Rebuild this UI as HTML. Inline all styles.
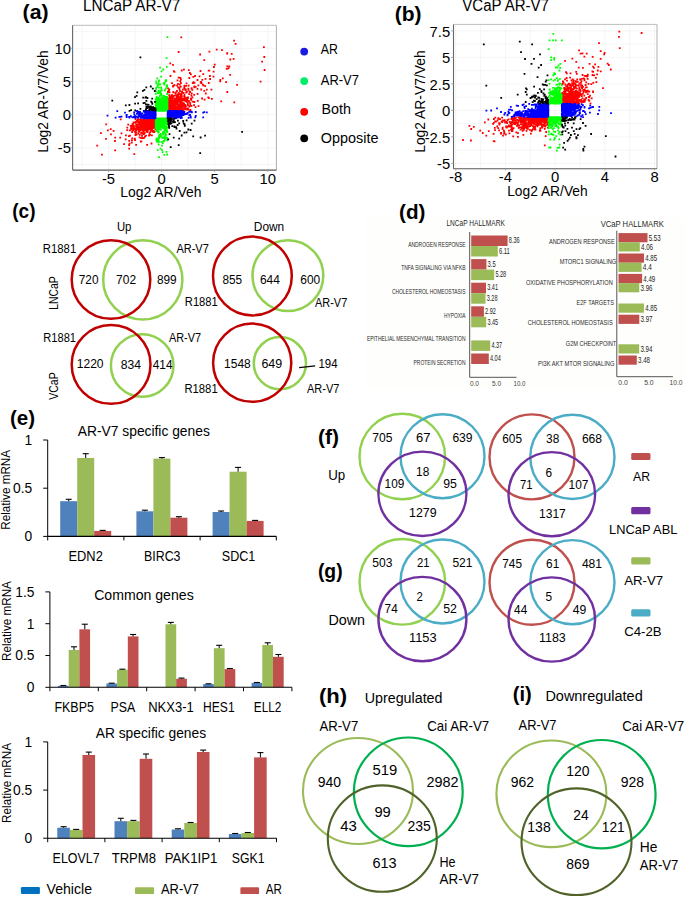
<!DOCTYPE html><html><head><meta charset="utf-8"><style>html,body{margin:0;padding:0;background:#fff;}svg{display:block;}text{font-family:"Liberation Sans",sans-serif;}</style></head><body><svg width="685" height="897" viewBox="0 0 685 897" font-family="Liberation Sans, sans-serif">
<rect x="0.0" y="0.0" width="685.0" height="897.0" fill="#ffffff"/>
<rect x="72.6" y="25.3" width="203.8" height="144.8" fill="#ffffff"/>
<line x1="82.0" y1="25.3" x2="82.0" y2="170.1" stroke="#f0f0f0" stroke-width="0.7"/>
<line x1="108.5" y1="25.3" x2="108.5" y2="170.1" stroke="#f0f0f0" stroke-width="0.7"/>
<line x1="135.1" y1="25.3" x2="135.1" y2="170.1" stroke="#f0f0f0" stroke-width="0.7"/>
<line x1="161.6" y1="25.3" x2="161.6" y2="170.1" stroke="#f0f0f0" stroke-width="0.7"/>
<line x1="188.1" y1="25.3" x2="188.1" y2="170.1" stroke="#f0f0f0" stroke-width="0.7"/>
<line x1="214.7" y1="25.3" x2="214.7" y2="170.1" stroke="#f0f0f0" stroke-width="0.7"/>
<line x1="241.2" y1="25.3" x2="241.2" y2="170.1" stroke="#f0f0f0" stroke-width="0.7"/>
<line x1="267.8" y1="25.3" x2="267.8" y2="170.1" stroke="#f0f0f0" stroke-width="0.7"/>
<line x1="72.6" y1="31.7" x2="276.4" y2="31.7" stroke="#f0f0f0" stroke-width="0.7"/>
<line x1="72.6" y1="48.3" x2="276.4" y2="48.3" stroke="#f0f0f0" stroke-width="0.7"/>
<line x1="72.6" y1="64.9" x2="276.4" y2="64.9" stroke="#f0f0f0" stroke-width="0.7"/>
<line x1="72.6" y1="81.4" x2="276.4" y2="81.4" stroke="#f0f0f0" stroke-width="0.7"/>
<line x1="72.6" y1="98.0" x2="276.4" y2="98.0" stroke="#f0f0f0" stroke-width="0.7"/>
<line x1="72.6" y1="114.6" x2="276.4" y2="114.6" stroke="#f0f0f0" stroke-width="0.7"/>
<line x1="72.6" y1="131.2" x2="276.4" y2="131.2" stroke="#f0f0f0" stroke-width="0.7"/>
<line x1="72.6" y1="147.8" x2="276.4" y2="147.8" stroke="#f0f0f0" stroke-width="0.7"/>
<line x1="72.6" y1="164.3" x2="276.4" y2="164.3" stroke="#f0f0f0" stroke-width="0.7"/>
<path fill="#ff0000" d="M151.9 121.9h1.8v1.8h-1.8zM147.1 122.8h1.8v1.8h-1.8zM154.2 118.9h1.8v1.8h-1.8zM179.6 104.7h1.8v1.8h-1.8zM172.8 105.1h1.8v1.8h-1.8zM153.7 119.3h1.8v1.8h-1.8zM174.4 103.6h1.8v1.8h-1.8zM144.9 119.6h1.8v1.8h-1.8zM173.8 102.8h1.8v1.8h-1.8zM148.5 118.4h1.8v1.8h-1.8zM170.2 102.7h1.8v1.8h-1.8zM168.9 105.2h1.8v1.8h-1.8zM150.1 129.4h1.8v1.8h-1.8zM144.8 121.7h1.8v1.8h-1.8zM146.6 120.0h1.8v1.8h-1.8zM141.6 125.5h1.8v1.8h-1.8zM183.8 105.0h1.8v1.8h-1.8zM145.5 119.3h1.8v1.8h-1.8zM152.1 119.7h1.8v1.8h-1.8zM176.7 103.0h1.8v1.8h-1.8zM145.1 127.7h1.8v1.8h-1.8zM173.6 105.6h1.8v1.8h-1.8zM152.1 117.6h1.8v1.8h-1.8zM168.2 104.1h1.8v1.8h-1.8zM172.7 109.6h1.8v1.8h-1.8zM148.8 121.0h1.8v1.8h-1.8zM170.2 107.1h1.8v1.8h-1.8zM171.3 103.9h1.8v1.8h-1.8zM151.5 118.7h1.8v1.8h-1.8zM168.2 106.6h1.8v1.8h-1.8zM141.5 121.0h1.8v1.8h-1.8zM176.7 107.3h1.8v1.8h-1.8zM173.6 105.8h1.8v1.8h-1.8zM153.0 120.6h1.8v1.8h-1.8zM152.1 125.4h1.8v1.8h-1.8zM178.9 104.5h1.8v1.8h-1.8zM149.6 120.0h1.8v1.8h-1.8zM172.1 109.4h1.8v1.8h-1.8zM145.6 121.6h1.8v1.8h-1.8zM168.5 101.6h1.8v1.8h-1.8zM169.9 105.6h1.8v1.8h-1.8zM180.0 106.1h1.8v1.8h-1.8zM149.0 124.6h1.8v1.8h-1.8zM152.6 118.2h1.8v1.8h-1.8zM131.8 125.7h1.8v1.8h-1.8zM184.0 98.2h1.8v1.8h-1.8zM148.5 120.5h1.8v1.8h-1.8zM179.7 95.5h1.8v1.8h-1.8zM149.5 118.6h1.8v1.8h-1.8zM138.6 118.5h1.8v1.8h-1.8zM152.8 124.5h1.8v1.8h-1.8zM176.5 99.9h1.8v1.8h-1.8zM171.3 104.1h1.8v1.8h-1.8zM145.5 123.8h1.8v1.8h-1.8zM150.2 118.4h1.8v1.8h-1.8zM167.5 109.2h1.8v1.8h-1.8zM143.5 119.6h1.8v1.8h-1.8zM146.8 119.5h1.8v1.8h-1.8zM170.6 106.2h1.8v1.8h-1.8zM147.0 119.9h1.8v1.8h-1.8zM174.5 105.9h1.8v1.8h-1.8zM144.5 122.7h1.8v1.8h-1.8zM176.2 103.0h1.8v1.8h-1.8zM153.7 117.5h1.8v1.8h-1.8zM167.1 104.3h1.8v1.8h-1.8zM154.4 121.4h1.8v1.8h-1.8zM172.2 109.9h1.8v1.8h-1.8zM153.0 117.7h1.8v1.8h-1.8zM152.6 120.3h1.8v1.8h-1.8zM167.7 109.7h1.8v1.8h-1.8zM169.7 104.5h1.8v1.8h-1.8zM144.8 118.4h1.8v1.8h-1.8zM174.0 107.3h1.8v1.8h-1.8zM146.3 117.4h1.8v1.8h-1.8zM152.6 120.7h1.8v1.8h-1.8zM167.1 108.4h1.8v1.8h-1.8zM174.1 109.0h1.8v1.8h-1.8zM146.5 119.8h1.8v1.8h-1.8zM174.3 100.4h1.8v1.8h-1.8zM150.1 124.4h1.8v1.8h-1.8zM180.7 97.8h1.8v1.8h-1.8zM142.7 128.1h1.8v1.8h-1.8zM152.8 118.1h1.8v1.8h-1.8zM151.2 125.9h1.8v1.8h-1.8zM147.3 127.0h1.8v1.8h-1.8zM144.9 123.4h1.8v1.8h-1.8zM141.7 119.3h1.8v1.8h-1.8zM169.3 102.1h1.8v1.8h-1.8zM167.7 108.1h1.8v1.8h-1.8zM170.2 108.0h1.8v1.8h-1.8zM169.5 108.2h1.8v1.8h-1.8zM172.5 105.7h1.8v1.8h-1.8zM179.5 106.6h1.8v1.8h-1.8zM175.7 98.2h1.8v1.8h-1.8zM153.1 118.1h1.8v1.8h-1.8zM146.7 124.2h1.8v1.8h-1.8zM146.6 123.6h1.8v1.8h-1.8zM167.9 108.6h1.8v1.8h-1.8zM145.1 121.6h1.8v1.8h-1.8zM154.4 119.6h1.8v1.8h-1.8zM142.3 125.3h1.8v1.8h-1.8zM167.1 105.9h1.8v1.8h-1.8zM170.0 109.8h1.8v1.8h-1.8zM144.8 126.6h1.8v1.8h-1.8zM141.9 119.0h1.8v1.8h-1.8zM151.7 119.0h1.8v1.8h-1.8zM169.3 103.4h1.8v1.8h-1.8zM169.8 109.2h1.8v1.8h-1.8zM149.6 124.7h1.8v1.8h-1.8zM172.8 109.0h1.8v1.8h-1.8zM174.7 109.4h1.8v1.8h-1.8zM171.2 104.9h1.8v1.8h-1.8zM142.0 129.8h1.8v1.8h-1.8zM176.6 107.7h1.8v1.8h-1.8zM151.9 120.8h1.8v1.8h-1.8zM167.4 109.2h1.8v1.8h-1.8zM133.7 121.7h1.8v1.8h-1.8zM152.8 119.4h1.8v1.8h-1.8zM174.3 107.8h1.8v1.8h-1.8zM150.7 117.5h1.8v1.8h-1.8zM143.0 124.7h1.8v1.8h-1.8zM144.3 122.5h1.8v1.8h-1.8zM168.8 107.9h1.8v1.8h-1.8zM171.7 104.8h1.8v1.8h-1.8zM151.4 118.4h1.8v1.8h-1.8zM153.2 121.7h1.8v1.8h-1.8zM144.2 127.4h1.8v1.8h-1.8zM172.8 105.2h1.8v1.8h-1.8zM169.8 106.2h1.8v1.8h-1.8zM173.9 109.3h1.8v1.8h-1.8zM152.0 123.9h1.8v1.8h-1.8zM179.3 102.9h1.8v1.8h-1.8zM147.0 129.0h1.8v1.8h-1.8zM131.8 124.1h1.8v1.8h-1.8zM151.5 117.6h1.8v1.8h-1.8zM138.5 127.3h1.8v1.8h-1.8zM169.9 104.9h1.8v1.8h-1.8zM153.0 123.6h1.8v1.8h-1.8zM182.7 104.0h1.8v1.8h-1.8zM168.5 109.3h1.8v1.8h-1.8zM168.8 103.6h1.8v1.8h-1.8zM144.6 120.0h1.8v1.8h-1.8zM166.7 109.3h1.8v1.8h-1.8zM145.1 119.0h1.8v1.8h-1.8zM146.3 120.3h1.8v1.8h-1.8zM173.1 105.1h1.8v1.8h-1.8zM168.0 97.8h1.8v1.8h-1.8zM151.2 120.3h1.8v1.8h-1.8zM187.5 108.6h1.8v1.8h-1.8zM167.3 108.4h1.8v1.8h-1.8zM141.5 127.2h1.8v1.8h-1.8zM136.6 124.9h1.8v1.8h-1.8zM184.8 98.6h1.8v1.8h-1.8zM152.3 118.3h1.8v1.8h-1.8zM154.5 118.3h1.8v1.8h-1.8zM143.6 129.7h1.8v1.8h-1.8zM170.8 105.3h1.8v1.8h-1.8zM148.2 121.9h1.8v1.8h-1.8zM153.6 120.9h1.8v1.8h-1.8zM140.3 119.0h1.8v1.8h-1.8zM171.1 107.6h1.8v1.8h-1.8zM171.7 105.1h1.8v1.8h-1.8zM176.2 100.6h1.8v1.8h-1.8zM150.8 127.9h1.8v1.8h-1.8zM168.1 107.4h1.8v1.8h-1.8zM138.9 122.4h1.8v1.8h-1.8zM171.9 105.9h1.8v1.8h-1.8zM150.9 118.4h1.8v1.8h-1.8zM170.4 109.1h1.8v1.8h-1.8zM170.9 107.5h1.8v1.8h-1.8zM154.4 117.6h1.8v1.8h-1.8zM170.6 110.0h1.8v1.8h-1.8zM153.8 118.8h1.8v1.8h-1.8zM151.2 119.4h1.8v1.8h-1.8zM187.2 96.6h1.8v1.8h-1.8zM142.3 118.6h1.8v1.8h-1.8zM174.9 106.2h1.8v1.8h-1.8zM170.8 107.1h1.8v1.8h-1.8zM152.4 123.4h1.8v1.8h-1.8zM147.7 124.6h1.8v1.8h-1.8zM141.1 123.4h1.8v1.8h-1.8zM146.7 124.4h1.8v1.8h-1.8zM172.4 102.0h1.8v1.8h-1.8zM173.3 105.8h1.8v1.8h-1.8zM140.5 128.6h1.8v1.8h-1.8zM173.1 105.1h1.8v1.8h-1.8zM170.8 106.9h1.8v1.8h-1.8zM154.0 118.8h1.8v1.8h-1.8zM176.4 99.2h1.8v1.8h-1.8zM134.8 121.2h1.8v1.8h-1.8zM173.1 107.0h1.8v1.8h-1.8zM169.5 104.6h1.8v1.8h-1.8zM141.9 118.5h1.8v1.8h-1.8zM168.2 109.3h1.8v1.8h-1.8zM181.3 103.6h1.8v1.8h-1.8zM167.4 109.0h1.8v1.8h-1.8zM173.5 105.4h1.8v1.8h-1.8zM169.2 108.7h1.8v1.8h-1.8zM167.7 109.6h1.8v1.8h-1.8zM172.6 105.7h1.8v1.8h-1.8zM148.6 124.0h1.8v1.8h-1.8zM182.8 99.0h1.8v1.8h-1.8zM152.4 121.4h1.8v1.8h-1.8zM175.0 102.5h1.8v1.8h-1.8zM153.9 119.4h1.8v1.8h-1.8zM150.2 119.5h1.8v1.8h-1.8zM167.1 105.8h1.8v1.8h-1.8zM147.4 118.9h1.8v1.8h-1.8zM152.7 121.5h1.8v1.8h-1.8zM178.2 105.0h1.8v1.8h-1.8zM145.0 128.6h1.8v1.8h-1.8zM151.1 119.5h1.8v1.8h-1.8zM174.9 109.3h1.8v1.8h-1.8zM140.6 120.1h1.8v1.8h-1.8zM142.7 118.9h1.8v1.8h-1.8zM169.2 101.7h1.8v1.8h-1.8zM169.9 107.4h1.8v1.8h-1.8zM173.5 109.0h1.8v1.8h-1.8zM150.2 122.0h1.8v1.8h-1.8zM170.3 108.6h1.8v1.8h-1.8zM168.9 102.9h1.8v1.8h-1.8zM178.2 104.2h1.8v1.8h-1.8zM171.8 107.9h1.8v1.8h-1.8zM152.1 121.3h1.8v1.8h-1.8zM171.1 102.2h1.8v1.8h-1.8zM144.6 120.0h1.8v1.8h-1.8zM150.0 125.8h1.8v1.8h-1.8zM142.7 122.3h1.8v1.8h-1.8zM180.4 93.1h1.8v1.8h-1.8zM142.7 123.9h1.8v1.8h-1.8zM146.5 120.3h1.8v1.8h-1.8zM167.4 106.3h1.8v1.8h-1.8zM153.1 122.1h1.8v1.8h-1.8zM145.6 123.5h1.8v1.8h-1.8zM174.0 107.9h1.8v1.8h-1.8zM169.4 106.5h1.8v1.8h-1.8zM153.1 120.7h1.8v1.8h-1.8zM145.1 123.8h1.8v1.8h-1.8zM153.3 118.1h1.8v1.8h-1.8zM167.4 109.0h1.8v1.8h-1.8zM150.4 120.9h1.8v1.8h-1.8zM149.4 119.5h1.8v1.8h-1.8zM173.5 109.1h1.8v1.8h-1.8zM171.4 109.7h1.8v1.8h-1.8zM168.6 107.1h1.8v1.8h-1.8zM172.0 109.7h1.8v1.8h-1.8zM148.5 123.6h1.8v1.8h-1.8zM145.1 120.5h1.8v1.8h-1.8zM151.1 128.6h1.8v1.8h-1.8zM147.2 118.5h1.8v1.8h-1.8zM176.9 104.0h1.8v1.8h-1.8zM143.8 119.0h1.8v1.8h-1.8zM177.0 105.3h1.8v1.8h-1.8zM175.0 109.3h1.8v1.8h-1.8zM153.0 124.4h1.8v1.8h-1.8zM147.7 124.0h1.8v1.8h-1.8zM151.2 118.8h1.8v1.8h-1.8zM181.3 104.4h1.8v1.8h-1.8zM146.9 120.7h1.8v1.8h-1.8zM154.2 121.0h1.8v1.8h-1.8zM171.2 108.9h1.8v1.8h-1.8zM174.7 106.4h1.8v1.8h-1.8zM147.8 122.1h1.8v1.8h-1.8zM144.6 123.4h1.8v1.8h-1.8zM168.7 104.6h1.8v1.8h-1.8zM170.0 102.7h1.8v1.8h-1.8zM169.4 109.9h1.8v1.8h-1.8zM175.5 106.4h1.8v1.8h-1.8zM145.1 122.9h1.8v1.8h-1.8zM178.5 106.6h1.8v1.8h-1.8zM150.1 120.9h1.8v1.8h-1.8zM174.8 105.4h1.8v1.8h-1.8zM149.3 125.6h1.8v1.8h-1.8zM170.3 104.8h1.8v1.8h-1.8zM145.7 118.5h1.8v1.8h-1.8zM142.9 125.9h1.8v1.8h-1.8zM151.5 121.6h1.8v1.8h-1.8zM138.9 133.9h1.8v1.8h-1.8zM167.9 107.6h1.8v1.8h-1.8zM169.1 108.7h1.8v1.8h-1.8zM167.4 106.8h1.8v1.8h-1.8zM170.9 107.9h1.8v1.8h-1.8zM174.6 105.4h1.8v1.8h-1.8zM166.7 104.6h1.8v1.8h-1.8zM174.6 102.7h1.8v1.8h-1.8zM169.2 101.6h1.8v1.8h-1.8zM168.5 107.3h1.8v1.8h-1.8zM180.9 99.5h1.8v1.8h-1.8zM142.6 120.1h1.8v1.8h-1.8zM148.2 119.1h1.8v1.8h-1.8zM151.3 119.4h1.8v1.8h-1.8zM149.4 121.4h1.8v1.8h-1.8zM142.8 119.9h1.8v1.8h-1.8zM177.0 102.6h1.8v1.8h-1.8zM167.6 109.2h1.8v1.8h-1.8zM174.4 107.3h1.8v1.8h-1.8zM171.6 106.3h1.8v1.8h-1.8zM152.4 120.1h1.8v1.8h-1.8zM149.7 121.1h1.8v1.8h-1.8zM151.9 119.9h1.8v1.8h-1.8zM132.7 125.9h1.8v1.8h-1.8zM147.4 120.4h1.8v1.8h-1.8zM174.8 103.5h1.8v1.8h-1.8zM169.9 99.6h1.8v1.8h-1.8zM150.2 119.9h1.8v1.8h-1.8zM151.6 119.9h1.8v1.8h-1.8zM153.3 124.2h1.8v1.8h-1.8zM174.2 104.4h1.8v1.8h-1.8zM141.1 120.8h1.8v1.8h-1.8zM143.5 118.3h1.8v1.8h-1.8zM184.6 100.1h1.8v1.8h-1.8zM182.3 105.1h1.8v1.8h-1.8zM131.2 125.1h1.8v1.8h-1.8zM175.5 105.9h1.8v1.8h-1.8zM150.3 119.7h1.8v1.8h-1.8zM142.9 119.2h1.8v1.8h-1.8zM169.8 102.0h1.8v1.8h-1.8zM132.7 128.3h1.8v1.8h-1.8zM153.8 119.8h1.8v1.8h-1.8zM154.4 118.5h1.8v1.8h-1.8zM140.0 125.5h1.8v1.8h-1.8zM169.0 101.9h1.8v1.8h-1.8zM183.7 97.6h1.8v1.8h-1.8zM143.6 121.0h1.8v1.8h-1.8zM170.9 105.8h1.8v1.8h-1.8zM146.5 124.7h1.8v1.8h-1.8zM177.6 107.7h1.8v1.8h-1.8zM152.2 120.5h1.8v1.8h-1.8zM167.7 106.5h1.8v1.8h-1.8zM171.1 102.7h1.8v1.8h-1.8zM169.6 108.6h1.8v1.8h-1.8zM153.8 117.9h1.8v1.8h-1.8zM141.8 132.6h1.8v1.8h-1.8zM149.4 122.0h1.8v1.8h-1.8zM167.8 102.9h1.8v1.8h-1.8zM168.8 109.0h1.8v1.8h-1.8zM168.8 108.6h1.8v1.8h-1.8zM143.0 122.6h1.8v1.8h-1.8zM170.2 104.4h1.8v1.8h-1.8zM169.3 102.8h1.8v1.8h-1.8zM170.2 109.8h1.8v1.8h-1.8zM150.9 121.3h1.8v1.8h-1.8zM176.0 101.9h1.8v1.8h-1.8zM151.0 123.2h1.8v1.8h-1.8zM149.7 119.8h1.8v1.8h-1.8zM154.4 120.0h1.8v1.8h-1.8zM176.9 100.5h1.8v1.8h-1.8zM138.1 127.1h1.8v1.8h-1.8zM149.2 122.1h1.8v1.8h-1.8zM137.6 126.8h1.8v1.8h-1.8zM150.8 118.0h1.8v1.8h-1.8zM174.0 102.0h1.8v1.8h-1.8zM138.6 136.4h1.8v1.8h-1.8zM153.2 126.8h1.8v1.8h-1.8zM150.0 124.6h1.8v1.8h-1.8zM151.6 122.3h1.8v1.8h-1.8zM148.8 121.8h1.8v1.8h-1.8zM186.9 103.8h1.8v1.8h-1.8zM167.8 105.2h1.8v1.8h-1.8zM152.8 122.0h1.8v1.8h-1.8zM153.3 120.0h1.8v1.8h-1.8zM166.8 101.9h1.8v1.8h-1.8zM167.6 109.2h1.8v1.8h-1.8zM146.4 121.2h1.8v1.8h-1.8zM138.4 121.9h1.8v1.8h-1.8zM168.6 104.4h1.8v1.8h-1.8zM128.9 129.5h1.8v1.8h-1.8zM150.0 119.5h1.8v1.8h-1.8zM170.9 106.9h1.8v1.8h-1.8zM152.2 124.1h1.8v1.8h-1.8zM178.0 100.8h1.8v1.8h-1.8zM176.0 109.9h1.8v1.8h-1.8zM176.7 108.0h1.8v1.8h-1.8zM142.2 127.7h1.8v1.8h-1.8zM172.3 108.5h1.8v1.8h-1.8zM151.1 123.1h1.8v1.8h-1.8zM153.2 120.9h1.8v1.8h-1.8zM169.5 100.8h1.8v1.8h-1.8zM173.8 103.6h1.8v1.8h-1.8zM166.7 107.1h1.8v1.8h-1.8zM168.8 109.1h1.8v1.8h-1.8zM170.9 109.5h1.8v1.8h-1.8zM142.9 120.5h1.8v1.8h-1.8zM168.4 107.5h1.8v1.8h-1.8zM173.9 109.9h1.8v1.8h-1.8zM171.1 105.4h1.8v1.8h-1.8zM154.2 119.6h1.8v1.8h-1.8zM137.4 121.1h1.8v1.8h-1.8zM135.9 126.3h1.8v1.8h-1.8zM148.2 120.1h1.8v1.8h-1.8zM172.7 103.5h1.8v1.8h-1.8zM172.7 104.6h1.8v1.8h-1.8zM182.0 99.3h1.8v1.8h-1.8zM154.5 123.1h1.8v1.8h-1.8zM139.8 118.8h1.8v1.8h-1.8zM173.7 108.7h1.8v1.8h-1.8zM146.8 118.5h1.8v1.8h-1.8zM187.1 104.5h1.8v1.8h-1.8zM147.2 122.6h1.8v1.8h-1.8zM173.0 102.4h1.8v1.8h-1.8zM173.0 109.2h1.8v1.8h-1.8zM142.5 121.7h1.8v1.8h-1.8zM167.6 106.0h1.8v1.8h-1.8zM171.1 106.3h1.8v1.8h-1.8zM148.3 121.6h1.8v1.8h-1.8zM144.3 122.6h1.8v1.8h-1.8zM154.6 119.4h1.8v1.8h-1.8zM145.6 122.3h1.8v1.8h-1.8zM169.2 106.5h1.8v1.8h-1.8zM177.9 98.4h1.8v1.8h-1.8zM139.1 126.5h1.8v1.8h-1.8zM177.8 97.1h1.8v1.8h-1.8zM151.8 121.4h1.8v1.8h-1.8zM153.7 120.3h1.8v1.8h-1.8zM138.2 130.8h1.8v1.8h-1.8zM179.7 103.7h1.8v1.8h-1.8zM175.6 106.1h1.8v1.8h-1.8zM146.2 117.5h1.8v1.8h-1.8zM168.9 109.7h1.8v1.8h-1.8zM174.3 104.5h1.8v1.8h-1.8zM143.9 124.6h1.8v1.8h-1.8zM173.9 101.9h1.8v1.8h-1.8zM151.6 119.3h1.8v1.8h-1.8zM182.9 102.5h1.8v1.8h-1.8zM151.7 123.8h1.8v1.8h-1.8zM142.2 124.7h1.8v1.8h-1.8zM172.8 105.9h1.8v1.8h-1.8zM137.8 128.1h1.8v1.8h-1.8zM150.6 121.3h1.8v1.8h-1.8zM186.9 102.1h1.8v1.8h-1.8zM185.0 105.5h1.8v1.8h-1.8zM180.9 95.3h1.8v1.8h-1.8zM169.1 104.8h1.8v1.8h-1.8zM137.0 119.1h1.8v1.8h-1.8zM152.2 122.6h1.8v1.8h-1.8zM134.0 130.6h1.8v1.8h-1.8zM133.6 126.4h1.8v1.8h-1.8zM128.0 135.2h1.8v1.8h-1.8zM152.0 118.7h1.8v1.8h-1.8zM169.2 98.9h1.8v1.8h-1.8zM151.2 121.2h1.8v1.8h-1.8zM149.6 120.7h1.8v1.8h-1.8zM167.1 109.2h1.8v1.8h-1.8zM145.2 122.9h1.8v1.8h-1.8zM172.1 108.9h1.8v1.8h-1.8zM145.8 126.0h1.8v1.8h-1.8zM151.8 118.7h1.8v1.8h-1.8zM176.0 106.9h1.8v1.8h-1.8zM167.5 109.3h1.8v1.8h-1.8zM172.3 105.2h1.8v1.8h-1.8zM171.2 102.6h1.8v1.8h-1.8zM177.7 98.5h1.8v1.8h-1.8zM180.9 108.9h1.8v1.8h-1.8zM168.0 104.7h1.8v1.8h-1.8zM150.7 124.1h1.8v1.8h-1.8zM132.2 129.4h1.8v1.8h-1.8zM131.5 123.5h1.8v1.8h-1.8zM147.4 121.3h1.8v1.8h-1.8zM152.0 118.8h1.8v1.8h-1.8zM167.1 105.0h1.8v1.8h-1.8zM177.2 105.8h1.8v1.8h-1.8zM147.4 120.6h1.8v1.8h-1.8zM150.5 120.1h1.8v1.8h-1.8zM175.2 102.0h1.8v1.8h-1.8zM193.5 101.1h1.8v1.8h-1.8zM140.8 120.6h1.8v1.8h-1.8zM151.7 126.1h1.8v1.8h-1.8zM145.4 119.2h1.8v1.8h-1.8zM146.2 125.3h1.8v1.8h-1.8zM135.2 123.3h1.8v1.8h-1.8zM145.5 123.0h1.8v1.8h-1.8zM175.0 107.2h1.8v1.8h-1.8zM167.8 107.1h1.8v1.8h-1.8zM170.1 106.5h1.8v1.8h-1.8zM167.8 109.7h1.8v1.8h-1.8zM150.3 118.9h1.8v1.8h-1.8zM152.8 126.5h1.8v1.8h-1.8zM174.6 107.3h1.8v1.8h-1.8zM171.9 104.3h1.8v1.8h-1.8zM166.9 109.0h1.8v1.8h-1.8zM148.8 119.2h1.8v1.8h-1.8zM169.8 104.0h1.8v1.8h-1.8zM154.6 123.2h1.8v1.8h-1.8zM168.9 104.7h1.8v1.8h-1.8zM132.9 124.7h1.8v1.8h-1.8zM152.5 121.0h1.8v1.8h-1.8zM140.4 128.1h1.8v1.8h-1.8zM177.5 105.0h1.8v1.8h-1.8zM176.4 105.7h1.8v1.8h-1.8zM173.5 106.8h1.8v1.8h-1.8zM171.7 102.8h1.8v1.8h-1.8zM168.1 109.3h1.8v1.8h-1.8zM175.3 107.2h1.8v1.8h-1.8zM170.6 109.2h1.8v1.8h-1.8zM170.9 105.7h1.8v1.8h-1.8zM170.5 107.3h1.8v1.8h-1.8zM152.0 119.8h1.8v1.8h-1.8zM170.4 109.4h1.8v1.8h-1.8zM140.7 127.7h1.8v1.8h-1.8zM168.6 104.5h1.8v1.8h-1.8zM142.8 120.3h1.8v1.8h-1.8zM177.5 106.1h1.8v1.8h-1.8zM171.6 104.7h1.8v1.8h-1.8zM168.4 108.0h1.8v1.8h-1.8zM180.1 100.9h1.8v1.8h-1.8zM170.6 109.4h1.8v1.8h-1.8zM177.3 106.8h1.8v1.8h-1.8zM172.7 109.1h1.8v1.8h-1.8zM167.4 108.5h1.8v1.8h-1.8zM180.7 101.7h1.8v1.8h-1.8zM148.9 118.8h1.8v1.8h-1.8zM171.2 104.6h1.8v1.8h-1.8zM141.5 128.0h1.8v1.8h-1.8zM176.0 105.9h1.8v1.8h-1.8zM178.7 98.3h1.8v1.8h-1.8zM188.0 100.1h1.8v1.8h-1.8zM139.6 121.0h1.8v1.8h-1.8zM177.6 105.0h1.8v1.8h-1.8zM141.0 123.1h1.8v1.8h-1.8zM148.9 118.9h1.8v1.8h-1.8zM147.4 121.8h1.8v1.8h-1.8zM183.4 97.5h1.8v1.8h-1.8zM173.7 103.7h1.8v1.8h-1.8zM183.8 96.0h1.8v1.8h-1.8zM142.4 125.3h1.8v1.8h-1.8zM152.4 123.8h1.8v1.8h-1.8zM147.0 120.6h1.8v1.8h-1.8zM147.5 118.6h1.8v1.8h-1.8zM148.3 123.3h1.8v1.8h-1.8zM151.0 118.2h1.8v1.8h-1.8zM170.1 99.9h1.8v1.8h-1.8zM184.1 107.5h1.8v1.8h-1.8zM173.9 104.3h1.8v1.8h-1.8zM150.6 120.5h1.8v1.8h-1.8zM153.6 119.3h1.8v1.8h-1.8zM154.6 118.0h1.8v1.8h-1.8zM146.4 127.5h1.8v1.8h-1.8zM143.6 117.5h1.8v1.8h-1.8zM166.8 105.2h1.8v1.8h-1.8zM169.6 106.3h1.8v1.8h-1.8zM170.0 108.9h1.8v1.8h-1.8zM148.6 122.1h1.8v1.8h-1.8zM184.5 104.2h1.8v1.8h-1.8zM149.7 119.4h1.8v1.8h-1.8zM148.5 122.1h1.8v1.8h-1.8zM181.2 105.2h1.8v1.8h-1.8zM168.2 109.3h1.8v1.8h-1.8zM172.1 104.7h1.8v1.8h-1.8zM169.5 106.4h1.8v1.8h-1.8zM167.5 103.3h1.8v1.8h-1.8zM147.8 119.7h1.8v1.8h-1.8zM150.5 118.3h1.8v1.8h-1.8zM173.0 100.7h1.8v1.8h-1.8zM139.6 124.2h1.8v1.8h-1.8zM147.4 122.1h1.8v1.8h-1.8zM168.8 108.5h1.8v1.8h-1.8zM171.7 100.2h1.8v1.8h-1.8zM169.5 109.9h1.8v1.8h-1.8zM170.5 106.5h1.8v1.8h-1.8zM154.6 117.9h1.8v1.8h-1.8zM153.9 118.8h1.8v1.8h-1.8zM174.6 105.8h1.8v1.8h-1.8zM174.1 106.7h1.8v1.8h-1.8zM135.1 129.5h1.8v1.8h-1.8zM166.7 108.8h1.8v1.8h-1.8zM170.0 107.9h1.8v1.8h-1.8zM178.5 100.6h1.8v1.8h-1.8zM152.1 122.1h1.8v1.8h-1.8zM136.4 121.0h1.8v1.8h-1.8zM149.7 118.6h1.8v1.8h-1.8zM144.0 119.2h1.8v1.8h-1.8zM167.2 109.4h1.8v1.8h-1.8zM182.6 99.5h1.8v1.8h-1.8zM152.6 119.6h1.8v1.8h-1.8zM182.6 105.1h1.8v1.8h-1.8zM176.1 99.9h1.8v1.8h-1.8zM148.9 118.9h1.8v1.8h-1.8zM148.1 120.6h1.8v1.8h-1.8zM141.7 120.1h1.8v1.8h-1.8zM152.2 123.5h1.8v1.8h-1.8zM154.2 117.6h1.8v1.8h-1.8zM170.8 107.5h1.8v1.8h-1.8zM181.5 105.8h1.8v1.8h-1.8zM167.6 107.5h1.8v1.8h-1.8zM167.7 107.5h1.8v1.8h-1.8zM152.0 118.9h1.8v1.8h-1.8zM177.7 95.9h1.8v1.8h-1.8zM146.2 121.0h1.8v1.8h-1.8zM152.6 119.5h1.8v1.8h-1.8zM144.9 122.2h1.8v1.8h-1.8zM153.8 117.9h1.8v1.8h-1.8zM167.5 106.9h1.8v1.8h-1.8zM169.3 109.2h1.8v1.8h-1.8zM132.3 128.5h1.8v1.8h-1.8zM112.7 129.9h1.8v1.8h-1.8zM150.4 117.5h1.8v1.8h-1.8zM133.8 137.7h1.8v1.8h-1.8zM147.5 120.0h1.8v1.8h-1.8zM151.4 121.0h1.8v1.8h-1.8zM154.5 128.1h1.8v1.8h-1.8zM150.9 128.9h1.8v1.8h-1.8zM185.4 84.9h1.8v1.8h-1.8zM181.7 101.8h1.8v1.8h-1.8zM168.1 105.5h1.8v1.8h-1.8zM147.3 122.8h1.8v1.8h-1.8zM207.9 82.1h1.8v1.8h-1.8zM167.9 107.3h1.8v1.8h-1.8zM178.7 103.8h1.8v1.8h-1.8zM190.8 92.5h1.8v1.8h-1.8zM191.4 89.0h1.8v1.8h-1.8zM148.8 120.2h1.8v1.8h-1.8zM147.6 119.1h1.8v1.8h-1.8zM167.0 98.0h1.8v1.8h-1.8zM147.5 119.4h1.8v1.8h-1.8zM143.0 137.3h1.8v1.8h-1.8zM170.1 104.3h1.8v1.8h-1.8zM153.4 118.5h1.8v1.8h-1.8zM194.6 106.3h1.8v1.8h-1.8zM172.5 101.7h1.8v1.8h-1.8zM169.0 109.5h1.8v1.8h-1.8zM179.9 85.8h1.8v1.8h-1.8zM181.6 98.1h1.8v1.8h-1.8zM146.8 120.2h1.8v1.8h-1.8zM130.5 128.2h1.8v1.8h-1.8zM175.9 96.7h1.8v1.8h-1.8zM144.9 121.9h1.8v1.8h-1.8zM153.5 117.4h1.8v1.8h-1.8zM128.2 144.1h1.8v1.8h-1.8zM176.8 108.3h1.8v1.8h-1.8zM187.5 87.8h1.8v1.8h-1.8zM152.4 120.4h1.8v1.8h-1.8zM153.4 120.0h1.8v1.8h-1.8zM170.7 94.5h1.8v1.8h-1.8zM153.6 120.7h1.8v1.8h-1.8zM170.0 109.1h1.8v1.8h-1.8zM263.7 69.1h1.8v1.8h-1.8zM151.7 122.0h1.8v1.8h-1.8zM173.6 84.3h1.8v1.8h-1.8zM148.3 127.1h1.8v1.8h-1.8zM150.2 119.5h1.8v1.8h-1.8zM177.1 97.0h1.8v1.8h-1.8zM204.6 77.9h1.8v1.8h-1.8zM145.2 134.7h1.8v1.8h-1.8zM137.4 123.9h1.8v1.8h-1.8zM172.5 97.0h1.8v1.8h-1.8zM229.3 73.9h1.8v1.8h-1.8zM172.2 101.7h1.8v1.8h-1.8zM209.0 75.1h1.8v1.8h-1.8zM177.3 86.6h1.8v1.8h-1.8zM183.5 86.1h1.8v1.8h-1.8zM183.1 102.8h1.8v1.8h-1.8zM169.7 104.4h1.8v1.8h-1.8zM146.9 129.7h1.8v1.8h-1.8zM148.2 121.3h1.8v1.8h-1.8zM185.9 100.9h1.8v1.8h-1.8zM151.5 124.0h1.8v1.8h-1.8zM147.1 125.3h1.8v1.8h-1.8zM211.0 98.0h1.8v1.8h-1.8zM150.2 119.8h1.8v1.8h-1.8zM174.2 107.8h1.8v1.8h-1.8zM148.0 123.4h1.8v1.8h-1.8zM170.2 96.3h1.8v1.8h-1.8zM176.0 101.6h1.8v1.8h-1.8zM172.4 91.0h1.8v1.8h-1.8zM196.7 92.9h1.8v1.8h-1.8zM152.4 118.9h1.8v1.8h-1.8zM199.2 53.6h1.8v1.8h-1.8zM168.4 109.6h1.8v1.8h-1.8zM146.6 131.1h1.8v1.8h-1.8zM140.5 140.5h1.8v1.8h-1.8zM143.0 122.9h1.8v1.8h-1.8zM173.5 71.0h1.8v1.8h-1.8zM171.2 98.4h1.8v1.8h-1.8zM259.7 80.8h1.8v1.8h-1.8zM171.7 96.5h1.8v1.8h-1.8zM169.6 107.5h1.8v1.8h-1.8zM183.6 94.0h1.8v1.8h-1.8zM173.5 104.6h1.8v1.8h-1.8zM153.4 119.1h1.8v1.8h-1.8zM114.2 149.5h1.8v1.8h-1.8zM168.7 91.4h1.8v1.8h-1.8zM180.7 95.6h1.8v1.8h-1.8zM152.8 121.1h1.8v1.8h-1.8zM178.1 105.1h1.8v1.8h-1.8zM151.8 118.4h1.8v1.8h-1.8zM135.6 133.7h1.8v1.8h-1.8zM172.2 100.4h1.8v1.8h-1.8zM189.0 72.1h1.8v1.8h-1.8zM134.8 127.8h1.8v1.8h-1.8zM171.3 105.5h1.8v1.8h-1.8zM148.8 121.5h1.8v1.8h-1.8zM169.9 105.7h1.8v1.8h-1.8zM149.5 123.3h1.8v1.8h-1.8zM148.5 118.6h1.8v1.8h-1.8zM149.3 124.0h1.8v1.8h-1.8zM152.7 119.9h1.8v1.8h-1.8zM175.2 102.4h1.8v1.8h-1.8zM175.8 103.5h1.8v1.8h-1.8zM173.6 101.7h1.8v1.8h-1.8zM154.4 119.9h1.8v1.8h-1.8zM169.6 106.9h1.8v1.8h-1.8zM207.8 69.8h1.8v1.8h-1.8zM152.5 124.2h1.8v1.8h-1.8zM137.7 129.7h1.8v1.8h-1.8zM172.7 94.9h1.8v1.8h-1.8zM193.4 85.4h1.8v1.8h-1.8zM130.6 126.5h1.8v1.8h-1.8zM221.1 49.3h1.8v1.8h-1.8zM173.5 101.0h1.8v1.8h-1.8zM199.6 70.1h1.8v1.8h-1.8zM172.3 91.5h1.8v1.8h-1.8zM119.3 136.8h1.8v1.8h-1.8zM149.1 117.7h1.8v1.8h-1.8zM167.4 107.1h1.8v1.8h-1.8zM137.9 118.7h1.8v1.8h-1.8zM172.3 102.4h1.8v1.8h-1.8zM197.5 84.5h1.8v1.8h-1.8zM171.2 94.3h1.8v1.8h-1.8zM153.6 117.5h1.8v1.8h-1.8zM179.3 80.4h1.8v1.8h-1.8zM181.0 104.6h1.8v1.8h-1.8zM180.8 91.7h1.8v1.8h-1.8zM149.3 131.2h1.8v1.8h-1.8zM153.1 120.3h1.8v1.8h-1.8zM141.6 137.1h1.8v1.8h-1.8zM167.2 106.1h1.8v1.8h-1.8zM190.0 73.5h1.8v1.8h-1.8zM148.1 118.7h1.8v1.8h-1.8zM208.4 69.8h1.8v1.8h-1.8zM181.3 109.3h1.8v1.8h-1.8zM219.4 79.0h1.8v1.8h-1.8zM173.7 99.3h1.8v1.8h-1.8zM171.2 98.2h1.8v1.8h-1.8zM148.8 126.4h1.8v1.8h-1.8zM221.9 77.4h1.8v1.8h-1.8zM263.0 46.2h1.8v1.8h-1.8zM147.0 128.1h1.8v1.8h-1.8zM177.1 109.6h1.8v1.8h-1.8zM170.9 107.5h1.8v1.8h-1.8zM146.6 119.1h1.8v1.8h-1.8zM192.6 81.3h1.8v1.8h-1.8zM146.3 119.0h1.8v1.8h-1.8zM150.6 142.6h1.8v1.8h-1.8zM143.7 125.7h1.8v1.8h-1.8zM190.7 87.8h1.8v1.8h-1.8zM177.3 97.6h1.8v1.8h-1.8zM225.2 81.3h1.8v1.8h-1.8zM152.1 123.9h1.8v1.8h-1.8zM171.4 105.4h1.8v1.8h-1.8zM152.0 122.1h1.8v1.8h-1.8zM146.7 118.1h1.8v1.8h-1.8zM148.0 122.2h1.8v1.8h-1.8zM124.8 138.4h1.8v1.8h-1.8zM145.5 121.4h1.8v1.8h-1.8zM171.0 100.6h1.8v1.8h-1.8zM186.7 97.8h1.8v1.8h-1.8zM168.6 95.5h1.8v1.8h-1.8zM176.9 97.0h1.8v1.8h-1.8zM184.3 108.4h1.8v1.8h-1.8zM142.5 129.3h1.8v1.8h-1.8zM141.9 118.9h1.8v1.8h-1.8zM144.6 129.7h1.8v1.8h-1.8zM150.3 123.1h1.8v1.8h-1.8zM187.0 107.8h1.8v1.8h-1.8zM177.0 103.7h1.8v1.8h-1.8zM177.4 104.8h1.8v1.8h-1.8zM135.3 131.4h1.8v1.8h-1.8zM143.0 132.8h1.8v1.8h-1.8zM176.6 79.4h1.8v1.8h-1.8zM128.7 142.8h1.8v1.8h-1.8zM168.9 95.9h1.8v1.8h-1.8zM138.5 126.0h1.8v1.8h-1.8zM140.6 132.2h1.8v1.8h-1.8zM186.4 107.4h1.8v1.8h-1.8zM179.1 90.1h1.8v1.8h-1.8zM183.9 105.0h1.8v1.8h-1.8zM148.1 134.6h1.8v1.8h-1.8zM152.5 131.3h1.8v1.8h-1.8zM105.1 137.9h1.8v1.8h-1.8zM134.5 134.3h1.8v1.8h-1.8zM177.1 105.6h1.8v1.8h-1.8zM175.0 99.0h1.8v1.8h-1.8zM141.4 121.9h1.8v1.8h-1.8zM226.4 65.5h1.8v1.8h-1.8zM153.3 119.0h1.8v1.8h-1.8zM147.7 123.7h1.8v1.8h-1.8zM182.8 98.0h1.8v1.8h-1.8zM150.5 123.8h1.8v1.8h-1.8zM153.6 118.3h1.8v1.8h-1.8zM188.4 77.1h1.8v1.8h-1.8zM110.1 133.4h1.8v1.8h-1.8zM151.0 121.5h1.8v1.8h-1.8zM134.9 133.6h1.8v1.8h-1.8zM172.3 85.1h1.8v1.8h-1.8zM169.6 75.1h1.8v1.8h-1.8zM100.0 132.2h1.8v1.8h-1.8zM137.6 126.9h1.8v1.8h-1.8zM201.9 83.8h1.8v1.8h-1.8zM169.6 100.8h1.8v1.8h-1.8zM182.4 107.5h1.8v1.8h-1.8zM135.2 144.0h1.8v1.8h-1.8zM186.2 99.6h1.8v1.8h-1.8zM152.5 126.0h1.8v1.8h-1.8zM178.7 93.2h1.8v1.8h-1.8zM173.5 102.0h1.8v1.8h-1.8zM147.8 126.0h1.8v1.8h-1.8zM179.2 100.4h1.8v1.8h-1.8zM263.4 56.1h1.8v1.8h-1.8zM154.4 118.3h1.8v1.8h-1.8zM192.4 76.0h1.8v1.8h-1.8zM186.6 96.7h1.8v1.8h-1.8zM139.8 122.7h1.8v1.8h-1.8zM153.6 123.4h1.8v1.8h-1.8zM147.2 122.2h1.8v1.8h-1.8zM201.2 97.6h1.8v1.8h-1.8zM151.9 126.0h1.8v1.8h-1.8zM148.6 132.8h1.8v1.8h-1.8zM182.9 104.9h1.8v1.8h-1.8zM172.3 96.1h1.8v1.8h-1.8zM148.1 122.5h1.8v1.8h-1.8zM150.4 121.4h1.8v1.8h-1.8zM182.5 109.4h1.8v1.8h-1.8zM149.6 117.7h1.8v1.8h-1.8zM152.4 117.7h1.8v1.8h-1.8zM148.6 128.4h1.8v1.8h-1.8zM141.5 125.2h1.8v1.8h-1.8zM189.4 103.4h1.8v1.8h-1.8zM182.7 92.1h1.8v1.8h-1.8zM178.6 86.6h1.8v1.8h-1.8zM133.9 128.1h1.8v1.8h-1.8zM207.4 96.4h1.8v1.8h-1.8zM153.4 122.3h1.8v1.8h-1.8zM177.2 83.0h1.8v1.8h-1.8zM149.1 134.0h1.8v1.8h-1.8zM150.7 121.7h1.8v1.8h-1.8zM154.4 118.6h1.8v1.8h-1.8zM177.5 109.7h1.8v1.8h-1.8zM140.4 127.7h1.8v1.8h-1.8zM180.6 97.3h1.8v1.8h-1.8zM150.1 122.5h1.8v1.8h-1.8zM144.3 122.4h1.8v1.8h-1.8zM149.3 131.2h1.8v1.8h-1.8zM168.8 100.7h1.8v1.8h-1.8zM170.5 105.2h1.8v1.8h-1.8zM184.2 97.3h1.8v1.8h-1.8zM198.6 75.5h1.8v1.8h-1.8zM140.2 126.2h1.8v1.8h-1.8zM128.3 140.0h1.8v1.8h-1.8zM169.2 103.1h1.8v1.8h-1.8zM204.3 85.3h1.8v1.8h-1.8zM181.1 90.8h1.8v1.8h-1.8zM167.0 91.1h1.8v1.8h-1.8zM185.6 82.5h1.8v1.8h-1.8zM123.2 143.3h1.8v1.8h-1.8zM170.8 97.2h1.8v1.8h-1.8zM167.4 102.2h1.8v1.8h-1.8zM200.3 88.6h1.8v1.8h-1.8zM142.5 133.2h1.8v1.8h-1.8zM145.9 119.6h1.8v1.8h-1.8zM230.8 53.0h1.8v1.8h-1.8zM148.0 122.5h1.8v1.8h-1.8zM173.7 94.7h1.8v1.8h-1.8zM151.4 118.1h1.8v1.8h-1.8zM190.6 105.0h1.8v1.8h-1.8zM154.4 117.4h1.8v1.8h-1.8zM168.4 88.4h1.8v1.8h-1.8zM181.7 108.8h1.8v1.8h-1.8zM144.2 135.6h1.8v1.8h-1.8zM201.4 79.0h1.8v1.8h-1.8zM186.3 108.7h1.8v1.8h-1.8zM151.5 117.8h1.8v1.8h-1.8zM172.9 106.4h1.8v1.8h-1.8zM179.5 77.0h1.8v1.8h-1.8zM169.7 101.3h1.8v1.8h-1.8zM169.7 107.2h1.8v1.8h-1.8zM191.9 82.3h1.8v1.8h-1.8zM233.2 39.8h1.8v1.8h-1.8zM168.3 94.2h1.8v1.8h-1.8zM146.4 131.3h1.8v1.8h-1.8zM219.3 80.5h1.8v1.8h-1.8zM101.0 153.7h1.8v1.8h-1.8zM96.3 144.8h1.8v1.8h-1.8zM114.3 136.8h1.8v1.8h-1.8zM175.3 102.3h1.8v1.8h-1.8zM234.7 43.0h1.8v1.8h-1.8zM144.3 119.9h1.8v1.8h-1.8zM147.7 123.3h1.8v1.8h-1.8zM142.5 130.6h1.8v1.8h-1.8zM176.1 97.3h1.8v1.8h-1.8zM178.6 88.1h1.8v1.8h-1.8zM172.3 95.0h1.8v1.8h-1.8zM228.4 65.6h1.8v1.8h-1.8zM210.5 88.7h1.8v1.8h-1.8zM140.8 132.2h1.8v1.8h-1.8zM131.3 131.1h1.8v1.8h-1.8zM138.1 122.3h1.8v1.8h-1.8zM149.9 122.6h1.8v1.8h-1.8zM144.1 124.0h1.8v1.8h-1.8zM143.9 135.8h1.8v1.8h-1.8zM144.4 118.8h1.8v1.8h-1.8zM145.4 127.9h1.8v1.8h-1.8zM174.0 102.8h1.8v1.8h-1.8zM193.6 82.0h1.8v1.8h-1.8zM183.0 68.8h1.8v1.8h-1.8zM151.4 130.4h1.8v1.8h-1.8zM148.0 120.2h1.8v1.8h-1.8zM152.5 120.3h1.8v1.8h-1.8zM182.0 98.1h1.8v1.8h-1.8zM177.8 91.9h1.8v1.8h-1.8zM177.9 98.9h1.8v1.8h-1.8zM181.1 105.7h1.8v1.8h-1.8zM152.3 126.2h1.8v1.8h-1.8zM151.9 117.9h1.8v1.8h-1.8zM233.4 101.4h1.8v1.8h-1.8zM136.1 119.8h1.8v1.8h-1.8zM185.1 98.5h1.8v1.8h-1.8zM172.8 84.6h1.8v1.8h-1.8zM151.2 120.8h1.8v1.8h-1.8zM148.1 124.8h1.8v1.8h-1.8zM173.7 101.7h1.8v1.8h-1.8zM148.5 124.3h1.8v1.8h-1.8zM175.4 98.7h1.8v1.8h-1.8zM148.4 122.7h1.8v1.8h-1.8zM131.0 139.4h1.8v1.8h-1.8zM173.9 105.3h1.8v1.8h-1.8zM154.4 120.3h1.8v1.8h-1.8zM183.3 99.2h1.8v1.8h-1.8zM179.8 94.8h1.8v1.8h-1.8zM179.9 99.1h1.8v1.8h-1.8zM145.2 119.3h1.8v1.8h-1.8zM171.1 82.2h1.8v1.8h-1.8zM179.0 107.5h1.8v1.8h-1.8zM180.3 107.5h1.8v1.8h-1.8zM139.8 129.7h1.8v1.8h-1.8zM179.3 98.6h1.8v1.8h-1.8zM170.9 102.0h1.8v1.8h-1.8zM152.6 120.0h1.8v1.8h-1.8zM140.8 132.4h1.8v1.8h-1.8zM171.4 101.4h1.8v1.8h-1.8zM143.2 129.6h1.8v1.8h-1.8zM133.4 153.2h1.8v1.8h-1.8zM138.0 123.6h1.8v1.8h-1.8zM151.4 126.3h1.8v1.8h-1.8zM144.7 120.3h1.8v1.8h-1.8zM142.2 129.4h1.8v1.8h-1.8zM178.6 87.0h1.8v1.8h-1.8zM200.1 81.1h1.8v1.8h-1.8zM150.5 122.8h1.8v1.8h-1.8zM146.7 122.5h1.8v1.8h-1.8zM189.1 101.8h1.8v1.8h-1.8zM196.6 79.1h1.8v1.8h-1.8zM148.8 117.5h1.8v1.8h-1.8zM119.8 118.4h1.8v1.8h-1.8zM184.0 103.9h1.8v1.8h-1.8zM153.3 117.6h1.8v1.8h-1.8zM143.5 121.7h1.8v1.8h-1.8zM172.8 99.3h1.8v1.8h-1.8zM227.6 67.4h1.8v1.8h-1.8zM131.3 137.4h1.8v1.8h-1.8zM205.9 88.7h1.8v1.8h-1.8zM145.8 129.2h1.8v1.8h-1.8zM134.1 139.1h1.8v1.8h-1.8zM153.1 119.9h1.8v1.8h-1.8zM132.0 127.9h1.8v1.8h-1.8zM152.6 121.2h1.8v1.8h-1.8zM143.6 122.9h1.8v1.8h-1.8zM135.2 120.9h1.8v1.8h-1.8zM172.6 100.0h1.8v1.8h-1.8zM125.0 134.4h1.8v1.8h-1.8zM167.3 105.5h1.8v1.8h-1.8zM171.4 108.1h1.8v1.8h-1.8zM177.7 76.8h1.8v1.8h-1.8zM142.5 127.9h1.8v1.8h-1.8zM175.5 100.3h1.8v1.8h-1.8zM149.7 127.6h1.8v1.8h-1.8zM168.8 109.5h1.8v1.8h-1.8zM153.4 118.1h1.8v1.8h-1.8zM142.3 129.5h1.8v1.8h-1.8zM139.3 123.9h1.8v1.8h-1.8zM153.2 118.8h1.8v1.8h-1.8zM202.4 73.2h1.8v1.8h-1.8zM140.1 125.0h1.8v1.8h-1.8zM179.8 93.7h1.8v1.8h-1.8zM175.8 101.7h1.8v1.8h-1.8zM180.6 94.3h1.8v1.8h-1.8zM153.8 125.1h1.8v1.8h-1.8zM177.7 51.1h1.8v1.8h-1.8zM146.1 123.9h1.8v1.8h-1.8zM143.2 132.9h1.8v1.8h-1.8zM176.4 103.0h1.8v1.8h-1.8zM148.3 120.9h1.8v1.8h-1.8zM184.9 89.3h1.8v1.8h-1.8zM226.4 52.2h1.8v1.8h-1.8zM142.4 124.1h1.8v1.8h-1.8zM149.2 124.3h1.8v1.8h-1.8zM168.6 103.4h1.8v1.8h-1.8zM193.3 94.0h1.8v1.8h-1.8zM176.8 99.4h1.8v1.8h-1.8zM196.9 99.9h1.8v1.8h-1.8zM150.7 123.9h1.8v1.8h-1.8zM140.8 123.5h1.8v1.8h-1.8zM151.0 134.4h1.8v1.8h-1.8zM177.4 94.1h1.8v1.8h-1.8zM187.4 88.9h1.8v1.8h-1.8zM150.4 120.5h1.8v1.8h-1.8zM139.5 128.8h1.8v1.8h-1.8zM173.0 70.3h1.8v1.8h-1.8zM149.8 118.6h1.8v1.8h-1.8zM178.0 99.3h1.8v1.8h-1.8zM153.3 117.8h1.8v1.8h-1.8zM153.6 119.7h1.8v1.8h-1.8zM147.0 120.5h1.8v1.8h-1.8zM150.8 122.3h1.8v1.8h-1.8zM149.0 119.1h1.8v1.8h-1.8zM153.8 130.5h1.8v1.8h-1.8zM149.2 117.9h1.8v1.8h-1.8zM175.9 96.0h1.8v1.8h-1.8zM167.2 103.7h1.8v1.8h-1.8zM179.7 109.3h1.8v1.8h-1.8zM193.2 104.2h1.8v1.8h-1.8zM173.0 102.5h1.8v1.8h-1.8zM169.3 97.2h1.8v1.8h-1.8zM153.4 121.4h1.8v1.8h-1.8zM188.5 105.6h1.8v1.8h-1.8zM153.0 120.6h1.8v1.8h-1.8zM145.5 124.2h1.8v1.8h-1.8zM152.8 117.4h1.8v1.8h-1.8zM145.2 125.8h1.8v1.8h-1.8zM229.4 58.6h1.8v1.8h-1.8zM141.7 118.9h1.8v1.8h-1.8zM134.3 138.8h1.8v1.8h-1.8zM202.5 84.4h1.8v1.8h-1.8zM171.1 104.0h1.8v1.8h-1.8zM140.1 137.3h1.8v1.8h-1.8zM169.4 103.4h1.8v1.8h-1.8zM141.1 118.8h1.8v1.8h-1.8zM141.8 121.4h1.8v1.8h-1.8zM136.3 123.4h1.8v1.8h-1.8zM130.9 141.7h1.8v1.8h-1.8zM146.5 126.7h1.8v1.8h-1.8zM213.8 63.8h1.8v1.8h-1.8zM184.7 88.2h1.8v1.8h-1.8zM147.4 120.0h1.8v1.8h-1.8zM190.5 94.6h1.8v1.8h-1.8zM199.8 81.6h1.8v1.8h-1.8zM203.4 59.3h1.8v1.8h-1.8zM153.2 131.1h1.8v1.8h-1.8zM153.9 122.9h1.8v1.8h-1.8zM167.1 87.5h1.8v1.8h-1.8zM142.4 129.9h1.8v1.8h-1.8zM144.1 125.5h1.8v1.8h-1.8zM168.4 97.3h1.8v1.8h-1.8zM151.2 117.9h1.8v1.8h-1.8zM142.3 128.8h1.8v1.8h-1.8zM194.1 75.1h1.8v1.8h-1.8zM172.2 101.1h1.8v1.8h-1.8zM182.6 97.5h1.8v1.8h-1.8zM190.8 87.3h1.8v1.8h-1.8zM172.1 63.9h1.8v1.8h-1.8zM176.1 90.1h1.8v1.8h-1.8zM153.1 126.8h1.8v1.8h-1.8zM133.4 127.5h1.8v1.8h-1.8zM168.6 103.6h1.8v1.8h-1.8zM134.7 131.6h1.8v1.8h-1.8zM142.7 120.3h1.8v1.8h-1.8zM168.7 98.5h1.8v1.8h-1.8zM153.7 118.1h1.8v1.8h-1.8zM138.3 126.3h1.8v1.8h-1.8zM236.2 83.9h1.8v1.8h-1.8zM148.9 120.6h1.8v1.8h-1.8zM127.3 123.8h1.8v1.8h-1.8zM147.3 119.5h1.8v1.8h-1.8zM150.3 120.2h1.8v1.8h-1.8zM146.6 119.2h1.8v1.8h-1.8zM150.7 126.8h1.8v1.8h-1.8zM142.2 132.7h1.8v1.8h-1.8zM176.9 107.7h1.8v1.8h-1.8zM171.9 100.8h1.8v1.8h-1.8zM176.3 84.6h1.8v1.8h-1.8zM204.9 92.6h1.8v1.8h-1.8zM197.6 105.2h1.8v1.8h-1.8zM226.2 52.8h1.8v1.8h-1.8zM144.4 119.8h1.8v1.8h-1.8zM126.4 126.8h1.8v1.8h-1.8zM178.9 83.8h1.8v1.8h-1.8zM148.3 124.8h1.8v1.8h-1.8zM146.4 129.3h1.8v1.8h-1.8zM178.6 109.1h1.8v1.8h-1.8zM145.1 126.2h1.8v1.8h-1.8zM107.0 129.4h1.8v1.8h-1.8zM151.4 121.1h1.8v1.8h-1.8zM181.9 105.5h1.8v1.8h-1.8zM190.5 97.7h1.8v1.8h-1.8zM209.2 78.1h1.8v1.8h-1.8zM196.6 88.0h1.8v1.8h-1.8zM181.8 98.0h1.8v1.8h-1.8zM150.2 128.8h1.8v1.8h-1.8zM168.0 109.2h1.8v1.8h-1.8zM208.5 50.8h1.8v1.8h-1.8zM203.4 89.9h1.8v1.8h-1.8zM189.1 91.1h1.8v1.8h-1.8zM139.4 119.3h1.8v1.8h-1.8zM149.7 121.8h1.8v1.8h-1.8zM146.5 119.5h1.8v1.8h-1.8zM170.8 107.9h1.8v1.8h-1.8zM132.6 121.4h1.8v1.8h-1.8zM173.0 102.9h1.8v1.8h-1.8zM139.9 123.9h1.8v1.8h-1.8zM180.8 69.6h1.8v1.8h-1.8zM136.0 120.2h1.8v1.8h-1.8zM151.3 126.5h1.8v1.8h-1.8zM154.5 120.3h1.8v1.8h-1.8zM177.5 105.8h1.8v1.8h-1.8zM182.0 88.7h1.8v1.8h-1.8zM183.3 87.3h1.8v1.8h-1.8zM225.8 67.9h1.8v1.8h-1.8zM189.5 109.1h1.8v1.8h-1.8zM140.6 127.0h1.8v1.8h-1.8zM154.2 117.4h1.8v1.8h-1.8zM169.8 109.4h1.8v1.8h-1.8zM105.3 123.5h1.8v1.8h-1.8zM148.8 122.0h1.8v1.8h-1.8zM191.7 100.7h1.8v1.8h-1.8zM146.4 120.2h1.8v1.8h-1.8zM138.2 123.7h1.8v1.8h-1.8zM146.0 130.5h1.8v1.8h-1.8zM180.2 105.8h1.8v1.8h-1.8zM185.3 91.6h1.8v1.8h-1.8zM145.6 120.2h1.8v1.8h-1.8zM177.3 104.6h1.8v1.8h-1.8zM151.0 120.8h1.8v1.8h-1.8zM207.9 97.1h1.8v1.8h-1.8zM180.4 36.5h1.8v1.8h-1.8zM172.9 106.9h1.8v1.8h-1.8zM194.8 86.0h1.8v1.8h-1.8zM143.3 118.6h1.8v1.8h-1.8zM180.0 78.6h1.8v1.8h-1.8zM172.1 105.4h1.8v1.8h-1.8zM147.0 125.1h1.8v1.8h-1.8zM152.1 117.7h1.8v1.8h-1.8zM151.6 127.5h1.8v1.8h-1.8zM232.7 57.9h1.8v1.8h-1.8zM144.9 122.5h1.8v1.8h-1.8zM154.3 118.0h1.8v1.8h-1.8zM169.4 62.4h1.8v1.8h-1.8zM154.0 118.1h1.8v1.8h-1.8zM152.7 121.6h1.8v1.8h-1.8zM144.0 127.3h1.8v1.8h-1.8zM139.9 140.6h1.8v1.8h-1.8zM179.6 96.5h1.8v1.8h-1.8zM189.9 97.8h1.8v1.8h-1.8zM143.8 129.4h1.8v1.8h-1.8zM151.3 123.7h1.8v1.8h-1.8zM141.1 134.9h1.8v1.8h-1.8zM130.3 128.6h1.8v1.8h-1.8zM170.2 100.7h1.8v1.8h-1.8zM148.8 117.7h1.8v1.8h-1.8zM181.8 106.3h1.8v1.8h-1.8zM174.4 107.8h1.8v1.8h-1.8zM175.0 91.6h1.8v1.8h-1.8zM150.8 117.5h1.8v1.8h-1.8zM109.8 128.3h1.8v1.8h-1.8zM140.6 126.7h1.8v1.8h-1.8zM149.0 126.9h1.8v1.8h-1.8zM173.7 97.7h1.8v1.8h-1.8zM120.6 132.5h1.8v1.8h-1.8zM175.6 96.6h1.8v1.8h-1.8zM136.5 127.6h1.8v1.8h-1.8zM178.2 100.0h1.8v1.8h-1.8zM188.7 90.4h1.8v1.8h-1.8zM144.7 126.7h1.8v1.8h-1.8zM150.3 117.9h1.8v1.8h-1.8zM152.5 123.3h1.8v1.8h-1.8zM185.9 96.9h1.8v1.8h-1.8zM178.3 96.9h1.8v1.8h-1.8zM154.1 126.0h1.8v1.8h-1.8zM176.5 94.8h1.8v1.8h-1.8zM188.2 93.3h1.8v1.8h-1.8zM167.0 106.0h1.8v1.8h-1.8zM261.2 60.8h1.8v1.8h-1.8zM184.2 88.7h1.8v1.8h-1.8zM174.1 105.2h1.8v1.8h-1.8zM174.2 101.3h1.8v1.8h-1.8zM146.0 120.5h1.8v1.8h-1.8zM141.4 124.0h1.8v1.8h-1.8zM152.5 123.5h1.8v1.8h-1.8zM143.7 119.1h1.8v1.8h-1.8zM146.2 144.0h1.8v1.8h-1.8zM143.9 131.9h1.8v1.8h-1.8zM183.5 84.7h1.8v1.8h-1.8zM134.7 117.5h1.8v1.8h-1.8zM154.0 125.6h1.8v1.8h-1.8zM174.4 92.2h1.8v1.8h-1.8zM168.5 100.1h1.8v1.8h-1.8zM193.4 86.4h1.8v1.8h-1.8zM149.3 121.7h1.8v1.8h-1.8zM152.5 129.9h1.8v1.8h-1.8zM190.2 99.0h1.8v1.8h-1.8zM179.2 101.8h1.8v1.8h-1.8zM134.6 118.5h1.8v1.8h-1.8zM136.8 128.7h1.8v1.8h-1.8zM146.4 123.0h1.8v1.8h-1.8zM169.9 105.3h1.8v1.8h-1.8zM172.7 106.4h1.8v1.8h-1.8zM143.6 128.9h1.8v1.8h-1.8zM147.8 123.2h1.8v1.8h-1.8zM150.5 127.3h1.8v1.8h-1.8zM150.4 119.0h1.8v1.8h-1.8zM151.2 118.6h1.8v1.8h-1.8zM203.7 98.8h1.8v1.8h-1.8zM170.4 95.6h1.8v1.8h-1.8zM135.2 125.1h1.8v1.8h-1.8zM179.5 77.1h1.8v1.8h-1.8zM187.8 84.8h1.8v1.8h-1.8zM170.9 108.6h1.8v1.8h-1.8zM176.6 95.8h1.8v1.8h-1.8zM176.4 108.4h1.8v1.8h-1.8zM169.8 95.9h1.8v1.8h-1.8zM220.3 100.5h1.8v1.8h-1.8zM184.1 106.0h1.8v1.8h-1.8zM187.9 69.2h1.8v1.8h-1.8zM138.9 121.0h1.8v1.8h-1.8zM176.6 93.6h1.8v1.8h-1.8zM215.8 48.8h1.8v1.8h-1.8zM154.4 126.4h1.8v1.8h-1.8zM151.3 122.4h1.8v1.8h-1.8zM175.3 101.1h1.8v1.8h-1.8zM170.7 94.3h1.8v1.8h-1.8zM189.4 104.7h1.8v1.8h-1.8zM142.4 129.9h1.8v1.8h-1.8zM183.3 95.3h1.8v1.8h-1.8zM180.7 94.2h1.8v1.8h-1.8zM151.1 119.9h1.8v1.8h-1.8zM150.0 119.2h1.8v1.8h-1.8zM173.9 98.4h1.8v1.8h-1.8zM213.0 66.1h1.8v1.8h-1.8zM147.5 123.7h1.8v1.8h-1.8zM226.4 91.1h1.8v1.8h-1.8zM151.5 120.2h1.8v1.8h-1.8zM176.9 106.1h1.8v1.8h-1.8zM153.3 118.5h1.8v1.8h-1.8zM138.5 129.6h1.8v1.8h-1.8zM153.8 122.8h1.8v1.8h-1.8zM191.5 96.4h1.8v1.8h-1.8zM154.0 122.0h1.8v1.8h-1.8zM129.8 125.0h1.8v1.8h-1.8zM140.2 131.9h1.8v1.8h-1.8zM128.3 147.8h1.8v1.8h-1.8zM130.5 127.9h1.8v1.8h-1.8zM180.4 101.3h1.8v1.8h-1.8zM145.0 123.8h1.8v1.8h-1.8zM212.7 70.7h1.8v1.8h-1.8zM137.5 132.6h1.8v1.8h-1.8zM174.7 94.3h1.8v1.8h-1.8zM130.1 127.3h1.8v1.8h-1.8zM148.0 117.5h1.8v1.8h-1.8zM151.8 119.0h1.8v1.8h-1.8zM171.5 104.5h1.8v1.8h-1.8zM132.0 123.1h1.8v1.8h-1.8zM177.5 104.4h1.8v1.8h-1.8zM172.1 85.7h1.8v1.8h-1.8zM141.7 123.0h1.8v1.8h-1.8zM176.7 103.2h1.8v1.8h-1.8zM140.9 132.8h1.8v1.8h-1.8zM173.2 100.5h1.8v1.8h-1.8zM147.6 127.3h1.8v1.8h-1.8zM130.8 128.0h1.8v1.8h-1.8zM186.0 91.0h1.8v1.8h-1.8zM144.5 125.3h1.8v1.8h-1.8zM181.6 91.8h1.8v1.8h-1.8zM171.5 104.3h1.8v1.8h-1.8zM153.9 119.2h1.8v1.8h-1.8zM132.7 126.6h1.8v1.8h-1.8zM212.6 75.8h1.8v1.8h-1.8zM180.1 82.3h1.8v1.8h-1.8zM167.6 90.3h1.8v1.8h-1.8zM114.1 140.1h1.8v1.8h-1.8zM167.2 100.0h1.8v1.8h-1.8zM175.8 109.3h1.8v1.8h-1.8zM148.3 125.2h1.8v1.8h-1.8zM152.1 127.2h1.8v1.8h-1.8zM172.4 107.2h1.8v1.8h-1.8zM149.1 117.6h1.8v1.8h-1.8zM167.1 107.0h1.8v1.8h-1.8zM150.6 120.3h1.8v1.8h-1.8zM129.1 134.7h1.8v1.8h-1.8zM150.9 119.2h1.8v1.8h-1.8zM168.1 89.5h1.8v1.8h-1.8zM167.7 102.0h1.8v1.8h-1.8zM149.7 123.1h1.8v1.8h-1.8zM126.3 129.3h1.8v1.8h-1.8zM150.1 121.1h1.8v1.8h-1.8zM146.7 117.5h1.8v1.8h-1.8zM173.2 101.9h1.8v1.8h-1.8zM168.9 96.1h1.8v1.8h-1.8zM152.9 118.2h1.8v1.8h-1.8zM179.2 105.7h1.8v1.8h-1.8zM180.6 108.6h1.8v1.8h-1.8zM167.4 108.7h1.8v1.8h-1.8zM168.5 106.6h1.8v1.8h-1.8zM185.0 107.7h1.8v1.8h-1.8zM152.1 119.9h1.8v1.8h-1.8zM200.6 82.1h1.8v1.8h-1.8zM169.3 106.3h1.8v1.8h-1.8z"/><path fill="#00ff00" d="M161.6 121.2h1.8v1.8h-1.8zM155.2 117.9h1.8v1.8h-1.8zM160.0 117.5h1.8v1.8h-1.8zM165.3 108.6h1.8v1.8h-1.8zM155.5 118.5h1.8v1.8h-1.8zM156.3 123.0h1.8v1.8h-1.8zM159.1 118.4h1.8v1.8h-1.8zM157.7 122.3h1.8v1.8h-1.8zM158.5 117.7h1.8v1.8h-1.8zM164.1 105.0h1.8v1.8h-1.8zM155.8 124.9h1.8v1.8h-1.8zM162.7 108.8h1.8v1.8h-1.8zM165.7 108.8h1.8v1.8h-1.8zM165.2 108.6h1.8v1.8h-1.8zM160.1 108.8h1.8v1.8h-1.8zM158.9 119.0h1.8v1.8h-1.8zM156.1 119.6h1.8v1.8h-1.8zM158.2 118.5h1.8v1.8h-1.8zM159.1 106.0h1.8v1.8h-1.8zM166.3 109.2h1.8v1.8h-1.8zM162.2 109.6h1.8v1.8h-1.8zM163.3 110.0h1.8v1.8h-1.8zM166.6 100.6h1.8v1.8h-1.8zM161.7 119.4h1.8v1.8h-1.8zM159.0 119.5h1.8v1.8h-1.8zM155.7 119.4h1.8v1.8h-1.8zM162.2 109.1h1.8v1.8h-1.8zM159.2 119.0h1.8v1.8h-1.8zM161.4 109.7h1.8v1.8h-1.8zM156.1 119.7h1.8v1.8h-1.8zM165.8 104.0h1.8v1.8h-1.8zM162.2 117.8h1.8v1.8h-1.8zM157.1 118.1h1.8v1.8h-1.8zM165.1 109.3h1.8v1.8h-1.8zM166.1 108.9h1.8v1.8h-1.8zM165.5 107.3h1.8v1.8h-1.8zM155.2 108.9h1.8v1.8h-1.8zM157.4 117.6h1.8v1.8h-1.8zM156.5 117.4h1.8v1.8h-1.8zM166.6 120.6h1.8v1.8h-1.8zM160.5 120.2h1.8v1.8h-1.8zM156.3 128.4h1.8v1.8h-1.8zM159.0 117.5h1.8v1.8h-1.8zM160.5 117.6h1.8v1.8h-1.8zM165.8 101.0h1.8v1.8h-1.8zM159.5 123.1h1.8v1.8h-1.8zM159.2 110.0h1.8v1.8h-1.8zM160.3 103.6h1.8v1.8h-1.8zM164.0 107.9h1.8v1.8h-1.8zM160.7 120.4h1.8v1.8h-1.8zM160.1 121.8h1.8v1.8h-1.8zM162.4 117.7h1.8v1.8h-1.8zM158.9 109.7h1.8v1.8h-1.8zM166.5 103.9h1.8v1.8h-1.8zM155.5 118.6h1.8v1.8h-1.8zM164.0 107.7h1.8v1.8h-1.8zM165.5 103.2h1.8v1.8h-1.8zM159.8 122.1h1.8v1.8h-1.8zM164.0 105.7h1.8v1.8h-1.8zM160.3 118.7h1.8v1.8h-1.8zM161.2 108.3h1.8v1.8h-1.8zM162.1 119.7h1.8v1.8h-1.8zM162.5 117.4h1.8v1.8h-1.8zM158.7 120.8h1.8v1.8h-1.8zM159.4 123.5h1.8v1.8h-1.8zM164.6 118.4h1.8v1.8h-1.8zM163.4 119.8h1.8v1.8h-1.8zM166.2 101.8h1.8v1.8h-1.8zM156.7 109.8h1.8v1.8h-1.8zM158.6 122.1h1.8v1.8h-1.8zM164.9 102.6h1.8v1.8h-1.8zM158.4 117.5h1.8v1.8h-1.8zM156.3 126.9h1.8v1.8h-1.8zM157.2 123.7h1.8v1.8h-1.8zM157.7 121.1h1.8v1.8h-1.8zM158.0 121.4h1.8v1.8h-1.8zM165.5 118.8h1.8v1.8h-1.8zM159.9 120.5h1.8v1.8h-1.8zM164.7 104.0h1.8v1.8h-1.8zM161.1 107.6h1.8v1.8h-1.8zM163.8 104.3h1.8v1.8h-1.8zM156.5 108.3h1.8v1.8h-1.8zM159.4 123.5h1.8v1.8h-1.8zM160.8 108.8h1.8v1.8h-1.8zM165.5 118.6h1.8v1.8h-1.8zM160.3 108.1h1.8v1.8h-1.8zM162.8 105.4h1.8v1.8h-1.8zM157.6 119.4h1.8v1.8h-1.8zM166.2 103.6h1.8v1.8h-1.8zM155.1 123.0h1.8v1.8h-1.8zM155.8 123.8h1.8v1.8h-1.8zM163.1 121.3h1.8v1.8h-1.8zM163.3 117.8h1.8v1.8h-1.8zM165.8 106.7h1.8v1.8h-1.8zM156.7 106.9h1.8v1.8h-1.8zM158.7 117.5h1.8v1.8h-1.8zM166.3 104.2h1.8v1.8h-1.8zM164.1 106.0h1.8v1.8h-1.8zM158.3 109.8h1.8v1.8h-1.8zM161.6 117.7h1.8v1.8h-1.8zM159.3 122.6h1.8v1.8h-1.8zM160.6 117.8h1.8v1.8h-1.8zM157.8 120.2h1.8v1.8h-1.8zM159.4 120.8h1.8v1.8h-1.8zM159.9 109.8h1.8v1.8h-1.8zM161.9 106.5h1.8v1.8h-1.8zM161.5 119.1h1.8v1.8h-1.8zM166.1 106.2h1.8v1.8h-1.8zM164.2 109.5h1.8v1.8h-1.8zM165.9 103.3h1.8v1.8h-1.8zM165.0 103.7h1.8v1.8h-1.8zM158.0 108.1h1.8v1.8h-1.8zM165.4 109.5h1.8v1.8h-1.8zM166.0 102.9h1.8v1.8h-1.8zM158.1 122.3h1.8v1.8h-1.8zM162.8 109.3h1.8v1.8h-1.8zM163.3 120.3h1.8v1.8h-1.8zM162.7 109.7h1.8v1.8h-1.8zM166.4 105.3h1.8v1.8h-1.8zM161.0 109.7h1.8v1.8h-1.8zM159.9 117.8h1.8v1.8h-1.8zM154.8 119.7h1.8v1.8h-1.8zM160.0 119.8h1.8v1.8h-1.8zM164.8 108.0h1.8v1.8h-1.8zM159.9 104.9h1.8v1.8h-1.8zM157.3 107.8h1.8v1.8h-1.8zM164.2 119.3h1.8v1.8h-1.8zM160.2 121.6h1.8v1.8h-1.8zM164.6 118.3h1.8v1.8h-1.8zM160.0 107.3h1.8v1.8h-1.8zM160.1 107.2h1.8v1.8h-1.8zM160.2 109.8h1.8v1.8h-1.8zM163.2 108.6h1.8v1.8h-1.8zM159.8 119.6h1.8v1.8h-1.8zM160.6 109.3h1.8v1.8h-1.8zM157.6 121.7h1.8v1.8h-1.8zM157.1 118.4h1.8v1.8h-1.8zM158.6 117.4h1.8v1.8h-1.8zM161.6 118.5h1.8v1.8h-1.8zM158.5 109.1h1.8v1.8h-1.8zM165.1 106.7h1.8v1.8h-1.8zM163.0 105.0h1.8v1.8h-1.8zM156.4 119.0h1.8v1.8h-1.8zM162.3 117.9h1.8v1.8h-1.8zM161.7 119.8h1.8v1.8h-1.8zM156.9 120.0h1.8v1.8h-1.8zM154.9 123.2h1.8v1.8h-1.8zM165.5 118.6h1.8v1.8h-1.8zM155.6 120.0h1.8v1.8h-1.8zM165.2 118.7h1.8v1.8h-1.8zM161.3 109.9h1.8v1.8h-1.8zM161.8 118.4h1.8v1.8h-1.8zM161.2 119.3h1.8v1.8h-1.8zM161.6 118.2h1.8v1.8h-1.8zM159.7 106.6h1.8v1.8h-1.8zM159.2 119.6h1.8v1.8h-1.8zM165.3 108.9h1.8v1.8h-1.8zM155.2 118.1h1.8v1.8h-1.8zM156.3 122.4h1.8v1.8h-1.8zM161.9 109.8h1.8v1.8h-1.8zM158.5 102.7h1.8v1.8h-1.8zM158.2 118.0h1.8v1.8h-1.8zM162.2 110.0h1.8v1.8h-1.8zM166.6 102.9h1.8v1.8h-1.8zM156.7 121.7h1.8v1.8h-1.8zM160.8 118.9h1.8v1.8h-1.8zM160.3 119.0h1.8v1.8h-1.8zM166.2 108.1h1.8v1.8h-1.8zM165.5 106.3h1.8v1.8h-1.8zM159.0 125.3h1.8v1.8h-1.8zM156.3 123.4h1.8v1.8h-1.8zM156.9 117.7h1.8v1.8h-1.8zM161.3 109.5h1.8v1.8h-1.8zM159.4 108.0h1.8v1.8h-1.8zM156.8 120.3h1.8v1.8h-1.8zM162.0 119.7h1.8v1.8h-1.8zM157.9 118.9h1.8v1.8h-1.8zM156.9 119.9h1.8v1.8h-1.8zM158.5 108.3h1.8v1.8h-1.8zM158.9 119.6h1.8v1.8h-1.8zM155.7 119.2h1.8v1.8h-1.8zM162.1 101.3h1.8v1.8h-1.8zM156.5 125.9h1.8v1.8h-1.8zM161.8 117.5h1.8v1.8h-1.8zM156.7 119.7h1.8v1.8h-1.8zM156.4 118.0h1.8v1.8h-1.8zM161.6 118.3h1.8v1.8h-1.8zM164.9 109.1h1.8v1.8h-1.8zM166.0 109.3h1.8v1.8h-1.8zM161.4 119.9h1.8v1.8h-1.8zM162.4 108.8h1.8v1.8h-1.8zM161.2 108.5h1.8v1.8h-1.8zM156.5 120.2h1.8v1.8h-1.8zM161.3 104.7h1.8v1.8h-1.8zM166.6 108.8h1.8v1.8h-1.8zM162.3 108.8h1.8v1.8h-1.8zM166.0 109.2h1.8v1.8h-1.8zM166.5 109.7h1.8v1.8h-1.8zM159.9 109.1h1.8v1.8h-1.8zM157.1 130.2h1.8v1.8h-1.8zM160.5 105.9h1.8v1.8h-1.8zM162.2 106.2h1.8v1.8h-1.8zM166.3 109.3h1.8v1.8h-1.8zM155.4 120.3h1.8v1.8h-1.8zM156.5 121.2h1.8v1.8h-1.8zM164.0 103.8h1.8v1.8h-1.8zM162.9 109.5h1.8v1.8h-1.8zM164.1 119.4h1.8v1.8h-1.8zM165.0 118.4h1.8v1.8h-1.8zM161.5 105.8h1.8v1.8h-1.8zM155.9 118.0h1.8v1.8h-1.8zM155.0 118.9h1.8v1.8h-1.8zM164.8 117.8h1.8v1.8h-1.8zM158.5 128.6h1.8v1.8h-1.8zM155.0 120.0h1.8v1.8h-1.8zM164.3 108.8h1.8v1.8h-1.8zM156.1 121.0h1.8v1.8h-1.8zM157.4 109.5h1.8v1.8h-1.8zM162.5 109.9h1.8v1.8h-1.8zM165.0 109.2h1.8v1.8h-1.8zM160.4 108.0h1.8v1.8h-1.8zM155.2 107.6h1.8v1.8h-1.8zM160.4 107.7h1.8v1.8h-1.8zM162.4 100.9h1.8v1.8h-1.8zM156.4 118.0h1.8v1.8h-1.8zM156.0 106.5h1.8v1.8h-1.8zM164.0 107.8h1.8v1.8h-1.8zM158.9 107.0h1.8v1.8h-1.8zM165.9 118.1h1.8v1.8h-1.8zM158.6 121.8h1.8v1.8h-1.8zM163.4 109.9h1.8v1.8h-1.8zM161.0 120.6h1.8v1.8h-1.8zM164.4 117.5h1.8v1.8h-1.8zM158.1 106.6h1.8v1.8h-1.8zM165.9 108.0h1.8v1.8h-1.8zM159.8 117.5h1.8v1.8h-1.8zM160.4 119.8h1.8v1.8h-1.8zM157.4 118.0h1.8v1.8h-1.8zM158.7 119.2h1.8v1.8h-1.8zM164.7 105.9h1.8v1.8h-1.8zM163.9 109.7h1.8v1.8h-1.8zM156.5 117.7h1.8v1.8h-1.8zM165.5 105.6h1.8v1.8h-1.8zM159.3 109.6h1.8v1.8h-1.8zM157.3 117.5h1.8v1.8h-1.8zM162.9 109.1h1.8v1.8h-1.8zM156.3 108.8h1.8v1.8h-1.8zM160.8 117.5h1.8v1.8h-1.8zM156.0 119.0h1.8v1.8h-1.8zM162.6 108.4h1.8v1.8h-1.8zM159.4 109.6h1.8v1.8h-1.8zM165.9 109.5h1.8v1.8h-1.8zM155.5 118.9h1.8v1.8h-1.8zM165.5 96.9h1.8v1.8h-1.8zM157.7 122.6h1.8v1.8h-1.8zM158.7 109.5h1.8v1.8h-1.8zM159.5 108.7h1.8v1.8h-1.8zM156.2 123.7h1.8v1.8h-1.8zM161.3 109.2h1.8v1.8h-1.8zM161.9 119.4h1.8v1.8h-1.8zM158.1 119.9h1.8v1.8h-1.8zM155.3 119.7h1.8v1.8h-1.8zM165.5 108.0h1.8v1.8h-1.8zM164.9 109.2h1.8v1.8h-1.8zM157.3 117.8h1.8v1.8h-1.8zM166.4 104.8h1.8v1.8h-1.8zM157.7 117.9h1.8v1.8h-1.8zM159.5 107.9h1.8v1.8h-1.8zM154.8 120.5h1.8v1.8h-1.8zM161.4 108.9h1.8v1.8h-1.8zM155.6 122.7h1.8v1.8h-1.8zM157.1 118.0h1.8v1.8h-1.8zM165.1 109.7h1.8v1.8h-1.8zM160.8 106.6h1.8v1.8h-1.8zM156.0 118.8h1.8v1.8h-1.8zM165.6 106.0h1.8v1.8h-1.8zM158.5 121.0h1.8v1.8h-1.8zM157.0 118.2h1.8v1.8h-1.8zM164.3 104.9h1.8v1.8h-1.8zM165.6 104.6h1.8v1.8h-1.8zM162.8 108.7h1.8v1.8h-1.8zM166.2 108.8h1.8v1.8h-1.8zM163.6 104.6h1.8v1.8h-1.8zM158.2 123.1h1.8v1.8h-1.8zM165.8 109.3h1.8v1.8h-1.8zM166.1 108.9h1.8v1.8h-1.8zM165.6 121.1h1.8v1.8h-1.8zM156.0 124.7h1.8v1.8h-1.8zM161.6 103.5h1.8v1.8h-1.8zM165.0 108.6h1.8v1.8h-1.8zM164.5 110.0h1.8v1.8h-1.8zM157.2 120.8h1.8v1.8h-1.8zM163.5 105.1h1.8v1.8h-1.8zM154.9 122.4h1.8v1.8h-1.8zM155.6 118.3h1.8v1.8h-1.8zM163.3 120.6h1.8v1.8h-1.8zM165.2 117.7h1.8v1.8h-1.8zM159.8 108.7h1.8v1.8h-1.8zM166.3 101.4h1.8v1.8h-1.8zM157.8 118.5h1.8v1.8h-1.8zM165.9 100.8h1.8v1.8h-1.8zM161.1 107.1h1.8v1.8h-1.8zM159.5 121.2h1.8v1.8h-1.8zM162.3 122.7h1.8v1.8h-1.8zM157.5 121.0h1.8v1.8h-1.8zM165.6 104.0h1.8v1.8h-1.8zM162.8 117.6h1.8v1.8h-1.8zM158.6 119.5h1.8v1.8h-1.8zM156.9 119.0h1.8v1.8h-1.8zM156.1 117.9h1.8v1.8h-1.8zM157.1 108.8h1.8v1.8h-1.8zM165.7 105.2h1.8v1.8h-1.8zM162.4 120.7h1.8v1.8h-1.8zM166.3 117.9h1.8v1.8h-1.8zM158.9 108.2h1.8v1.8h-1.8zM157.9 106.8h1.8v1.8h-1.8zM155.9 118.9h1.8v1.8h-1.8zM162.7 109.7h1.8v1.8h-1.8zM157.5 119.0h1.8v1.8h-1.8zM157.4 120.2h1.8v1.8h-1.8zM159.4 103.6h1.8v1.8h-1.8zM156.7 118.5h1.8v1.8h-1.8zM158.5 118.8h1.8v1.8h-1.8zM157.8 109.4h1.8v1.8h-1.8zM159.9 117.7h1.8v1.8h-1.8zM165.5 100.5h1.8v1.8h-1.8zM161.7 118.2h1.8v1.8h-1.8zM158.4 123.5h1.8v1.8h-1.8zM160.6 104.5h1.8v1.8h-1.8zM163.3 106.8h1.8v1.8h-1.8zM165.6 118.1h1.8v1.8h-1.8zM158.0 108.5h1.8v1.8h-1.8zM161.1 108.5h1.8v1.8h-1.8zM161.8 118.5h1.8v1.8h-1.8zM159.3 108.9h1.8v1.8h-1.8zM154.8 118.9h1.8v1.8h-1.8zM159.3 123.7h1.8v1.8h-1.8zM159.7 109.9h1.8v1.8h-1.8zM166.1 104.8h1.8v1.8h-1.8zM156.9 119.8h1.8v1.8h-1.8zM157.5 106.2h1.8v1.8h-1.8zM161.6 108.0h1.8v1.8h-1.8zM164.1 109.0h1.8v1.8h-1.8zM160.5 108.7h1.8v1.8h-1.8zM165.7 106.4h1.8v1.8h-1.8zM157.7 121.9h1.8v1.8h-1.8zM159.0 108.6h1.8v1.8h-1.8zM164.3 105.2h1.8v1.8h-1.8zM163.8 119.1h1.8v1.8h-1.8zM159.4 109.6h1.8v1.8h-1.8zM160.5 118.3h1.8v1.8h-1.8zM160.4 121.1h1.8v1.8h-1.8zM164.0 109.9h1.8v1.8h-1.8zM157.5 122.5h1.8v1.8h-1.8zM163.0 119.8h1.8v1.8h-1.8zM166.2 104.0h1.8v1.8h-1.8zM158.0 109.5h1.8v1.8h-1.8zM159.1 119.1h1.8v1.8h-1.8zM156.1 108.7h1.8v1.8h-1.8zM157.7 107.9h1.8v1.8h-1.8zM157.9 119.2h1.8v1.8h-1.8zM162.3 108.9h1.8v1.8h-1.8zM158.5 118.2h1.8v1.8h-1.8zM158.5 122.2h1.8v1.8h-1.8zM158.2 107.9h1.8v1.8h-1.8zM164.4 118.5h1.8v1.8h-1.8zM157.0 117.9h1.8v1.8h-1.8zM161.1 118.5h1.8v1.8h-1.8zM164.6 104.9h1.8v1.8h-1.8zM165.8 106.7h1.8v1.8h-1.8zM164.1 117.9h1.8v1.8h-1.8zM158.4 109.2h1.8v1.8h-1.8zM159.7 121.5h1.8v1.8h-1.8zM160.7 106.2h1.8v1.8h-1.8zM157.6 109.4h1.8v1.8h-1.8zM156.3 121.4h1.8v1.8h-1.8zM157.0 122.8h1.8v1.8h-1.8zM162.0 109.5h1.8v1.8h-1.8zM160.4 119.0h1.8v1.8h-1.8zM166.0 107.7h1.8v1.8h-1.8zM159.6 122.6h1.8v1.8h-1.8zM155.8 122.2h1.8v1.8h-1.8zM155.0 118.3h1.8v1.8h-1.8zM166.6 109.5h1.8v1.8h-1.8zM156.9 109.4h1.8v1.8h-1.8zM160.5 88.0h1.8v1.8h-1.8zM158.6 108.1h1.8v1.8h-1.8zM158.1 109.3h1.8v1.8h-1.8zM161.9 117.5h1.8v1.8h-1.8zM166.2 101.3h1.8v1.8h-1.8zM158.0 118.8h1.8v1.8h-1.8zM159.0 120.7h1.8v1.8h-1.8zM158.1 107.3h1.8v1.8h-1.8zM165.0 98.0h1.8v1.8h-1.8zM158.6 117.7h1.8v1.8h-1.8zM154.9 125.1h1.8v1.8h-1.8zM159.5 120.0h1.8v1.8h-1.8zM155.7 119.0h1.8v1.8h-1.8zM158.8 107.9h1.8v1.8h-1.8zM162.6 97.9h1.8v1.8h-1.8zM155.9 119.0h1.8v1.8h-1.8zM159.7 117.5h1.8v1.8h-1.8zM166.4 119.6h1.8v1.8h-1.8zM157.8 99.3h1.8v1.8h-1.8zM160.0 104.8h1.8v1.8h-1.8zM159.5 108.6h1.8v1.8h-1.8zM165.2 102.8h1.8v1.8h-1.8zM159.8 118.4h1.8v1.8h-1.8zM155.3 123.2h1.8v1.8h-1.8zM163.3 95.4h1.8v1.8h-1.8zM155.3 122.0h1.8v1.8h-1.8zM166.2 109.5h1.8v1.8h-1.8zM159.8 121.0h1.8v1.8h-1.8zM164.3 104.0h1.8v1.8h-1.8zM158.6 118.5h1.8v1.8h-1.8zM161.4 117.9h1.8v1.8h-1.8zM156.1 102.4h1.8v1.8h-1.8zM166.1 93.0h1.8v1.8h-1.8zM164.0 124.4h1.8v1.8h-1.8zM162.1 108.0h1.8v1.8h-1.8zM162.4 123.9h1.8v1.8h-1.8zM161.3 105.6h1.8v1.8h-1.8zM162.5 102.9h1.8v1.8h-1.8zM165.1 108.7h1.8v1.8h-1.8zM164.5 121.1h1.8v1.8h-1.8zM159.4 122.1h1.8v1.8h-1.8zM160.4 103.8h1.8v1.8h-1.8zM157.5 106.9h1.8v1.8h-1.8zM155.7 124.4h1.8v1.8h-1.8zM154.9 109.5h1.8v1.8h-1.8zM159.2 124.7h1.8v1.8h-1.8zM158.9 120.2h1.8v1.8h-1.8zM155.5 120.8h1.8v1.8h-1.8zM159.0 108.5h1.8v1.8h-1.8zM163.7 107.8h1.8v1.8h-1.8zM162.6 105.6h1.8v1.8h-1.8zM155.5 123.2h1.8v1.8h-1.8zM160.4 119.4h1.8v1.8h-1.8zM164.2 121.1h1.8v1.8h-1.8zM165.3 121.4h1.8v1.8h-1.8zM158.3 121.4h1.8v1.8h-1.8zM164.3 120.1h1.8v1.8h-1.8zM158.5 123.1h1.8v1.8h-1.8zM163.8 106.5h1.8v1.8h-1.8zM164.7 79.7h1.8v1.8h-1.8zM158.3 118.8h1.8v1.8h-1.8zM157.0 117.6h1.8v1.8h-1.8zM166.3 108.1h1.8v1.8h-1.8zM165.6 97.6h1.8v1.8h-1.8zM165.9 104.0h1.8v1.8h-1.8zM162.2 105.2h1.8v1.8h-1.8zM160.9 109.1h1.8v1.8h-1.8zM155.9 118.8h1.8v1.8h-1.8zM156.0 100.9h1.8v1.8h-1.8zM156.2 118.1h1.8v1.8h-1.8zM157.8 118.0h1.8v1.8h-1.8zM155.2 122.9h1.8v1.8h-1.8zM157.0 118.6h1.8v1.8h-1.8zM165.0 105.5h1.8v1.8h-1.8zM160.6 119.9h1.8v1.8h-1.8zM157.7 118.2h1.8v1.8h-1.8zM158.4 124.3h1.8v1.8h-1.8zM155.0 117.9h1.8v1.8h-1.8zM155.1 118.8h1.8v1.8h-1.8zM158.5 125.6h1.8v1.8h-1.8zM154.8 121.3h1.8v1.8h-1.8zM162.2 106.5h1.8v1.8h-1.8zM158.1 123.7h1.8v1.8h-1.8zM158.3 108.9h1.8v1.8h-1.8zM163.8 118.7h1.8v1.8h-1.8zM164.4 103.0h1.8v1.8h-1.8zM166.5 36.2h1.8v1.8h-1.8zM158.3 117.5h1.8v1.8h-1.8zM160.3 117.9h1.8v1.8h-1.8zM160.1 124.3h1.8v1.8h-1.8zM157.6 122.6h1.8v1.8h-1.8zM156.6 119.3h1.8v1.8h-1.8zM159.7 118.5h1.8v1.8h-1.8zM166.2 107.2h1.8v1.8h-1.8zM165.4 109.6h1.8v1.8h-1.8zM161.9 104.8h1.8v1.8h-1.8zM157.8 118.3h1.8v1.8h-1.8zM160.2 121.5h1.8v1.8h-1.8zM154.8 117.9h1.8v1.8h-1.8zM159.6 125.5h1.8v1.8h-1.8zM162.8 120.2h1.8v1.8h-1.8zM156.1 140.0h1.8v1.8h-1.8zM159.0 122.7h1.8v1.8h-1.8zM155.8 105.8h1.8v1.8h-1.8zM156.3 109.4h1.8v1.8h-1.8zM159.1 106.9h1.8v1.8h-1.8zM160.5 108.6h1.8v1.8h-1.8zM161.9 142.1h1.8v1.8h-1.8zM157.6 102.1h1.8v1.8h-1.8zM158.7 122.9h1.8v1.8h-1.8zM166.5 105.1h1.8v1.8h-1.8zM163.4 106.8h1.8v1.8h-1.8zM164.8 99.1h1.8v1.8h-1.8zM159.4 105.0h1.8v1.8h-1.8zM165.8 109.5h1.8v1.8h-1.8zM160.6 108.8h1.8v1.8h-1.8zM155.1 105.4h1.8v1.8h-1.8zM155.0 122.8h1.8v1.8h-1.8zM157.6 108.1h1.8v1.8h-1.8zM156.0 121.4h1.8v1.8h-1.8zM162.4 119.5h1.8v1.8h-1.8zM155.9 123.9h1.8v1.8h-1.8zM155.7 121.1h1.8v1.8h-1.8zM165.3 107.2h1.8v1.8h-1.8zM165.4 118.3h1.8v1.8h-1.8zM164.6 120.2h1.8v1.8h-1.8zM162.3 102.2h1.8v1.8h-1.8zM165.1 80.4h1.8v1.8h-1.8zM159.1 118.4h1.8v1.8h-1.8zM156.6 118.9h1.8v1.8h-1.8zM162.3 118.9h1.8v1.8h-1.8zM160.1 108.3h1.8v1.8h-1.8zM155.4 109.2h1.8v1.8h-1.8zM162.0 117.5h1.8v1.8h-1.8zM157.7 123.2h1.8v1.8h-1.8zM161.1 121.0h1.8v1.8h-1.8zM157.4 118.2h1.8v1.8h-1.8zM159.1 97.5h1.8v1.8h-1.8zM157.0 118.2h1.8v1.8h-1.8zM164.4 103.0h1.8v1.8h-1.8zM155.9 107.5h1.8v1.8h-1.8zM157.1 119.0h1.8v1.8h-1.8zM155.8 118.7h1.8v1.8h-1.8zM166.1 118.7h1.8v1.8h-1.8zM158.6 120.0h1.8v1.8h-1.8zM155.2 103.8h1.8v1.8h-1.8zM163.6 103.0h1.8v1.8h-1.8zM154.8 118.7h1.8v1.8h-1.8zM162.6 98.8h1.8v1.8h-1.8zM165.4 119.1h1.8v1.8h-1.8zM162.0 105.1h1.8v1.8h-1.8zM160.4 100.1h1.8v1.8h-1.8zM157.3 121.9h1.8v1.8h-1.8zM166.4 105.4h1.8v1.8h-1.8zM160.3 106.4h1.8v1.8h-1.8zM156.7 119.7h1.8v1.8h-1.8zM159.7 127.0h1.8v1.8h-1.8zM157.1 120.6h1.8v1.8h-1.8zM162.8 101.9h1.8v1.8h-1.8zM157.7 104.4h1.8v1.8h-1.8zM158.4 102.3h1.8v1.8h-1.8zM162.7 122.6h1.8v1.8h-1.8zM155.0 117.7h1.8v1.8h-1.8zM158.7 120.7h1.8v1.8h-1.8zM166.6 108.4h1.8v1.8h-1.8zM161.2 102.4h1.8v1.8h-1.8zM162.9 99.4h1.8v1.8h-1.8zM156.0 109.7h1.8v1.8h-1.8zM163.5 119.0h1.8v1.8h-1.8zM160.1 94.5h1.8v1.8h-1.8zM157.9 117.5h1.8v1.8h-1.8zM162.1 109.2h1.8v1.8h-1.8zM159.3 109.8h1.8v1.8h-1.8zM159.7 109.0h1.8v1.8h-1.8zM165.0 102.8h1.8v1.8h-1.8zM165.2 119.5h1.8v1.8h-1.8zM162.3 102.6h1.8v1.8h-1.8zM154.9 119.7h1.8v1.8h-1.8zM158.9 123.9h1.8v1.8h-1.8zM157.8 118.9h1.8v1.8h-1.8zM159.4 121.1h1.8v1.8h-1.8zM161.8 117.5h1.8v1.8h-1.8zM162.5 94.7h1.8v1.8h-1.8zM158.9 120.7h1.8v1.8h-1.8zM159.9 92.3h1.8v1.8h-1.8zM166.4 139.4h1.8v1.8h-1.8zM158.2 122.6h1.8v1.8h-1.8zM155.9 118.1h1.8v1.8h-1.8zM155.9 120.4h1.8v1.8h-1.8zM157.1 119.4h1.8v1.8h-1.8zM164.7 107.8h1.8v1.8h-1.8zM165.6 129.0h1.8v1.8h-1.8zM156.8 108.6h1.8v1.8h-1.8zM163.8 99.5h1.8v1.8h-1.8zM160.9 118.9h1.8v1.8h-1.8zM155.1 107.3h1.8v1.8h-1.8zM158.7 125.9h1.8v1.8h-1.8zM158.2 127.2h1.8v1.8h-1.8zM155.4 120.9h1.8v1.8h-1.8zM155.5 107.5h1.8v1.8h-1.8zM161.4 118.9h1.8v1.8h-1.8zM157.2 120.2h1.8v1.8h-1.8zM158.9 100.1h1.8v1.8h-1.8zM162.5 104.8h1.8v1.8h-1.8zM156.7 118.8h1.8v1.8h-1.8zM159.1 108.1h1.8v1.8h-1.8zM156.2 119.3h1.8v1.8h-1.8zM161.5 118.1h1.8v1.8h-1.8zM154.9 105.6h1.8v1.8h-1.8zM160.5 106.6h1.8v1.8h-1.8zM163.2 102.3h1.8v1.8h-1.8zM159.3 118.0h1.8v1.8h-1.8zM156.1 106.9h1.8v1.8h-1.8zM165.4 96.9h1.8v1.8h-1.8zM159.8 128.9h1.8v1.8h-1.8zM164.8 118.5h1.8v1.8h-1.8zM155.3 117.5h1.8v1.8h-1.8zM157.0 122.8h1.8v1.8h-1.8zM158.1 120.8h1.8v1.8h-1.8zM159.5 109.4h1.8v1.8h-1.8zM161.8 109.8h1.8v1.8h-1.8zM163.5 126.0h1.8v1.8h-1.8zM157.1 121.4h1.8v1.8h-1.8zM155.3 126.2h1.8v1.8h-1.8zM155.9 103.9h1.8v1.8h-1.8zM156.4 108.4h1.8v1.8h-1.8zM155.2 107.4h1.8v1.8h-1.8zM165.0 119.6h1.8v1.8h-1.8zM157.6 120.4h1.8v1.8h-1.8zM162.4 109.9h1.8v1.8h-1.8zM154.9 119.6h1.8v1.8h-1.8zM156.6 120.4h1.8v1.8h-1.8zM165.5 100.9h1.8v1.8h-1.8zM162.9 121.4h1.8v1.8h-1.8zM160.5 119.3h1.8v1.8h-1.8zM157.3 105.0h1.8v1.8h-1.8zM154.8 118.9h1.8v1.8h-1.8zM160.6 106.1h1.8v1.8h-1.8zM166.1 84.3h1.8v1.8h-1.8zM160.7 119.2h1.8v1.8h-1.8zM161.2 102.0h1.8v1.8h-1.8zM163.7 129.5h1.8v1.8h-1.8zM155.3 87.0h1.8v1.8h-1.8zM162.4 120.7h1.8v1.8h-1.8zM157.9 104.1h1.8v1.8h-1.8zM166.4 109.6h1.8v1.8h-1.8zM165.9 126.0h1.8v1.8h-1.8zM162.9 98.5h1.8v1.8h-1.8zM164.0 138.9h1.8v1.8h-1.8zM166.1 109.4h1.8v1.8h-1.8zM154.8 103.4h1.8v1.8h-1.8zM165.7 100.1h1.8v1.8h-1.8zM159.0 101.6h1.8v1.8h-1.8zM155.4 80.5h1.8v1.8h-1.8zM161.8 151.2h1.8v1.8h-1.8zM161.0 118.5h1.8v1.8h-1.8zM163.6 120.7h1.8v1.8h-1.8zM163.9 124.5h1.8v1.8h-1.8zM166.2 99.6h1.8v1.8h-1.8zM157.6 106.4h1.8v1.8h-1.8zM156.4 85.9h1.8v1.8h-1.8zM165.8 97.0h1.8v1.8h-1.8zM162.2 98.8h1.8v1.8h-1.8zM160.8 124.4h1.8v1.8h-1.8zM158.5 120.3h1.8v1.8h-1.8zM159.8 108.6h1.8v1.8h-1.8zM157.4 138.2h1.8v1.8h-1.8zM155.2 100.3h1.8v1.8h-1.8zM155.4 108.9h1.8v1.8h-1.8zM160.6 104.1h1.8v1.8h-1.8zM155.3 123.2h1.8v1.8h-1.8zM164.3 127.8h1.8v1.8h-1.8zM166.5 103.6h1.8v1.8h-1.8zM163.4 83.6h1.8v1.8h-1.8zM155.1 123.6h1.8v1.8h-1.8zM164.8 134.6h1.8v1.8h-1.8zM164.9 97.7h1.8v1.8h-1.8zM158.6 120.1h1.8v1.8h-1.8zM162.3 122.8h1.8v1.8h-1.8zM161.4 118.3h1.8v1.8h-1.8zM158.1 118.2h1.8v1.8h-1.8zM158.3 79.4h1.8v1.8h-1.8zM166.2 97.2h1.8v1.8h-1.8zM160.2 100.8h1.8v1.8h-1.8zM165.4 104.4h1.8v1.8h-1.8zM166.6 109.9h1.8v1.8h-1.8zM156.5 138.5h1.8v1.8h-1.8zM161.3 96.6h1.8v1.8h-1.8zM162.0 131.4h1.8v1.8h-1.8zM157.3 91.9h1.8v1.8h-1.8zM163.6 96.2h1.8v1.8h-1.8zM163.3 99.4h1.8v1.8h-1.8zM159.7 127.5h1.8v1.8h-1.8zM155.8 121.7h1.8v1.8h-1.8zM155.7 119.7h1.8v1.8h-1.8zM156.6 125.9h1.8v1.8h-1.8zM157.4 82.5h1.8v1.8h-1.8zM164.5 98.7h1.8v1.8h-1.8zM164.2 103.8h1.8v1.8h-1.8zM157.5 139.1h1.8v1.8h-1.8zM164.5 118.3h1.8v1.8h-1.8zM162.0 126.8h1.8v1.8h-1.8zM163.0 122.4h1.8v1.8h-1.8zM161.3 101.0h1.8v1.8h-1.8zM162.6 102.8h1.8v1.8h-1.8zM160.0 135.8h1.8v1.8h-1.8zM165.6 86.6h1.8v1.8h-1.8zM164.9 129.2h1.8v1.8h-1.8zM160.4 119.7h1.8v1.8h-1.8zM165.9 66.0h1.8v1.8h-1.8zM161.5 96.9h1.8v1.8h-1.8zM164.6 109.6h1.8v1.8h-1.8zM157.4 96.9h1.8v1.8h-1.8zM158.6 125.9h1.8v1.8h-1.8zM164.1 126.4h1.8v1.8h-1.8zM159.7 100.5h1.8v1.8h-1.8zM155.0 104.5h1.8v1.8h-1.8zM159.0 126.5h1.8v1.8h-1.8zM159.9 118.6h1.8v1.8h-1.8zM157.1 104.5h1.8v1.8h-1.8zM158.4 137.5h1.8v1.8h-1.8zM158.5 101.2h1.8v1.8h-1.8zM163.7 137.6h1.8v1.8h-1.8zM157.5 128.2h1.8v1.8h-1.8zM166.3 98.7h1.8v1.8h-1.8zM161.8 123.5h1.8v1.8h-1.8zM165.2 102.3h1.8v1.8h-1.8zM160.1 105.8h1.8v1.8h-1.8zM159.9 117.5h1.8v1.8h-1.8zM162.4 108.5h1.8v1.8h-1.8zM165.7 85.6h1.8v1.8h-1.8zM164.7 88.2h1.8v1.8h-1.8zM158.5 135.7h1.8v1.8h-1.8zM155.9 140.8h1.8v1.8h-1.8zM157.8 98.8h1.8v1.8h-1.8zM154.8 98.6h1.8v1.8h-1.8zM166.5 121.6h1.8v1.8h-1.8zM165.2 106.3h1.8v1.8h-1.8zM166.4 107.1h1.8v1.8h-1.8zM160.7 100.4h1.8v1.8h-1.8zM166.2 85.3h1.8v1.8h-1.8zM160.6 126.0h1.8v1.8h-1.8zM166.4 97.3h1.8v1.8h-1.8zM159.5 134.4h1.8v1.8h-1.8zM159.8 118.0h1.8v1.8h-1.8zM155.6 100.2h1.8v1.8h-1.8zM156.1 105.7h1.8v1.8h-1.8zM165.7 127.8h1.8v1.8h-1.8zM157.4 107.2h1.8v1.8h-1.8zM161.2 124.0h1.8v1.8h-1.8zM159.6 134.2h1.8v1.8h-1.8zM155.2 88.1h1.8v1.8h-1.8zM156.3 127.5h1.8v1.8h-1.8zM156.4 117.5h1.8v1.8h-1.8zM157.7 118.9h1.8v1.8h-1.8zM164.3 121.5h1.8v1.8h-1.8zM163.4 153.9h1.8v1.8h-1.8zM158.5 123.9h1.8v1.8h-1.8zM155.2 124.6h1.8v1.8h-1.8zM162.4 127.5h1.8v1.8h-1.8zM158.9 95.1h1.8v1.8h-1.8zM163.2 109.1h1.8v1.8h-1.8zM156.5 104.8h1.8v1.8h-1.8zM164.6 118.7h1.8v1.8h-1.8zM163.2 123.4h1.8v1.8h-1.8zM160.3 86.4h1.8v1.8h-1.8zM159.6 100.0h1.8v1.8h-1.8zM157.9 131.2h1.8v1.8h-1.8zM157.0 121.6h1.8v1.8h-1.8zM163.7 101.6h1.8v1.8h-1.8zM166.0 100.9h1.8v1.8h-1.8zM163.9 99.6h1.8v1.8h-1.8zM160.0 122.2h1.8v1.8h-1.8zM161.3 124.7h1.8v1.8h-1.8zM162.3 98.2h1.8v1.8h-1.8zM158.9 109.0h1.8v1.8h-1.8zM160.6 140.9h1.8v1.8h-1.8zM159.2 66.7h1.8v1.8h-1.8zM155.6 130.2h1.8v1.8h-1.8zM160.5 104.9h1.8v1.8h-1.8zM155.4 122.0h1.8v1.8h-1.8zM166.3 131.3h1.8v1.8h-1.8zM155.2 105.5h1.8v1.8h-1.8zM157.4 92.1h1.8v1.8h-1.8zM161.6 101.2h1.8v1.8h-1.8zM154.9 93.0h1.8v1.8h-1.8zM161.5 120.3h1.8v1.8h-1.8zM163.2 140.3h1.8v1.8h-1.8zM161.6 137.1h1.8v1.8h-1.8zM158.4 119.8h1.8v1.8h-1.8zM155.6 98.3h1.8v1.8h-1.8zM157.8 119.3h1.8v1.8h-1.8zM164.5 99.3h1.8v1.8h-1.8zM158.0 80.4h1.8v1.8h-1.8zM157.7 106.3h1.8v1.8h-1.8zM160.4 93.1h1.8v1.8h-1.8zM166.4 117.6h1.8v1.8h-1.8zM156.7 98.8h1.8v1.8h-1.8zM161.1 104.3h1.8v1.8h-1.8zM162.4 96.1h1.8v1.8h-1.8zM162.3 123.4h1.8v1.8h-1.8zM164.2 127.9h1.8v1.8h-1.8zM156.9 149.2h1.8v1.8h-1.8zM159.9 128.4h1.8v1.8h-1.8zM157.7 117.4h1.8v1.8h-1.8zM165.7 100.7h1.8v1.8h-1.8zM166.2 122.6h1.8v1.8h-1.8zM160.0 117.6h1.8v1.8h-1.8zM157.8 143.8h1.8v1.8h-1.8zM163.7 81.8h1.8v1.8h-1.8zM158.5 109.7h1.8v1.8h-1.8zM165.0 96.0h1.8v1.8h-1.8zM155.8 105.8h1.8v1.8h-1.8zM164.0 135.2h1.8v1.8h-1.8zM162.1 132.1h1.8v1.8h-1.8zM159.0 98.9h1.8v1.8h-1.8zM166.4 126.7h1.8v1.8h-1.8zM156.2 126.3h1.8v1.8h-1.8zM162.2 133.8h1.8v1.8h-1.8zM155.8 137.5h1.8v1.8h-1.8zM162.4 106.6h1.8v1.8h-1.8zM163.9 125.2h1.8v1.8h-1.8zM162.5 107.1h1.8v1.8h-1.8zM159.8 90.2h1.8v1.8h-1.8zM165.2 101.0h1.8v1.8h-1.8zM158.9 133.9h1.8v1.8h-1.8zM159.8 105.5h1.8v1.8h-1.8zM158.3 134.2h1.8v1.8h-1.8zM159.4 83.5h1.8v1.8h-1.8zM161.5 103.9h1.8v1.8h-1.8zM160.8 120.9h1.8v1.8h-1.8zM166.3 101.7h1.8v1.8h-1.8zM158.0 86.8h1.8v1.8h-1.8zM158.0 124.1h1.8v1.8h-1.8zM156.9 92.3h1.8v1.8h-1.8zM160.8 89.4h1.8v1.8h-1.8zM164.3 127.6h1.8v1.8h-1.8zM160.6 70.4h1.8v1.8h-1.8zM155.3 138.8h1.8v1.8h-1.8zM158.3 100.7h1.8v1.8h-1.8zM166.2 117.4h1.8v1.8h-1.8zM164.5 124.9h1.8v1.8h-1.8zM158.6 136.3h1.8v1.8h-1.8zM164.8 108.8h1.8v1.8h-1.8zM163.9 118.5h1.8v1.8h-1.8zM165.7 123.6h1.8v1.8h-1.8zM160.5 135.3h1.8v1.8h-1.8zM162.0 97.6h1.8v1.8h-1.8zM155.6 118.3h1.8v1.8h-1.8zM157.3 124.6h1.8v1.8h-1.8zM163.6 130.6h1.8v1.8h-1.8zM155.8 106.9h1.8v1.8h-1.8zM155.1 118.2h1.8v1.8h-1.8zM161.1 144.7h1.8v1.8h-1.8zM160.2 125.2h1.8v1.8h-1.8zM162.7 139.9h1.8v1.8h-1.8zM155.3 127.3h1.8v1.8h-1.8zM157.7 109.9h1.8v1.8h-1.8zM157.0 98.0h1.8v1.8h-1.8zM163.0 102.7h1.8v1.8h-1.8zM156.1 102.1h1.8v1.8h-1.8zM154.8 121.5h1.8v1.8h-1.8zM154.8 102.1h1.8v1.8h-1.8zM155.3 82.5h1.8v1.8h-1.8zM163.6 131.4h1.8v1.8h-1.8zM163.7 119.7h1.8v1.8h-1.8zM162.2 121.8h1.8v1.8h-1.8zM160.1 123.2h1.8v1.8h-1.8zM155.3 123.1h1.8v1.8h-1.8zM166.2 130.1h1.8v1.8h-1.8zM160.6 122.1h1.8v1.8h-1.8zM161.0 96.5h1.8v1.8h-1.8zM155.8 95.8h1.8v1.8h-1.8zM157.0 120.7h1.8v1.8h-1.8zM161.4 108.2h1.8v1.8h-1.8zM162.6 126.4h1.8v1.8h-1.8zM158.8 103.7h1.8v1.8h-1.8zM162.4 95.6h1.8v1.8h-1.8zM162.7 122.5h1.8v1.8h-1.8zM160.8 109.9h1.8v1.8h-1.8zM157.9 136.3h1.8v1.8h-1.8zM157.3 131.7h1.8v1.8h-1.8zM156.3 128.6h1.8v1.8h-1.8zM157.9 101.8h1.8v1.8h-1.8zM165.4 133.5h1.8v1.8h-1.8zM162.2 119.3h1.8v1.8h-1.8zM161.3 103.3h1.8v1.8h-1.8zM160.7 108.4h1.8v1.8h-1.8zM155.6 129.5h1.8v1.8h-1.8zM154.9 118.4h1.8v1.8h-1.8zM158.7 91.8h1.8v1.8h-1.8zM160.5 123.3h1.8v1.8h-1.8zM160.4 93.4h1.8v1.8h-1.8zM164.4 117.5h1.8v1.8h-1.8zM166.5 93.1h1.8v1.8h-1.8zM160.0 106.5h1.8v1.8h-1.8zM158.1 156.3h1.8v1.8h-1.8zM164.1 104.0h1.8v1.8h-1.8zM157.4 108.1h1.8v1.8h-1.8zM155.9 130.1h1.8v1.8h-1.8zM155.5 117.9h1.8v1.8h-1.8zM164.1 136.9h1.8v1.8h-1.8zM164.3 127.5h1.8v1.8h-1.8zM164.9 127.9h1.8v1.8h-1.8zM161.2 149.3h1.8v1.8h-1.8zM164.2 132.6h1.8v1.8h-1.8zM162.7 82.5h1.8v1.8h-1.8zM159.3 98.7h1.8v1.8h-1.8zM156.5 106.7h1.8v1.8h-1.8zM156.4 105.3h1.8v1.8h-1.8zM164.1 101.8h1.8v1.8h-1.8zM162.2 118.5h1.8v1.8h-1.8zM157.6 128.7h1.8v1.8h-1.8zM156.3 77.4h1.8v1.8h-1.8zM159.6 147.8h1.8v1.8h-1.8zM163.2 121.2h1.8v1.8h-1.8zM156.7 124.1h1.8v1.8h-1.8zM166.4 96.1h1.8v1.8h-1.8zM156.6 84.8h1.8v1.8h-1.8zM155.2 104.7h1.8v1.8h-1.8zM164.7 107.9h1.8v1.8h-1.8zM156.6 100.2h1.8v1.8h-1.8zM165.6 137.3h1.8v1.8h-1.8zM160.6 108.0h1.8v1.8h-1.8zM158.3 117.5h1.8v1.8h-1.8zM154.8 127.0h1.8v1.8h-1.8zM159.4 109.8h1.8v1.8h-1.8zM166.0 103.8h1.8v1.8h-1.8zM165.7 109.7h1.8v1.8h-1.8zM158.1 140.4h1.8v1.8h-1.8zM163.2 117.8h1.8v1.8h-1.8zM166.3 136.8h1.8v1.8h-1.8zM159.9 132.9h1.8v1.8h-1.8zM159.6 93.6h1.8v1.8h-1.8zM160.7 108.5h1.8v1.8h-1.8zM158.9 125.0h1.8v1.8h-1.8zM165.9 126.6h1.8v1.8h-1.8zM159.5 102.5h1.8v1.8h-1.8zM162.6 131.1h1.8v1.8h-1.8zM161.8 121.9h1.8v1.8h-1.8zM156.4 122.6h1.8v1.8h-1.8zM158.2 98.9h1.8v1.8h-1.8zM157.3 107.5h1.8v1.8h-1.8zM160.5 124.1h1.8v1.8h-1.8zM162.5 136.4h1.8v1.8h-1.8zM165.7 101.4h1.8v1.8h-1.8zM165.2 79.2h1.8v1.8h-1.8zM155.8 123.1h1.8v1.8h-1.8zM166.6 106.7h1.8v1.8h-1.8zM160.2 75.8h1.8v1.8h-1.8zM159.5 128.7h1.8v1.8h-1.8zM164.3 101.6h1.8v1.8h-1.8zM163.2 119.8h1.8v1.8h-1.8zM155.2 107.2h1.8v1.8h-1.8zM164.7 127.5h1.8v1.8h-1.8zM159.3 128.0h1.8v1.8h-1.8zM158.6 108.1h1.8v1.8h-1.8zM155.6 107.2h1.8v1.8h-1.8zM158.1 121.7h1.8v1.8h-1.8zM157.5 91.6h1.8v1.8h-1.8zM163.9 89.6h1.8v1.8h-1.8zM165.6 150.9h1.8v1.8h-1.8zM162.0 103.0h1.8v1.8h-1.8zM166.5 98.2h1.8v1.8h-1.8zM164.1 122.1h1.8v1.8h-1.8zM156.7 127.7h1.8v1.8h-1.8zM157.4 131.1h1.8v1.8h-1.8zM164.5 104.2h1.8v1.8h-1.8zM155.4 90.4h1.8v1.8h-1.8zM162.4 68.6h1.8v1.8h-1.8zM159.8 100.7h1.8v1.8h-1.8zM164.3 121.5h1.8v1.8h-1.8zM164.8 106.4h1.8v1.8h-1.8zM156.5 102.1h1.8v1.8h-1.8zM166.3 139.1h1.8v1.8h-1.8zM162.3 109.1h1.8v1.8h-1.8zM157.3 83.5h1.8v1.8h-1.8zM157.9 120.4h1.8v1.8h-1.8zM155.7 118.7h1.8v1.8h-1.8zM160.8 106.5h1.8v1.8h-1.8zM166.6 119.8h1.8v1.8h-1.8zM166.2 153.6h1.8v1.8h-1.8zM158.0 102.4h1.8v1.8h-1.8zM162.3 106.7h1.8v1.8h-1.8zM165.0 117.9h1.8v1.8h-1.8zM154.8 103.7h1.8v1.8h-1.8zM165.6 109.9h1.8v1.8h-1.8zM163.0 124.5h1.8v1.8h-1.8zM161.2 97.7h1.8v1.8h-1.8zM159.8 105.9h1.8v1.8h-1.8zM160.4 117.9h1.8v1.8h-1.8zM156.9 124.6h1.8v1.8h-1.8zM157.3 105.1h1.8v1.8h-1.8zM159.6 100.2h1.8v1.8h-1.8zM163.1 125.7h1.8v1.8h-1.8zM160.9 119.3h1.8v1.8h-1.8zM157.6 141.4h1.8v1.8h-1.8zM162.2 109.0h1.8v1.8h-1.8zM165.7 129.9h1.8v1.8h-1.8zM165.7 57.3h1.8v1.8h-1.8zM162.0 120.0h1.8v1.8h-1.8zM163.9 118.7h1.8v1.8h-1.8zM155.5 97.2h1.8v1.8h-1.8zM162.1 106.9h1.8v1.8h-1.8zM163.4 121.9h1.8v1.8h-1.8zM155.4 124.8h1.8v1.8h-1.8zM166.0 120.9h1.8v1.8h-1.8zM157.7 124.6h1.8v1.8h-1.8zM163.4 94.9h1.8v1.8h-1.8zM164.4 100.9h1.8v1.8h-1.8zM157.8 108.3h1.8v1.8h-1.8zM163.1 105.5h1.8v1.8h-1.8zM164.3 109.2h1.8v1.8h-1.8zM161.3 99.4h1.8v1.8h-1.8zM161.4 118.0h1.8v1.8h-1.8zM157.9 89.8h1.8v1.8h-1.8zM164.6 120.8h1.8v1.8h-1.8zM158.0 105.8h1.8v1.8h-1.8zM158.9 103.0h1.8v1.8h-1.8zM164.2 109.1h1.8v1.8h-1.8zM157.1 118.6h1.8v1.8h-1.8zM165.7 119.9h1.8v1.8h-1.8zM159.8 105.7h1.8v1.8h-1.8zM163.1 105.2h1.8v1.8h-1.8zM158.2 83.8h1.8v1.8h-1.8zM155.7 122.2h1.8v1.8h-1.8zM159.1 104.6h1.8v1.8h-1.8zM160.8 109.8h1.8v1.8h-1.8zM162.5 117.5h1.8v1.8h-1.8zM155.5 117.9h1.8v1.8h-1.8z"/><path fill="#0000ff" d="M173.6 112.3h1.8v1.8h-1.8zM168.4 113.8h1.8v1.8h-1.8zM151.5 114.3h1.8v1.8h-1.8zM169.3 111.9h1.8v1.8h-1.8zM153.4 116.3h1.8v1.8h-1.8zM152.7 115.8h1.8v1.8h-1.8zM141.9 116.6h1.8v1.8h-1.8zM167.5 114.9h1.8v1.8h-1.8zM153.6 111.8h1.8v1.8h-1.8zM166.8 115.2h1.8v1.8h-1.8zM167.1 115.7h1.8v1.8h-1.8zM169.2 114.4h1.8v1.8h-1.8zM138.1 115.1h1.8v1.8h-1.8zM169.9 110.6h1.8v1.8h-1.8zM153.2 115.7h1.8v1.8h-1.8zM169.2 111.5h1.8v1.8h-1.8zM169.0 113.6h1.8v1.8h-1.8zM148.7 113.7h1.8v1.8h-1.8zM153.4 115.6h1.8v1.8h-1.8zM169.8 111.1h1.8v1.8h-1.8zM172.1 113.2h1.8v1.8h-1.8zM146.3 114.4h1.8v1.8h-1.8zM169.3 116.3h1.8v1.8h-1.8zM144.6 115.2h1.8v1.8h-1.8zM149.3 117.4h1.8v1.8h-1.8zM148.1 113.2h1.8v1.8h-1.8zM150.0 114.2h1.8v1.8h-1.8zM170.0 114.4h1.8v1.8h-1.8zM170.4 111.5h1.8v1.8h-1.8zM148.6 116.9h1.8v1.8h-1.8zM153.6 112.7h1.8v1.8h-1.8zM167.8 112.0h1.8v1.8h-1.8zM151.8 116.8h1.8v1.8h-1.8zM167.4 112.0h1.8v1.8h-1.8zM168.2 112.3h1.8v1.8h-1.8zM152.5 112.3h1.8v1.8h-1.8zM167.1 116.7h1.8v1.8h-1.8zM147.6 112.9h1.8v1.8h-1.8zM168.2 111.0h1.8v1.8h-1.8zM167.1 115.8h1.8v1.8h-1.8zM167.9 110.1h1.8v1.8h-1.8zM145.7 116.5h1.8v1.8h-1.8zM167.3 112.9h1.8v1.8h-1.8zM147.5 113.9h1.8v1.8h-1.8zM146.7 115.8h1.8v1.8h-1.8zM171.1 115.9h1.8v1.8h-1.8zM168.9 110.4h1.8v1.8h-1.8zM171.5 110.6h1.8v1.8h-1.8zM151.0 114.4h1.8v1.8h-1.8zM153.6 112.6h1.8v1.8h-1.8zM173.5 111.6h1.8v1.8h-1.8zM153.0 111.4h1.8v1.8h-1.8zM154.2 116.1h1.8v1.8h-1.8zM150.1 110.8h1.8v1.8h-1.8zM153.6 113.1h1.8v1.8h-1.8zM144.5 116.7h1.8v1.8h-1.8zM171.2 112.0h1.8v1.8h-1.8zM167.7 113.4h1.8v1.8h-1.8zM167.6 110.5h1.8v1.8h-1.8zM169.1 110.7h1.8v1.8h-1.8zM168.8 111.0h1.8v1.8h-1.8zM166.8 115.9h1.8v1.8h-1.8zM153.8 114.7h1.8v1.8h-1.8zM144.1 117.2h1.8v1.8h-1.8zM168.4 112.0h1.8v1.8h-1.8zM152.4 117.0h1.8v1.8h-1.8zM169.9 112.1h1.8v1.8h-1.8zM170.5 114.0h1.8v1.8h-1.8zM176.3 112.3h1.8v1.8h-1.8zM172.6 114.5h1.8v1.8h-1.8zM168.4 114.6h1.8v1.8h-1.8zM153.3 117.1h1.8v1.8h-1.8zM177.2 114.9h1.8v1.8h-1.8zM170.3 112.7h1.8v1.8h-1.8zM152.8 116.2h1.8v1.8h-1.8zM147.9 110.9h1.8v1.8h-1.8zM168.6 116.0h1.8v1.8h-1.8zM167.8 116.5h1.8v1.8h-1.8zM151.4 113.5h1.8v1.8h-1.8zM153.2 116.1h1.8v1.8h-1.8zM152.6 113.8h1.8v1.8h-1.8zM154.1 116.3h1.8v1.8h-1.8zM180.7 110.4h1.8v1.8h-1.8zM168.8 112.1h1.8v1.8h-1.8zM148.8 116.3h1.8v1.8h-1.8zM147.8 115.8h1.8v1.8h-1.8zM152.5 112.7h1.8v1.8h-1.8zM172.0 110.7h1.8v1.8h-1.8zM179.1 110.2h1.8v1.8h-1.8zM167.0 111.0h1.8v1.8h-1.8zM188.7 110.8h1.8v1.8h-1.8zM167.2 117.0h1.8v1.8h-1.8zM168.0 113.9h1.8v1.8h-1.8zM153.4 115.8h1.8v1.8h-1.8zM170.3 115.2h1.8v1.8h-1.8zM148.5 115.1h1.8v1.8h-1.8zM153.5 112.1h1.8v1.8h-1.8zM169.3 111.3h1.8v1.8h-1.8zM151.9 116.5h1.8v1.8h-1.8zM150.6 115.4h1.8v1.8h-1.8zM169.6 112.7h1.8v1.8h-1.8zM153.6 112.8h1.8v1.8h-1.8zM146.7 112.1h1.8v1.8h-1.8zM150.6 117.1h1.8v1.8h-1.8zM168.7 115.8h1.8v1.8h-1.8zM154.7 110.8h1.8v1.8h-1.8zM170.3 115.8h1.8v1.8h-1.8zM153.3 114.4h1.8v1.8h-1.8zM146.8 115.5h1.8v1.8h-1.8zM181.2 112.9h1.8v1.8h-1.8zM167.3 111.0h1.8v1.8h-1.8zM173.7 110.5h1.8v1.8h-1.8zM168.3 111.3h1.8v1.8h-1.8zM179.0 113.4h1.8v1.8h-1.8zM154.7 114.0h1.8v1.8h-1.8zM167.5 114.8h1.8v1.8h-1.8zM172.3 111.2h1.8v1.8h-1.8zM152.5 114.4h1.8v1.8h-1.8zM151.5 116.5h1.8v1.8h-1.8zM152.8 114.8h1.8v1.8h-1.8zM140.0 116.9h1.8v1.8h-1.8zM151.2 115.6h1.8v1.8h-1.8zM146.8 117.3h1.8v1.8h-1.8zM176.0 113.6h1.8v1.8h-1.8zM174.0 113.4h1.8v1.8h-1.8zM151.4 116.6h1.8v1.8h-1.8zM171.7 115.3h1.8v1.8h-1.8zM148.7 115.0h1.8v1.8h-1.8zM177.7 116.2h1.8v1.8h-1.8zM153.8 112.6h1.8v1.8h-1.8zM150.1 113.2h1.8v1.8h-1.8zM169.8 113.6h1.8v1.8h-1.8zM175.7 111.3h1.8v1.8h-1.8zM149.0 113.7h1.8v1.8h-1.8zM147.9 111.9h1.8v1.8h-1.8zM154.1 116.9h1.8v1.8h-1.8zM172.5 111.4h1.8v1.8h-1.8zM148.8 116.1h1.8v1.8h-1.8zM143.4 115.7h1.8v1.8h-1.8zM171.6 110.5h1.8v1.8h-1.8zM153.1 116.7h1.8v1.8h-1.8zM152.6 115.5h1.8v1.8h-1.8zM154.3 113.9h1.8v1.8h-1.8zM167.3 111.3h1.8v1.8h-1.8zM149.1 116.0h1.8v1.8h-1.8zM153.5 114.2h1.8v1.8h-1.8zM176.1 110.2h1.8v1.8h-1.8zM167.5 116.8h1.8v1.8h-1.8zM166.8 114.9h1.8v1.8h-1.8zM153.8 116.9h1.8v1.8h-1.8zM154.7 112.2h1.8v1.8h-1.8zM151.3 114.4h1.8v1.8h-1.8zM152.1 114.9h1.8v1.8h-1.8zM177.5 110.3h1.8v1.8h-1.8zM171.9 115.4h1.8v1.8h-1.8zM173.6 114.0h1.8v1.8h-1.8zM172.4 112.1h1.8v1.8h-1.8zM143.1 115.5h1.8v1.8h-1.8zM144.2 114.0h1.8v1.8h-1.8zM169.5 114.5h1.8v1.8h-1.8zM168.7 115.7h1.8v1.8h-1.8zM176.9 115.5h1.8v1.8h-1.8zM177.1 110.3h1.8v1.8h-1.8zM168.2 115.0h1.8v1.8h-1.8zM154.4 116.2h1.8v1.8h-1.8zM148.6 115.4h1.8v1.8h-1.8zM154.7 114.5h1.8v1.8h-1.8zM153.0 114.5h1.8v1.8h-1.8zM152.9 113.0h1.8v1.8h-1.8zM154.7 112.4h1.8v1.8h-1.8zM181.7 110.7h1.8v1.8h-1.8zM147.6 113.5h1.8v1.8h-1.8zM172.4 110.6h1.8v1.8h-1.8zM149.8 112.6h1.8v1.8h-1.8zM154.5 115.3h1.8v1.8h-1.8zM154.6 116.7h1.8v1.8h-1.8zM154.0 113.2h1.8v1.8h-1.8zM150.1 114.8h1.8v1.8h-1.8zM152.1 115.7h1.8v1.8h-1.8zM174.5 111.1h1.8v1.8h-1.8zM177.8 114.0h1.8v1.8h-1.8zM153.1 116.9h1.8v1.8h-1.8zM172.8 110.8h1.8v1.8h-1.8zM175.5 111.2h1.8v1.8h-1.8zM167.3 110.1h1.8v1.8h-1.8zM152.2 117.1h1.8v1.8h-1.8zM167.0 116.6h1.8v1.8h-1.8zM153.4 113.6h1.8v1.8h-1.8zM153.0 111.3h1.8v1.8h-1.8zM149.7 116.8h1.8v1.8h-1.8zM151.5 113.2h1.8v1.8h-1.8zM152.5 116.5h1.8v1.8h-1.8zM153.0 115.0h1.8v1.8h-1.8zM151.2 112.5h1.8v1.8h-1.8zM175.9 110.0h1.8v1.8h-1.8zM154.0 115.0h1.8v1.8h-1.8zM171.7 110.2h1.8v1.8h-1.8zM154.1 114.4h1.8v1.8h-1.8zM153.3 116.3h1.8v1.8h-1.8zM170.7 110.9h1.8v1.8h-1.8zM150.5 114.7h1.8v1.8h-1.8zM153.5 113.6h1.8v1.8h-1.8zM153.0 113.4h1.8v1.8h-1.8zM153.3 112.9h1.8v1.8h-1.8zM168.3 114.4h1.8v1.8h-1.8zM172.2 112.2h1.8v1.8h-1.8zM146.0 117.4h1.8v1.8h-1.8zM173.7 110.5h1.8v1.8h-1.8zM148.9 114.4h1.8v1.8h-1.8zM168.7 111.4h1.8v1.8h-1.8zM153.3 111.6h1.8v1.8h-1.8zM152.1 116.7h1.8v1.8h-1.8zM170.2 114.5h1.8v1.8h-1.8zM166.9 116.1h1.8v1.8h-1.8zM154.3 111.8h1.8v1.8h-1.8zM172.0 115.1h1.8v1.8h-1.8zM180.1 110.1h1.8v1.8h-1.8zM172.2 110.9h1.8v1.8h-1.8zM167.8 112.5h1.8v1.8h-1.8zM137.1 116.9h1.8v1.8h-1.8zM167.6 111.2h1.8v1.8h-1.8zM151.9 116.9h1.8v1.8h-1.8zM153.1 112.3h1.8v1.8h-1.8zM168.2 111.5h1.8v1.8h-1.8zM172.0 114.3h1.8v1.8h-1.8zM150.4 116.1h1.8v1.8h-1.8zM169.4 111.8h1.8v1.8h-1.8zM142.1 116.4h1.8v1.8h-1.8zM153.6 110.1h1.8v1.8h-1.8zM152.6 114.0h1.8v1.8h-1.8zM149.9 114.8h1.8v1.8h-1.8zM152.6 110.4h1.8v1.8h-1.8zM148.4 116.0h1.8v1.8h-1.8zM145.6 114.9h1.8v1.8h-1.8zM153.4 112.9h1.8v1.8h-1.8zM151.8 114.4h1.8v1.8h-1.8zM145.1 111.7h1.8v1.8h-1.8zM169.7 115.4h1.8v1.8h-1.8zM176.4 110.4h1.8v1.8h-1.8zM166.9 114.5h1.8v1.8h-1.8zM173.7 110.0h1.8v1.8h-1.8zM151.7 114.8h1.8v1.8h-1.8zM172.2 112.4h1.8v1.8h-1.8zM169.8 111.6h1.8v1.8h-1.8zM150.7 115.3h1.8v1.8h-1.8zM144.5 115.0h1.8v1.8h-1.8zM153.4 116.3h1.8v1.8h-1.8zM172.5 110.6h1.8v1.8h-1.8zM167.9 110.9h1.8v1.8h-1.8zM168.9 110.6h1.8v1.8h-1.8zM152.5 113.4h1.8v1.8h-1.8zM150.0 116.6h1.8v1.8h-1.8zM181.2 111.0h1.8v1.8h-1.8zM153.7 117.4h1.8v1.8h-1.8zM144.3 114.2h1.8v1.8h-1.8zM172.6 110.2h1.8v1.8h-1.8zM154.2 113.1h1.8v1.8h-1.8zM168.4 112.1h1.8v1.8h-1.8zM145.8 116.1h1.8v1.8h-1.8zM153.1 112.0h1.8v1.8h-1.8zM154.2 113.8h1.8v1.8h-1.8zM170.7 112.0h1.8v1.8h-1.8zM140.3 116.9h1.8v1.8h-1.8zM146.0 116.9h1.8v1.8h-1.8zM142.1 115.3h1.8v1.8h-1.8zM151.6 115.1h1.8v1.8h-1.8zM151.8 114.5h1.8v1.8h-1.8zM154.0 113.8h1.8v1.8h-1.8zM169.9 111.1h1.8v1.8h-1.8zM151.0 114.6h1.8v1.8h-1.8zM172.1 110.5h1.8v1.8h-1.8zM144.0 115.0h1.8v1.8h-1.8zM167.5 114.2h1.8v1.8h-1.8zM168.1 111.5h1.8v1.8h-1.8zM148.3 111.9h1.8v1.8h-1.8zM169.1 111.2h1.8v1.8h-1.8zM146.5 114.0h1.8v1.8h-1.8zM149.9 117.3h1.8v1.8h-1.8zM153.8 112.2h1.8v1.8h-1.8zM169.5 112.0h1.8v1.8h-1.8zM172.5 113.9h1.8v1.8h-1.8zM151.5 117.0h1.8v1.8h-1.8zM179.4 111.7h1.8v1.8h-1.8zM151.6 116.7h1.8v1.8h-1.8zM168.8 110.5h1.8v1.8h-1.8zM147.2 114.1h1.8v1.8h-1.8zM153.8 116.8h1.8v1.8h-1.8zM178.4 114.9h1.8v1.8h-1.8zM152.4 116.6h1.8v1.8h-1.8zM167.4 112.7h1.8v1.8h-1.8zM170.6 113.4h1.8v1.8h-1.8zM173.2 112.6h1.8v1.8h-1.8zM150.9 115.8h1.8v1.8h-1.8zM172.4 113.4h1.8v1.8h-1.8zM151.9 114.4h1.8v1.8h-1.8zM169.9 111.4h1.8v1.8h-1.8zM174.4 110.1h1.8v1.8h-1.8zM152.4 111.5h1.8v1.8h-1.8zM152.8 110.1h1.8v1.8h-1.8zM152.8 113.1h1.8v1.8h-1.8zM170.2 116.2h1.8v1.8h-1.8zM152.5 113.5h1.8v1.8h-1.8zM170.7 111.6h1.8v1.8h-1.8zM167.7 111.0h1.8v1.8h-1.8zM168.0 113.9h1.8v1.8h-1.8zM153.4 116.6h1.8v1.8h-1.8zM168.4 113.1h1.8v1.8h-1.8zM153.6 115.0h1.8v1.8h-1.8zM154.7 110.5h1.8v1.8h-1.8zM171.1 113.6h1.8v1.8h-1.8zM150.5 113.8h1.8v1.8h-1.8zM153.2 114.3h1.8v1.8h-1.8zM169.1 110.6h1.8v1.8h-1.8zM169.4 116.1h1.8v1.8h-1.8zM152.1 114.3h1.8v1.8h-1.8zM154.3 117.2h1.8v1.8h-1.8zM148.9 115.9h1.8v1.8h-1.8zM150.6 112.2h1.8v1.8h-1.8zM170.4 111.4h1.8v1.8h-1.8zM146.5 112.9h1.8v1.8h-1.8zM147.4 114.0h1.8v1.8h-1.8zM146.6 114.4h1.8v1.8h-1.8zM169.8 111.6h1.8v1.8h-1.8zM153.5 115.4h1.8v1.8h-1.8zM144.1 117.0h1.8v1.8h-1.8zM151.0 116.2h1.8v1.8h-1.8zM149.0 116.5h1.8v1.8h-1.8zM170.8 116.4h1.8v1.8h-1.8zM169.0 111.3h1.8v1.8h-1.8zM152.2 115.8h1.8v1.8h-1.8zM171.7 111.5h1.8v1.8h-1.8zM150.1 115.0h1.8v1.8h-1.8zM166.9 112.5h1.8v1.8h-1.8zM166.7 114.8h1.8v1.8h-1.8zM169.0 116.5h1.8v1.8h-1.8zM172.1 111.1h1.8v1.8h-1.8zM150.0 113.0h1.8v1.8h-1.8zM174.9 116.2h1.8v1.8h-1.8zM150.2 116.0h1.8v1.8h-1.8zM146.8 111.9h1.8v1.8h-1.8zM173.6 110.3h1.8v1.8h-1.8zM150.3 114.2h1.8v1.8h-1.8zM183.1 112.0h1.8v1.8h-1.8zM154.3 115.1h1.8v1.8h-1.8zM139.2 112.3h1.8v1.8h-1.8zM149.9 112.1h1.8v1.8h-1.8zM168.5 111.7h1.8v1.8h-1.8zM172.2 112.6h1.8v1.8h-1.8zM145.0 116.8h1.8v1.8h-1.8zM154.1 114.9h1.8v1.8h-1.8zM170.4 116.1h1.8v1.8h-1.8zM154.0 117.3h1.8v1.8h-1.8zM148.4 111.2h1.8v1.8h-1.8zM149.0 115.1h1.8v1.8h-1.8zM181.1 112.5h1.8v1.8h-1.8zM154.0 110.8h1.8v1.8h-1.8zM143.0 117.4h1.8v1.8h-1.8zM151.8 114.1h1.8v1.8h-1.8zM174.5 115.4h1.8v1.8h-1.8zM191.0 111.4h1.8v1.8h-1.8zM146.9 115.8h1.8v1.8h-1.8zM151.9 113.7h1.8v1.8h-1.8zM151.5 113.8h1.8v1.8h-1.8zM154.3 114.7h1.8v1.8h-1.8zM178.0 111.3h1.8v1.8h-1.8zM154.7 110.2h1.8v1.8h-1.8zM173.0 110.9h1.8v1.8h-1.8zM177.1 114.5h1.8v1.8h-1.8zM151.3 115.4h1.8v1.8h-1.8zM168.0 115.5h1.8v1.8h-1.8zM142.7 115.5h1.8v1.8h-1.8zM146.9 116.1h1.8v1.8h-1.8zM145.5 113.9h1.8v1.8h-1.8zM147.8 113.9h1.8v1.8h-1.8zM137.2 115.4h1.8v1.8h-1.8zM194.8 111.1h1.8v1.8h-1.8zM174.6 117.4h1.8v1.8h-1.8zM154.0 114.2h1.8v1.8h-1.8zM145.1 112.5h1.8v1.8h-1.8zM168.4 113.0h1.8v1.8h-1.8zM154.2 115.9h1.8v1.8h-1.8zM169.2 112.9h1.8v1.8h-1.8zM154.2 112.9h1.8v1.8h-1.8zM148.3 116.5h1.8v1.8h-1.8zM171.8 114.5h1.8v1.8h-1.8zM146.6 116.9h1.8v1.8h-1.8zM167.1 112.7h1.8v1.8h-1.8zM144.2 116.7h1.8v1.8h-1.8zM153.3 110.5h1.8v1.8h-1.8zM171.2 114.6h1.8v1.8h-1.8zM149.6 112.5h1.8v1.8h-1.8zM169.7 115.2h1.8v1.8h-1.8zM169.8 111.9h1.8v1.8h-1.8zM152.0 116.5h1.8v1.8h-1.8zM146.5 110.0h1.8v1.8h-1.8zM147.0 117.3h1.8v1.8h-1.8zM171.2 113.6h1.8v1.8h-1.8zM138.1 113.9h1.8v1.8h-1.8zM153.5 115.2h1.8v1.8h-1.8zM139.8 115.2h1.8v1.8h-1.8zM154.3 116.1h1.8v1.8h-1.8zM148.6 115.6h1.8v1.8h-1.8zM168.2 113.3h1.8v1.8h-1.8zM170.7 116.1h1.8v1.8h-1.8zM175.7 114.7h1.8v1.8h-1.8zM173.8 114.3h1.8v1.8h-1.8zM169.1 116.5h1.8v1.8h-1.8zM152.2 116.2h1.8v1.8h-1.8zM172.4 112.5h1.8v1.8h-1.8zM152.1 115.0h1.8v1.8h-1.8zM148.2 113.0h1.8v1.8h-1.8zM169.9 116.3h1.8v1.8h-1.8zM167.2 116.0h1.8v1.8h-1.8zM153.2 113.2h1.8v1.8h-1.8zM149.3 112.2h1.8v1.8h-1.8zM149.6 115.0h1.8v1.8h-1.8zM170.1 115.7h1.8v1.8h-1.8zM168.0 114.1h1.8v1.8h-1.8zM143.8 114.1h1.8v1.8h-1.8zM154.0 112.0h1.8v1.8h-1.8zM138.2 113.6h1.8v1.8h-1.8zM173.1 114.0h1.8v1.8h-1.8zM146.5 112.0h1.8v1.8h-1.8zM150.1 110.6h1.8v1.8h-1.8zM168.3 115.2h1.8v1.8h-1.8zM151.2 115.9h1.8v1.8h-1.8zM151.2 114.9h1.8v1.8h-1.8zM154.0 116.3h1.8v1.8h-1.8zM146.6 116.2h1.8v1.8h-1.8zM169.4 115.8h1.8v1.8h-1.8zM151.8 115.0h1.8v1.8h-1.8zM152.4 115.9h1.8v1.8h-1.8zM154.1 114.4h1.8v1.8h-1.8zM148.3 113.6h1.8v1.8h-1.8zM173.9 110.7h1.8v1.8h-1.8zM172.9 111.1h1.8v1.8h-1.8zM148.3 115.6h1.8v1.8h-1.8zM170.2 116.6h1.8v1.8h-1.8zM189.0 111.0h1.8v1.8h-1.8zM133.0 116.0h1.8v1.8h-1.8zM154.7 114.8h1.8v1.8h-1.8zM149.0 110.4h1.8v1.8h-1.8zM171.8 114.3h1.8v1.8h-1.8zM152.4 117.3h1.8v1.8h-1.8zM151.1 116.6h1.8v1.8h-1.8zM174.1 114.5h1.8v1.8h-1.8zM181.5 110.5h1.8v1.8h-1.8zM154.7 111.3h1.8v1.8h-1.8zM151.6 114.6h1.8v1.8h-1.8zM147.0 116.6h1.8v1.8h-1.8zM153.2 117.2h1.8v1.8h-1.8zM153.8 115.7h1.8v1.8h-1.8zM172.2 114.1h1.8v1.8h-1.8zM151.7 113.2h1.8v1.8h-1.8zM153.7 112.8h1.8v1.8h-1.8zM151.6 114.6h1.8v1.8h-1.8zM169.1 110.8h1.8v1.8h-1.8zM169.9 112.0h1.8v1.8h-1.8zM175.4 112.3h1.8v1.8h-1.8zM152.9 112.9h1.8v1.8h-1.8zM152.9 114.0h1.8v1.8h-1.8zM154.2 113.4h1.8v1.8h-1.8zM154.6 111.9h1.8v1.8h-1.8zM166.9 115.3h1.8v1.8h-1.8zM167.1 114.2h1.8v1.8h-1.8zM167.7 114.6h1.8v1.8h-1.8zM167.1 115.9h1.8v1.8h-1.8zM153.2 114.2h1.8v1.8h-1.8zM174.8 110.9h1.8v1.8h-1.8zM170.5 111.3h1.8v1.8h-1.8zM166.7 112.6h1.8v1.8h-1.8zM169.5 116.1h1.8v1.8h-1.8zM171.4 114.4h1.8v1.8h-1.8zM172.2 113.8h1.8v1.8h-1.8zM171.4 113.4h1.8v1.8h-1.8zM143.7 116.7h1.8v1.8h-1.8zM152.9 116.0h1.8v1.8h-1.8zM168.1 114.8h1.8v1.8h-1.8zM168.9 110.3h1.8v1.8h-1.8zM153.7 117.3h1.8v1.8h-1.8zM144.7 115.4h1.8v1.8h-1.8zM154.2 116.0h1.8v1.8h-1.8zM167.0 114.1h1.8v1.8h-1.8zM149.2 115.9h1.8v1.8h-1.8zM147.8 112.3h1.8v1.8h-1.8zM167.3 113.9h1.8v1.8h-1.8zM154.7 113.9h1.8v1.8h-1.8zM152.8 113.2h1.8v1.8h-1.8zM143.8 111.3h1.8v1.8h-1.8zM152.5 115.1h1.8v1.8h-1.8zM148.3 116.8h1.8v1.8h-1.8zM152.1 115.0h1.8v1.8h-1.8zM154.5 114.5h1.8v1.8h-1.8zM152.5 116.5h1.8v1.8h-1.8zM147.2 116.2h1.8v1.8h-1.8zM136.5 110.1h1.8v1.8h-1.8zM167.0 115.6h1.8v1.8h-1.8zM153.8 113.9h1.8v1.8h-1.8zM181.3 111.1h1.8v1.8h-1.8zM171.9 111.0h1.8v1.8h-1.8zM150.6 115.0h1.8v1.8h-1.8zM168.0 114.5h1.8v1.8h-1.8zM144.4 112.7h1.8v1.8h-1.8zM137.0 112.0h1.8v1.8h-1.8zM145.1 111.7h1.8v1.8h-1.8zM152.5 115.4h1.8v1.8h-1.8zM153.5 112.8h1.8v1.8h-1.8zM149.3 116.5h1.8v1.8h-1.8zM175.1 114.0h1.8v1.8h-1.8zM144.8 112.0h1.8v1.8h-1.8zM153.6 110.8h1.8v1.8h-1.8zM171.3 111.4h1.8v1.8h-1.8zM174.1 111.7h1.8v1.8h-1.8zM147.5 115.3h1.8v1.8h-1.8zM174.7 115.5h1.8v1.8h-1.8zM147.7 114.6h1.8v1.8h-1.8zM169.3 116.5h1.8v1.8h-1.8zM202.3 111.8h1.8v1.8h-1.8zM181.7 111.1h1.8v1.8h-1.8zM181.0 111.7h1.8v1.8h-1.8zM152.9 111.1h1.8v1.8h-1.8zM146.2 112.2h1.8v1.8h-1.8zM106.6 114.8h1.8v1.8h-1.8zM152.9 115.7h1.8v1.8h-1.8zM139.5 115.2h1.8v1.8h-1.8zM146.5 114.2h1.8v1.8h-1.8zM153.3 112.1h1.8v1.8h-1.8zM168.7 112.2h1.8v1.8h-1.8zM168.2 112.0h1.8v1.8h-1.8zM169.5 117.1h1.8v1.8h-1.8zM188.6 113.7h1.8v1.8h-1.8zM170.2 111.4h1.8v1.8h-1.8zM128.6 116.8h1.8v1.8h-1.8zM133.5 113.8h1.8v1.8h-1.8zM175.4 115.9h1.8v1.8h-1.8zM171.6 115.8h1.8v1.8h-1.8zM149.2 116.2h1.8v1.8h-1.8zM136.8 112.2h1.8v1.8h-1.8zM176.6 110.4h1.8v1.8h-1.8zM144.9 113.9h1.8v1.8h-1.8zM169.2 115.9h1.8v1.8h-1.8zM188.4 114.5h1.8v1.8h-1.8zM166.9 114.9h1.8v1.8h-1.8zM130.0 115.3h1.8v1.8h-1.8zM150.1 110.8h1.8v1.8h-1.8zM171.5 110.7h1.8v1.8h-1.8zM172.2 115.6h1.8v1.8h-1.8zM152.8 111.3h1.8v1.8h-1.8zM140.9 112.4h1.8v1.8h-1.8zM167.4 115.7h1.8v1.8h-1.8zM151.0 114.9h1.8v1.8h-1.8zM153.8 117.2h1.8v1.8h-1.8zM169.7 113.6h1.8v1.8h-1.8zM167.4 114.9h1.8v1.8h-1.8zM151.7 112.7h1.8v1.8h-1.8zM146.6 115.4h1.8v1.8h-1.8zM175.6 113.3h1.8v1.8h-1.8zM170.2 114.2h1.8v1.8h-1.8zM170.1 113.5h1.8v1.8h-1.8zM140.9 115.9h1.8v1.8h-1.8zM139.1 115.6h1.8v1.8h-1.8zM149.0 111.7h1.8v1.8h-1.8zM133.2 111.6h1.8v1.8h-1.8zM174.5 115.1h1.8v1.8h-1.8zM142.5 116.5h1.8v1.8h-1.8zM174.4 113.8h1.8v1.8h-1.8zM194.9 115.0h1.8v1.8h-1.8zM146.7 113.3h1.8v1.8h-1.8zM143.3 110.8h1.8v1.8h-1.8zM168.2 110.2h1.8v1.8h-1.8zM154.1 117.1h1.8v1.8h-1.8zM151.3 114.7h1.8v1.8h-1.8zM140.6 113.9h1.8v1.8h-1.8zM153.0 115.9h1.8v1.8h-1.8zM152.5 115.0h1.8v1.8h-1.8zM151.9 113.5h1.8v1.8h-1.8zM172.3 113.6h1.8v1.8h-1.8zM151.6 110.7h1.8v1.8h-1.8zM169.0 114.5h1.8v1.8h-1.8zM171.3 112.8h1.8v1.8h-1.8zM153.3 110.7h1.8v1.8h-1.8zM151.3 111.2h1.8v1.8h-1.8zM134.5 116.9h1.8v1.8h-1.8zM152.3 115.3h1.8v1.8h-1.8zM167.0 114.6h1.8v1.8h-1.8zM167.1 116.0h1.8v1.8h-1.8zM189.8 115.8h1.8v1.8h-1.8zM167.9 112.2h1.8v1.8h-1.8zM152.2 115.7h1.8v1.8h-1.8zM172.2 114.6h1.8v1.8h-1.8zM150.0 113.6h1.8v1.8h-1.8zM166.9 113.5h1.8v1.8h-1.8zM149.2 115.1h1.8v1.8h-1.8zM184.8 113.0h1.8v1.8h-1.8zM146.8 112.3h1.8v1.8h-1.8zM146.7 114.1h1.8v1.8h-1.8zM145.2 113.6h1.8v1.8h-1.8zM167.0 115.8h1.8v1.8h-1.8zM148.1 110.2h1.8v1.8h-1.8zM170.1 113.0h1.8v1.8h-1.8zM149.0 115.3h1.8v1.8h-1.8zM150.8 110.2h1.8v1.8h-1.8zM173.9 112.9h1.8v1.8h-1.8zM173.9 114.2h1.8v1.8h-1.8zM151.2 113.4h1.8v1.8h-1.8zM171.2 115.0h1.8v1.8h-1.8zM167.5 116.6h1.8v1.8h-1.8zM146.4 111.2h1.8v1.8h-1.8zM151.6 112.3h1.8v1.8h-1.8zM149.3 113.7h1.8v1.8h-1.8zM175.0 115.7h1.8v1.8h-1.8zM169.4 113.6h1.8v1.8h-1.8zM136.0 112.9h1.8v1.8h-1.8zM153.8 116.8h1.8v1.8h-1.8zM146.2 113.9h1.8v1.8h-1.8zM177.5 112.2h1.8v1.8h-1.8zM186.6 112.1h1.8v1.8h-1.8zM168.9 116.4h1.8v1.8h-1.8zM154.5 115.7h1.8v1.8h-1.8zM172.1 112.0h1.8v1.8h-1.8zM151.3 110.0h1.8v1.8h-1.8zM142.9 110.1h1.8v1.8h-1.8zM151.8 112.2h1.8v1.8h-1.8zM179.5 116.1h1.8v1.8h-1.8zM177.4 115.9h1.8v1.8h-1.8zM152.1 110.9h1.8v1.8h-1.8zM118.5 115.9h1.8v1.8h-1.8zM174.1 112.9h1.8v1.8h-1.8zM124.1 111.8h1.8v1.8h-1.8zM147.2 117.1h1.8v1.8h-1.8zM141.6 114.7h1.8v1.8h-1.8zM153.3 112.0h1.8v1.8h-1.8zM150.7 115.4h1.8v1.8h-1.8zM153.8 114.4h1.8v1.8h-1.8zM133.4 116.4h1.8v1.8h-1.8zM166.7 117.2h1.8v1.8h-1.8zM150.7 112.4h1.8v1.8h-1.8zM152.2 113.7h1.8v1.8h-1.8zM139.1 110.9h1.8v1.8h-1.8zM171.0 113.6h1.8v1.8h-1.8zM169.3 114.0h1.8v1.8h-1.8zM177.4 116.5h1.8v1.8h-1.8zM182.6 112.9h1.8v1.8h-1.8zM170.9 112.1h1.8v1.8h-1.8zM141.4 112.4h1.8v1.8h-1.8zM152.9 112.0h1.8v1.8h-1.8zM180.2 113.6h1.8v1.8h-1.8zM168.6 112.4h1.8v1.8h-1.8zM135.3 115.8h1.8v1.8h-1.8zM146.8 116.6h1.8v1.8h-1.8zM137.2 111.1h1.8v1.8h-1.8zM171.8 114.9h1.8v1.8h-1.8zM166.8 112.6h1.8v1.8h-1.8zM148.2 116.9h1.8v1.8h-1.8zM138.3 115.1h1.8v1.8h-1.8zM174.1 115.3h1.8v1.8h-1.8zM148.5 113.4h1.8v1.8h-1.8zM167.7 113.8h1.8v1.8h-1.8zM148.5 115.0h1.8v1.8h-1.8zM183.5 111.0h1.8v1.8h-1.8zM188.3 110.9h1.8v1.8h-1.8zM131.4 116.4h1.8v1.8h-1.8zM167.9 114.2h1.8v1.8h-1.8zM138.8 113.3h1.8v1.8h-1.8zM173.4 114.8h1.8v1.8h-1.8zM150.1 114.9h1.8v1.8h-1.8zM168.1 113.0h1.8v1.8h-1.8zM147.1 115.7h1.8v1.8h-1.8zM174.6 112.8h1.8v1.8h-1.8zM178.1 113.3h1.8v1.8h-1.8zM181.7 112.2h1.8v1.8h-1.8zM149.1 116.8h1.8v1.8h-1.8zM151.8 113.1h1.8v1.8h-1.8zM151.2 117.1h1.8v1.8h-1.8zM125.9 113.9h1.8v1.8h-1.8zM175.5 117.3h1.8v1.8h-1.8zM182.6 114.0h1.8v1.8h-1.8zM171.3 114.9h1.8v1.8h-1.8zM176.5 114.1h1.8v1.8h-1.8zM169.6 111.0h1.8v1.8h-1.8zM141.1 114.7h1.8v1.8h-1.8zM134.3 115.2h1.8v1.8h-1.8zM149.9 112.8h1.8v1.8h-1.8zM154.3 116.4h1.8v1.8h-1.8zM114.7 116.7h1.8v1.8h-1.8zM182.4 114.3h1.8v1.8h-1.8zM120.6 115.7h1.8v1.8h-1.8zM178.1 114.3h1.8v1.8h-1.8zM179.5 111.7h1.8v1.8h-1.8zM167.6 115.7h1.8v1.8h-1.8zM203.4 111.3h1.8v1.8h-1.8zM143.3 113.8h1.8v1.8h-1.8zM194.4 116.5h1.8v1.8h-1.8zM138.9 111.2h1.8v1.8h-1.8zM150.2 115.4h1.8v1.8h-1.8zM180.6 115.6h1.8v1.8h-1.8zM167.4 117.4h1.8v1.8h-1.8zM172.3 114.1h1.8v1.8h-1.8zM154.2 114.7h1.8v1.8h-1.8zM167.4 111.1h1.8v1.8h-1.8zM185.9 113.3h1.8v1.8h-1.8zM151.8 115.9h1.8v1.8h-1.8zM152.3 110.9h1.8v1.8h-1.8zM169.2 111.2h1.8v1.8h-1.8zM152.8 112.2h1.8v1.8h-1.8zM147.7 110.2h1.8v1.8h-1.8zM187.7 116.9h1.8v1.8h-1.8zM153.9 114.3h1.8v1.8h-1.8zM139.1 113.1h1.8v1.8h-1.8zM170.3 115.7h1.8v1.8h-1.8zM154.8 114.3h1.8v1.8h-1.8zM125.8 116.3h1.8v1.8h-1.8zM180.1 116.5h1.8v1.8h-1.8zM146.0 116.8h1.8v1.8h-1.8zM146.2 111.8h1.8v1.8h-1.8zM181.2 113.8h1.8v1.8h-1.8zM153.5 117.4h1.8v1.8h-1.8zM150.2 115.2h1.8v1.8h-1.8zM179.4 112.5h1.8v1.8h-1.8zM179.4 110.8h1.8v1.8h-1.8zM175.7 113.3h1.8v1.8h-1.8zM154.4 116.6h1.8v1.8h-1.8zM189.1 114.1h1.8v1.8h-1.8zM174.8 116.5h1.8v1.8h-1.8zM189.9 116.8h1.8v1.8h-1.8zM154.7 112.0h1.8v1.8h-1.8zM151.3 110.2h1.8v1.8h-1.8zM173.3 111.1h1.8v1.8h-1.8zM146.8 110.9h1.8v1.8h-1.8zM170.0 111.3h1.8v1.8h-1.8zM144.7 111.3h1.8v1.8h-1.8zM150.4 112.1h1.8v1.8h-1.8zM179.7 114.4h1.8v1.8h-1.8zM144.8 114.0h1.8v1.8h-1.8zM170.7 110.1h1.8v1.8h-1.8zM174.9 110.7h1.8v1.8h-1.8zM169.1 110.1h1.8v1.8h-1.8zM180.9 116.9h1.8v1.8h-1.8zM170.0 116.7h1.8v1.8h-1.8zM147.0 116.2h1.8v1.8h-1.8zM148.8 114.1h1.8v1.8h-1.8zM147.6 116.8h1.8v1.8h-1.8zM125.5 114.5h1.8v1.8h-1.8zM145.8 116.2h1.8v1.8h-1.8zM140.1 115.7h1.8v1.8h-1.8zM118.8 115.9h1.8v1.8h-1.8zM177.7 111.7h1.8v1.8h-1.8zM179.8 117.1h1.8v1.8h-1.8zM153.2 116.6h1.8v1.8h-1.8zM128.2 116.0h1.8v1.8h-1.8zM144.3 113.8h1.8v1.8h-1.8zM152.3 115.9h1.8v1.8h-1.8zM169.2 111.2h1.8v1.8h-1.8zM152.5 114.6h1.8v1.8h-1.8zM172.9 112.0h1.8v1.8h-1.8zM202.3 116.4h1.8v1.8h-1.8zM152.8 112.0h1.8v1.8h-1.8zM149.3 116.8h1.8v1.8h-1.8zM179.6 115.0h1.8v1.8h-1.8zM148.2 116.6h1.8v1.8h-1.8zM167.9 115.6h1.8v1.8h-1.8zM175.4 113.6h1.8v1.8h-1.8zM149.3 110.2h1.8v1.8h-1.8zM140.8 112.7h1.8v1.8h-1.8zM148.3 114.5h1.8v1.8h-1.8zM169.4 113.3h1.8v1.8h-1.8zM116.4 110.2h1.8v1.8h-1.8zM151.4 115.3h1.8v1.8h-1.8zM154.0 113.1h1.8v1.8h-1.8zM175.2 110.6h1.8v1.8h-1.8zM170.8 112.4h1.8v1.8h-1.8zM147.2 114.3h1.8v1.8h-1.8zM140.8 115.7h1.8v1.8h-1.8zM173.1 113.9h1.8v1.8h-1.8zM143.8 110.4h1.8v1.8h-1.8zM146.5 113.5h1.8v1.8h-1.8zM167.1 115.4h1.8v1.8h-1.8zM169.9 112.5h1.8v1.8h-1.8zM137.1 111.1h1.8v1.8h-1.8zM146.0 112.6h1.8v1.8h-1.8zM180.3 110.1h1.8v1.8h-1.8zM168.3 117.2h1.8v1.8h-1.8zM154.0 112.5h1.8v1.8h-1.8zM150.1 114.4h1.8v1.8h-1.8zM169.7 112.6h1.8v1.8h-1.8zM173.7 116.9h1.8v1.8h-1.8zM152.7 112.9h1.8v1.8h-1.8zM169.7 113.3h1.8v1.8h-1.8zM153.0 114.4h1.8v1.8h-1.8zM144.5 111.0h1.8v1.8h-1.8zM150.7 116.9h1.8v1.8h-1.8zM183.9 113.4h1.8v1.8h-1.8zM173.3 117.2h1.8v1.8h-1.8zM190.7 110.8h1.8v1.8h-1.8zM152.0 110.5h1.8v1.8h-1.8zM170.8 115.7h1.8v1.8h-1.8zM153.2 112.7h1.8v1.8h-1.8zM150.2 116.5h1.8v1.8h-1.8zM146.2 112.3h1.8v1.8h-1.8zM167.8 114.1h1.8v1.8h-1.8zM175.4 116.3h1.8v1.8h-1.8zM144.8 110.1h1.8v1.8h-1.8zM150.5 116.3h1.8v1.8h-1.8zM167.4 114.0h1.8v1.8h-1.8zM145.0 110.9h1.8v1.8h-1.8zM172.6 110.6h1.8v1.8h-1.8zM145.7 111.2h1.8v1.8h-1.8zM134.7 116.0h1.8v1.8h-1.8zM153.7 111.2h1.8v1.8h-1.8zM177.4 115.5h1.8v1.8h-1.8zM135.5 110.4h1.8v1.8h-1.8zM205.9 111.5h1.8v1.8h-1.8zM167.5 112.3h1.8v1.8h-1.8zM153.1 116.4h1.8v1.8h-1.8zM151.9 110.9h1.8v1.8h-1.8zM149.4 114.9h1.8v1.8h-1.8z"/><path fill="#000000" d="M168.1 118.9h1.8v1.8h-1.8zM145.1 108.2h1.8v1.8h-1.8zM149.2 108.6h1.8v1.8h-1.8zM170.9 117.9h1.8v1.8h-1.8zM153.0 108.1h1.8v1.8h-1.8zM171.0 117.7h1.8v1.8h-1.8zM151.5 109.3h1.8v1.8h-1.8zM148.3 109.2h1.8v1.8h-1.8zM150.4 109.0h1.8v1.8h-1.8zM153.0 109.5h1.8v1.8h-1.8zM173.3 117.8h1.8v1.8h-1.8zM167.2 119.7h1.8v1.8h-1.8zM168.0 119.7h1.8v1.8h-1.8zM171.6 120.8h1.8v1.8h-1.8zM154.4 109.3h1.8v1.8h-1.8zM169.4 117.6h1.8v1.8h-1.8zM169.4 120.6h1.8v1.8h-1.8zM169.9 122.5h1.8v1.8h-1.8zM170.3 119.8h1.8v1.8h-1.8zM167.8 123.5h1.8v1.8h-1.8zM134.1 96.2h1.8v1.8h-1.8zM130.2 109.2h1.8v1.8h-1.8zM241.2 131.0h1.8v1.8h-1.8zM128.5 104.1h1.8v1.8h-1.8zM173.6 126.2h1.8v1.8h-1.8zM182.3 119.9h1.8v1.8h-1.8zM168.2 119.0h1.8v1.8h-1.8zM168.4 118.7h1.8v1.8h-1.8zM153.7 108.3h1.8v1.8h-1.8zM135.7 95.0h1.8v1.8h-1.8zM148.2 106.0h1.8v1.8h-1.8zM148.7 108.8h1.8v1.8h-1.8zM177.0 119.7h1.8v1.8h-1.8zM169.3 118.5h1.8v1.8h-1.8zM151.8 106.3h1.8v1.8h-1.8zM154.3 107.6h1.8v1.8h-1.8zM152.6 109.2h1.8v1.8h-1.8zM153.6 109.5h1.8v1.8h-1.8zM134.2 102.8h1.8v1.8h-1.8zM169.8 146.3h1.8v1.8h-1.8zM183.8 123.4h1.8v1.8h-1.8zM153.8 109.4h1.8v1.8h-1.8zM151.2 106.9h1.8v1.8h-1.8zM144.6 96.7h1.8v1.8h-1.8zM168.3 126.9h1.8v1.8h-1.8zM146.8 107.2h1.8v1.8h-1.8zM168.7 118.9h1.8v1.8h-1.8zM178.3 122.5h1.8v1.8h-1.8zM149.8 107.3h1.8v1.8h-1.8zM145.4 86.4h1.8v1.8h-1.8zM153.9 90.1h1.8v1.8h-1.8zM144.9 109.4h1.8v1.8h-1.8zM168.2 126.3h1.8v1.8h-1.8zM167.4 123.5h1.8v1.8h-1.8zM167.1 120.7h1.8v1.8h-1.8zM171.4 125.2h1.8v1.8h-1.8zM167.8 119.1h1.8v1.8h-1.8zM204.2 134.8h1.8v1.8h-1.8zM154.1 100.9h1.8v1.8h-1.8zM145.9 105.8h1.8v1.8h-1.8zM111.4 99.7h1.8v1.8h-1.8zM136.4 91.4h1.8v1.8h-1.8zM143.5 89.0h1.8v1.8h-1.8zM174.1 121.2h1.8v1.8h-1.8zM153.3 107.1h1.8v1.8h-1.8zM172.9 120.0h1.8v1.8h-1.8zM124.9 104.5h1.8v1.8h-1.8zM145.1 103.4h1.8v1.8h-1.8zM137.2 102.5h1.8v1.8h-1.8zM153.4 109.2h1.8v1.8h-1.8zM172.6 119.5h1.8v1.8h-1.8zM168.2 119.5h1.8v1.8h-1.8zM134.3 109.5h1.8v1.8h-1.8zM169.9 118.1h1.8v1.8h-1.8zM183.9 124.9h1.8v1.8h-1.8zM172.8 136.8h1.8v1.8h-1.8zM177.8 144.2h1.8v1.8h-1.8zM128.6 109.9h1.8v1.8h-1.8zM178.3 137.7h1.8v1.8h-1.8zM173.5 125.6h1.8v1.8h-1.8zM146.5 97.1h1.8v1.8h-1.8zM145.5 100.0h1.8v1.8h-1.8zM151.4 102.9h1.8v1.8h-1.8zM139.5 108.0h1.8v1.8h-1.8zM183.5 131.7h1.8v1.8h-1.8zM175.2 126.2h1.8v1.8h-1.8zM185.7 119.4h1.8v1.8h-1.8zM153.5 108.1h1.8v1.8h-1.8zM187.4 128.6h1.8v1.8h-1.8zM176.7 124.1h1.8v1.8h-1.8zM199.7 136.6h1.8v1.8h-1.8zM142.0 90.0h1.8v1.8h-1.8zM145.5 105.7h1.8v1.8h-1.8zM199.3 152.2h1.8v1.8h-1.8zM152.2 108.3h1.8v1.8h-1.8zM149.9 105.4h1.8v1.8h-1.8zM139.5 56.4h1.8v1.8h-1.8zM143.8 101.9h1.8v1.8h-1.8zM146.7 103.8h1.8v1.8h-1.8zM192.3 135.4h1.8v1.8h-1.8zM167.1 117.5h1.8v1.8h-1.8zM193.6 119.8h1.8v1.8h-1.8zM178.8 130.1h1.8v1.8h-1.8zM149.1 107.5h1.8v1.8h-1.8zM145.7 106.5h1.8v1.8h-1.8zM180.8 134.6h1.8v1.8h-1.8zM168.7 118.2h1.8v1.8h-1.8zM151.3 97.7h1.8v1.8h-1.8zM175.6 127.6h1.8v1.8h-1.8zM154.7 108.2h1.8v1.8h-1.8zM146.8 105.9h1.8v1.8h-1.8zM168.6 133.2h1.8v1.8h-1.8zM167.4 117.9h1.8v1.8h-1.8zM152.2 106.2h1.8v1.8h-1.8zM142.3 96.8h1.8v1.8h-1.8zM190.8 122.8h1.8v1.8h-1.8zM153.2 109.7h1.8v1.8h-1.8zM172.6 119.2h1.8v1.8h-1.8zM167.4 138.5h1.8v1.8h-1.8zM169.4 122.9h1.8v1.8h-1.8zM142.6 102.3h1.8v1.8h-1.8zM150.2 107.1h1.8v1.8h-1.8zM145.1 96.3h1.8v1.8h-1.8zM172.7 121.4h1.8v1.8h-1.8zM182.3 120.6h1.8v1.8h-1.8zM168.8 119.3h1.8v1.8h-1.8zM172.9 120.0h1.8v1.8h-1.8zM168.2 121.8h1.8v1.8h-1.8zM150.2 100.7h1.8v1.8h-1.8zM151.9 87.8h1.8v1.8h-1.8zM149.9 108.2h1.8v1.8h-1.8zM182.9 122.8h1.8v1.8h-1.8zM146.6 106.3h1.8v1.8h-1.8zM168.0 125.0h1.8v1.8h-1.8zM150.6 106.5h1.8v1.8h-1.8zM149.9 85.6h1.8v1.8h-1.8zM170.5 122.4h1.8v1.8h-1.8zM147.7 103.9h1.8v1.8h-1.8zM151.0 101.5h1.8v1.8h-1.8zM185.6 131.4h1.8v1.8h-1.8zM167.8 123.6h1.8v1.8h-1.8zM189.7 129.1h1.8v1.8h-1.8z"/>
<line x1="72.6" y1="25.3" x2="276.4" y2="25.3" stroke="#bdbdbd" stroke-width="1.0"/>
<line x1="276.4" y1="25.3" x2="276.4" y2="170.1" stroke="#b0b0b0" stroke-width="1.0"/>
<line x1="72.6" y1="25.3" x2="72.6" y2="170.1" stroke="#666666" stroke-width="1.1"/>
<line x1="72.6" y1="170.1" x2="276.4" y2="170.1" stroke="#595959" stroke-width="1.1"/>
<text x="71.0" y="53.7" font-size="14.8" text-anchor="end">10</text>
<line x1="70.5" y1="48.3" x2="72.5" y2="48.3" stroke="#9a9a9a" stroke-width="0.8"/>
<text x="71.0" y="86.8" font-size="14.8" text-anchor="end">5</text>
<line x1="70.5" y1="81.4" x2="72.5" y2="81.4" stroke="#9a9a9a" stroke-width="0.8"/>
<text x="71.0" y="120.0" font-size="14.8" text-anchor="end">0</text>
<line x1="70.5" y1="114.6" x2="72.5" y2="114.6" stroke="#9a9a9a" stroke-width="0.8"/>
<text x="71.0" y="153.2" font-size="14.8" text-anchor="end">-5</text>
<line x1="70.5" y1="147.8" x2="72.5" y2="147.8" stroke="#9a9a9a" stroke-width="0.8"/>
<text x="108.5" y="183.5" font-size="14.8" text-anchor="middle">-5</text>
<line x1="108.5" y1="170.1" x2="108.5" y2="172.1" stroke="#9a9a9a" stroke-width="0.8"/>
<text x="161.6" y="183.5" font-size="14.8" text-anchor="middle">0</text>
<line x1="161.6" y1="170.1" x2="161.6" y2="172.1" stroke="#9a9a9a" stroke-width="0.8"/>
<text x="214.7" y="183.5" font-size="14.8" text-anchor="middle">5</text>
<line x1="214.7" y1="170.1" x2="214.7" y2="172.1" stroke="#9a9a9a" stroke-width="0.8"/>
<text x="267.8" y="183.5" font-size="14.8" text-anchor="middle">10</text>
<line x1="267.8" y1="170.1" x2="267.8" y2="172.1" stroke="#9a9a9a" stroke-width="0.8"/>
<text x="120.3" y="196.9" font-size="13.8" textLength="81.2" lengthAdjust="spacingAndGlyphs">Log2 AR/Veh</text>
<text x="48.3" y="152.8" font-size="14.2" textLength="102.5" lengthAdjust="spacingAndGlyphs" transform="rotate(-90 48.3 152.8)">Log2 AR-V7/Veh</text>
<text x="22.6" y="19.2" font-size="21" font-weight="bold" textLength="26.0" lengthAdjust="spacingAndGlyphs">(a)</text>
<text x="83.0" y="11.4" font-size="16" textLength="97.3" lengthAdjust="spacingAndGlyphs">LNCaP AR-V7</text>
<circle cx="304.2" cy="51.6" r="3.9" fill="#1a1ae0"/>
<circle cx="304.2" cy="81.1" r="3.9" fill="#00ee66"/>
<circle cx="304.2" cy="111.8" r="3.9" fill="#ff0000"/>
<circle cx="304.2" cy="138.3" r="3.9" fill="#000000"/>
<text x="320.8" y="54.3" font-size="14" textLength="17.1" lengthAdjust="spacingAndGlyphs">AR</text>
<text x="320.8" y="84.8" font-size="14" textLength="38.1" lengthAdjust="spacingAndGlyphs">AR-V7</text>
<text x="321.6" y="113.9" font-size="14" textLength="29.4" lengthAdjust="spacingAndGlyphs">Both</text>
<text x="320.8" y="143.4" font-size="14" textLength="57.6" lengthAdjust="spacingAndGlyphs">Opposite</text>
<rect x="453.5" y="24.4" width="203.5" height="144.4" fill="#ffffff"/>
<line x1="455.7" y1="24.4" x2="455.7" y2="168.8" stroke="#f0f0f0" stroke-width="0.7"/>
<line x1="480.6" y1="24.4" x2="480.6" y2="168.8" stroke="#f0f0f0" stroke-width="0.7"/>
<line x1="505.4" y1="24.4" x2="505.4" y2="168.8" stroke="#f0f0f0" stroke-width="0.7"/>
<line x1="530.3" y1="24.4" x2="530.3" y2="168.8" stroke="#f0f0f0" stroke-width="0.7"/>
<line x1="555.1" y1="24.4" x2="555.1" y2="168.8" stroke="#f0f0f0" stroke-width="0.7"/>
<line x1="579.9" y1="24.4" x2="579.9" y2="168.8" stroke="#f0f0f0" stroke-width="0.7"/>
<line x1="604.8" y1="24.4" x2="604.8" y2="168.8" stroke="#f0f0f0" stroke-width="0.7"/>
<line x1="629.6" y1="24.4" x2="629.6" y2="168.8" stroke="#f0f0f0" stroke-width="0.7"/>
<line x1="654.5" y1="24.4" x2="654.5" y2="168.8" stroke="#f0f0f0" stroke-width="0.7"/>
<line x1="453.5" y1="30.9" x2="657.0" y2="30.9" stroke="#f0f0f0" stroke-width="0.7"/>
<line x1="453.5" y1="44.2" x2="657.0" y2="44.2" stroke="#f0f0f0" stroke-width="0.7"/>
<line x1="453.5" y1="57.4" x2="657.0" y2="57.4" stroke="#f0f0f0" stroke-width="0.7"/>
<line x1="453.5" y1="70.7" x2="657.0" y2="70.7" stroke="#f0f0f0" stroke-width="0.7"/>
<line x1="453.5" y1="83.9" x2="657.0" y2="83.9" stroke="#f0f0f0" stroke-width="0.7"/>
<line x1="453.5" y1="97.2" x2="657.0" y2="97.2" stroke="#f0f0f0" stroke-width="0.7"/>
<line x1="453.5" y1="110.4" x2="657.0" y2="110.4" stroke="#f0f0f0" stroke-width="0.7"/>
<line x1="453.5" y1="123.7" x2="657.0" y2="123.7" stroke="#f0f0f0" stroke-width="0.7"/>
<line x1="453.5" y1="136.9" x2="657.0" y2="136.9" stroke="#f0f0f0" stroke-width="0.7"/>
<line x1="453.5" y1="150.2" x2="657.0" y2="150.2" stroke="#f0f0f0" stroke-width="0.7"/>
<line x1="453.5" y1="163.4" x2="657.0" y2="163.4" stroke="#f0f0f0" stroke-width="0.7"/>
<path fill="#ff0000" d="M569.4 98.9h1.8v1.8h-1.8zM531.9 121.8h1.8v1.8h-1.8zM519.7 128.8h1.8v1.8h-1.8zM538.1 120.4h1.8v1.8h-1.8zM568.2 102.1h1.8v1.8h-1.8zM540.3 122.8h1.8v1.8h-1.8zM572.8 94.7h1.8v1.8h-1.8zM509.6 125.0h1.8v1.8h-1.8zM602.1 87.3h1.8v1.8h-1.8zM582.1 86.0h1.8v1.8h-1.8zM536.8 122.0h1.8v1.8h-1.8zM518.4 117.3h1.8v1.8h-1.8zM525.3 123.6h1.8v1.8h-1.8zM572.1 99.5h1.8v1.8h-1.8zM535.2 118.2h1.8v1.8h-1.8zM530.1 120.8h1.8v1.8h-1.8zM540.5 120.0h1.8v1.8h-1.8zM570.1 102.8h1.8v1.8h-1.8zM567.7 95.3h1.8v1.8h-1.8zM508.5 132.5h1.8v1.8h-1.8zM574.0 91.1h1.8v1.8h-1.8zM530.0 120.5h1.8v1.8h-1.8zM567.7 102.2h1.8v1.8h-1.8zM574.4 102.4h1.8v1.8h-1.8zM570.8 102.1h1.8v1.8h-1.8zM576.9 95.7h1.8v1.8h-1.8zM533.4 125.7h1.8v1.8h-1.8zM562.5 102.7h1.8v1.8h-1.8zM539.7 116.5h1.8v1.8h-1.8zM545.3 131.1h1.8v1.8h-1.8zM577.9 100.8h1.8v1.8h-1.8zM575.3 99.4h1.8v1.8h-1.8zM534.1 116.4h1.8v1.8h-1.8zM536.1 121.5h1.8v1.8h-1.8zM520.0 120.5h1.8v1.8h-1.8zM497.5 117.2h1.8v1.8h-1.8zM532.2 117.6h1.8v1.8h-1.8zM546.2 120.2h1.8v1.8h-1.8zM579.8 100.0h1.8v1.8h-1.8zM567.5 101.1h1.8v1.8h-1.8zM572.9 85.4h1.8v1.8h-1.8zM523.6 118.6h1.8v1.8h-1.8zM562.9 98.3h1.8v1.8h-1.8zM511.3 123.7h1.8v1.8h-1.8zM584.2 89.9h1.8v1.8h-1.8zM521.0 120.8h1.8v1.8h-1.8zM561.6 101.0h1.8v1.8h-1.8zM579.2 89.1h1.8v1.8h-1.8zM565.8 99.3h1.8v1.8h-1.8zM561.2 102.8h1.8v1.8h-1.8zM546.7 117.1h1.8v1.8h-1.8zM575.6 93.7h1.8v1.8h-1.8zM544.1 120.9h1.8v1.8h-1.8zM564.7 102.5h1.8v1.8h-1.8zM570.0 100.9h1.8v1.8h-1.8zM564.0 90.5h1.8v1.8h-1.8zM533.5 123.4h1.8v1.8h-1.8zM565.7 96.4h1.8v1.8h-1.8zM568.1 92.2h1.8v1.8h-1.8zM563.2 95.8h1.8v1.8h-1.8zM577.8 95.1h1.8v1.8h-1.8zM546.7 123.5h1.8v1.8h-1.8zM570.4 90.9h1.8v1.8h-1.8zM539.6 119.5h1.8v1.8h-1.8zM492.7 133.0h1.8v1.8h-1.8zM566.3 96.8h1.8v1.8h-1.8zM562.6 97.7h1.8v1.8h-1.8zM540.4 118.1h1.8v1.8h-1.8zM529.2 117.6h1.8v1.8h-1.8zM544.7 118.7h1.8v1.8h-1.8zM505.5 126.5h1.8v1.8h-1.8zM520.3 116.4h1.8v1.8h-1.8zM521.4 118.6h1.8v1.8h-1.8zM565.5 93.7h1.8v1.8h-1.8zM561.2 94.9h1.8v1.8h-1.8zM527.0 127.9h1.8v1.8h-1.8zM569.9 99.2h1.8v1.8h-1.8zM534.6 118.2h1.8v1.8h-1.8zM561.4 98.5h1.8v1.8h-1.8zM583.6 79.4h1.8v1.8h-1.8zM566.6 99.8h1.8v1.8h-1.8zM568.8 93.8h1.8v1.8h-1.8zM536.6 117.0h1.8v1.8h-1.8zM503.2 132.7h1.8v1.8h-1.8zM573.4 98.2h1.8v1.8h-1.8zM566.1 98.6h1.8v1.8h-1.8zM578.2 98.9h1.8v1.8h-1.8zM561.4 101.1h1.8v1.8h-1.8zM539.6 119.5h1.8v1.8h-1.8zM536.2 123.7h1.8v1.8h-1.8zM534.6 119.1h1.8v1.8h-1.8zM532.4 120.1h1.8v1.8h-1.8zM569.8 97.1h1.8v1.8h-1.8zM546.4 116.9h1.8v1.8h-1.8zM566.8 95.2h1.8v1.8h-1.8zM517.6 116.3h1.8v1.8h-1.8zM536.5 117.3h1.8v1.8h-1.8zM543.1 120.4h1.8v1.8h-1.8zM572.8 95.7h1.8v1.8h-1.8zM544.8 117.7h1.8v1.8h-1.8zM563.1 101.5h1.8v1.8h-1.8zM569.2 95.2h1.8v1.8h-1.8zM503.4 132.1h1.8v1.8h-1.8zM581.8 101.0h1.8v1.8h-1.8zM543.2 120.1h1.8v1.8h-1.8zM534.9 117.3h1.8v1.8h-1.8zM547.3 121.8h1.8v1.8h-1.8zM561.0 94.8h1.8v1.8h-1.8zM501.8 126.7h1.8v1.8h-1.8zM519.9 123.5h1.8v1.8h-1.8zM575.1 90.1h1.8v1.8h-1.8zM576.5 100.3h1.8v1.8h-1.8zM564.5 87.8h1.8v1.8h-1.8zM562.9 93.1h1.8v1.8h-1.8zM564.0 98.1h1.8v1.8h-1.8zM573.8 97.6h1.8v1.8h-1.8zM529.4 118.9h1.8v1.8h-1.8zM567.5 90.3h1.8v1.8h-1.8zM569.6 96.6h1.8v1.8h-1.8zM568.1 99.9h1.8v1.8h-1.8zM561.3 96.8h1.8v1.8h-1.8zM525.3 117.1h1.8v1.8h-1.8zM561.8 102.5h1.8v1.8h-1.8zM570.4 100.4h1.8v1.8h-1.8zM522.3 121.0h1.8v1.8h-1.8zM564.0 90.6h1.8v1.8h-1.8zM541.0 123.6h1.8v1.8h-1.8zM566.9 97.5h1.8v1.8h-1.8zM567.6 102.0h1.8v1.8h-1.8zM546.7 117.6h1.8v1.8h-1.8zM562.3 98.4h1.8v1.8h-1.8zM564.4 93.0h1.8v1.8h-1.8zM510.3 124.8h1.8v1.8h-1.8zM561.3 94.1h1.8v1.8h-1.8zM542.9 116.2h1.8v1.8h-1.8zM587.7 98.9h1.8v1.8h-1.8zM562.5 97.5h1.8v1.8h-1.8zM577.0 90.5h1.8v1.8h-1.8zM571.2 99.5h1.8v1.8h-1.8zM564.9 97.7h1.8v1.8h-1.8zM535.5 119.8h1.8v1.8h-1.8zM527.1 117.8h1.8v1.8h-1.8zM562.5 100.7h1.8v1.8h-1.8zM529.0 129.0h1.8v1.8h-1.8zM535.7 123.3h1.8v1.8h-1.8zM543.8 124.2h1.8v1.8h-1.8zM576.5 100.3h1.8v1.8h-1.8zM569.1 100.1h1.8v1.8h-1.8zM523.8 118.2h1.8v1.8h-1.8zM564.0 98.8h1.8v1.8h-1.8zM575.6 96.2h1.8v1.8h-1.8zM529.1 120.3h1.8v1.8h-1.8zM533.6 118.2h1.8v1.8h-1.8zM516.9 121.5h1.8v1.8h-1.8zM531.1 117.2h1.8v1.8h-1.8zM587.8 96.0h1.8v1.8h-1.8zM530.5 119.3h1.8v1.8h-1.8zM566.9 98.4h1.8v1.8h-1.8zM538.9 121.0h1.8v1.8h-1.8zM573.3 82.3h1.8v1.8h-1.8zM540.2 120.0h1.8v1.8h-1.8zM582.7 91.2h1.8v1.8h-1.8zM586.9 89.8h1.8v1.8h-1.8zM566.5 94.9h1.8v1.8h-1.8zM561.9 93.2h1.8v1.8h-1.8zM564.3 101.6h1.8v1.8h-1.8zM585.1 86.5h1.8v1.8h-1.8zM576.8 94.2h1.8v1.8h-1.8zM575.2 100.8h1.8v1.8h-1.8zM564.9 100.1h1.8v1.8h-1.8zM569.2 96.2h1.8v1.8h-1.8zM543.4 119.6h1.8v1.8h-1.8zM532.6 126.7h1.8v1.8h-1.8zM566.8 97.8h1.8v1.8h-1.8zM565.7 97.7h1.8v1.8h-1.8zM580.8 93.2h1.8v1.8h-1.8zM566.2 97.6h1.8v1.8h-1.8zM526.9 118.4h1.8v1.8h-1.8zM578.4 96.0h1.8v1.8h-1.8zM582.7 90.7h1.8v1.8h-1.8zM574.6 90.1h1.8v1.8h-1.8zM492.2 122.9h1.8v1.8h-1.8zM566.5 98.4h1.8v1.8h-1.8zM541.5 116.5h1.8v1.8h-1.8zM524.7 116.7h1.8v1.8h-1.8zM566.9 101.7h1.8v1.8h-1.8zM561.4 96.9h1.8v1.8h-1.8zM514.8 117.5h1.8v1.8h-1.8zM534.8 116.3h1.8v1.8h-1.8zM564.8 96.9h1.8v1.8h-1.8zM521.0 116.5h1.8v1.8h-1.8zM514.5 120.2h1.8v1.8h-1.8zM566.2 100.3h1.8v1.8h-1.8zM517.0 135.9h1.8v1.8h-1.8zM564.3 93.2h1.8v1.8h-1.8zM571.1 102.6h1.8v1.8h-1.8zM567.3 98.8h1.8v1.8h-1.8zM492.9 121.9h1.8v1.8h-1.8zM526.3 118.9h1.8v1.8h-1.8zM521.8 130.0h1.8v1.8h-1.8zM580.1 84.3h1.8v1.8h-1.8zM581.2 87.5h1.8v1.8h-1.8zM564.7 87.5h1.8v1.8h-1.8zM530.5 124.5h1.8v1.8h-1.8zM561.2 98.6h1.8v1.8h-1.8zM530.7 130.2h1.8v1.8h-1.8zM572.6 101.6h1.8v1.8h-1.8zM564.5 97.4h1.8v1.8h-1.8zM525.7 117.2h1.8v1.8h-1.8zM564.9 96.3h1.8v1.8h-1.8zM545.9 119.3h1.8v1.8h-1.8zM523.2 119.4h1.8v1.8h-1.8zM544.4 125.7h1.8v1.8h-1.8zM565.5 99.0h1.8v1.8h-1.8zM533.3 122.5h1.8v1.8h-1.8zM572.6 98.6h1.8v1.8h-1.8zM567.3 100.6h1.8v1.8h-1.8zM523.5 118.8h1.8v1.8h-1.8zM564.1 95.3h1.8v1.8h-1.8zM540.6 117.7h1.8v1.8h-1.8zM575.4 95.9h1.8v1.8h-1.8zM515.8 121.4h1.8v1.8h-1.8zM562.5 97.0h1.8v1.8h-1.8zM571.4 89.7h1.8v1.8h-1.8zM530.0 132.7h1.8v1.8h-1.8zM568.3 102.1h1.8v1.8h-1.8zM534.1 127.0h1.8v1.8h-1.8zM572.6 101.2h1.8v1.8h-1.8zM517.6 119.2h1.8v1.8h-1.8zM538.0 116.8h1.8v1.8h-1.8zM562.1 100.0h1.8v1.8h-1.8zM528.7 122.4h1.8v1.8h-1.8zM537.6 117.9h1.8v1.8h-1.8zM573.0 99.6h1.8v1.8h-1.8zM567.6 93.1h1.8v1.8h-1.8zM528.1 119.7h1.8v1.8h-1.8zM572.8 92.9h1.8v1.8h-1.8zM530.4 121.1h1.8v1.8h-1.8zM530.9 120.4h1.8v1.8h-1.8zM568.0 101.9h1.8v1.8h-1.8zM511.3 121.0h1.8v1.8h-1.8zM575.3 94.2h1.8v1.8h-1.8zM574.5 92.4h1.8v1.8h-1.8zM575.3 100.8h1.8v1.8h-1.8zM561.1 96.9h1.8v1.8h-1.8zM539.7 117.8h1.8v1.8h-1.8zM570.3 87.5h1.8v1.8h-1.8zM572.5 96.3h1.8v1.8h-1.8zM483.9 121.4h1.8v1.8h-1.8zM539.6 118.5h1.8v1.8h-1.8zM561.2 101.2h1.8v1.8h-1.8zM539.4 116.3h1.8v1.8h-1.8zM563.9 100.8h1.8v1.8h-1.8zM566.4 97.6h1.8v1.8h-1.8zM574.6 82.6h1.8v1.8h-1.8zM583.4 94.7h1.8v1.8h-1.8zM572.1 96.7h1.8v1.8h-1.8zM525.2 118.9h1.8v1.8h-1.8zM541.6 121.0h1.8v1.8h-1.8zM536.8 116.5h1.8v1.8h-1.8zM567.0 100.0h1.8v1.8h-1.8zM520.1 121.5h1.8v1.8h-1.8zM561.3 99.6h1.8v1.8h-1.8zM529.3 125.2h1.8v1.8h-1.8zM565.3 85.5h1.8v1.8h-1.8zM535.9 118.0h1.8v1.8h-1.8zM567.8 88.0h1.8v1.8h-1.8zM568.5 95.2h1.8v1.8h-1.8zM518.1 124.6h1.8v1.8h-1.8zM575.5 98.0h1.8v1.8h-1.8zM570.7 91.6h1.8v1.8h-1.8zM544.4 121.0h1.8v1.8h-1.8zM525.0 125.1h1.8v1.8h-1.8zM529.8 124.1h1.8v1.8h-1.8zM515.4 131.5h1.8v1.8h-1.8zM508.9 125.7h1.8v1.8h-1.8zM572.8 102.2h1.8v1.8h-1.8zM561.9 96.9h1.8v1.8h-1.8zM561.9 97.9h1.8v1.8h-1.8zM498.9 122.4h1.8v1.8h-1.8zM528.3 116.3h1.8v1.8h-1.8zM516.2 118.9h1.8v1.8h-1.8zM569.7 92.0h1.8v1.8h-1.8zM570.4 98.0h1.8v1.8h-1.8zM539.1 120.9h1.8v1.8h-1.8zM567.7 93.9h1.8v1.8h-1.8zM562.5 101.4h1.8v1.8h-1.8zM523.2 127.6h1.8v1.8h-1.8zM522.1 126.7h1.8v1.8h-1.8zM566.4 98.1h1.8v1.8h-1.8zM530.5 116.7h1.8v1.8h-1.8zM574.0 101.9h1.8v1.8h-1.8zM573.9 91.2h1.8v1.8h-1.8zM565.6 99.7h1.8v1.8h-1.8zM538.3 119.7h1.8v1.8h-1.8zM540.6 119.6h1.8v1.8h-1.8zM530.8 116.5h1.8v1.8h-1.8zM539.1 128.8h1.8v1.8h-1.8zM512.9 119.3h1.8v1.8h-1.8zM578.5 82.8h1.8v1.8h-1.8zM577.4 92.9h1.8v1.8h-1.8zM521.7 127.8h1.8v1.8h-1.8zM574.9 93.7h1.8v1.8h-1.8zM566.7 96.4h1.8v1.8h-1.8zM522.4 119.0h1.8v1.8h-1.8zM526.6 124.8h1.8v1.8h-1.8zM521.3 117.6h1.8v1.8h-1.8zM577.3 102.5h1.8v1.8h-1.8zM505.1 121.3h1.8v1.8h-1.8zM565.7 94.2h1.8v1.8h-1.8zM574.8 84.5h1.8v1.8h-1.8zM539.7 122.6h1.8v1.8h-1.8zM562.6 98.3h1.8v1.8h-1.8zM547.0 126.8h1.8v1.8h-1.8zM517.7 126.9h1.8v1.8h-1.8zM522.8 128.9h1.8v1.8h-1.8zM499.1 118.2h1.8v1.8h-1.8zM523.1 117.4h1.8v1.8h-1.8zM572.6 96.2h1.8v1.8h-1.8zM540.5 122.5h1.8v1.8h-1.8zM537.4 118.3h1.8v1.8h-1.8zM538.1 122.7h1.8v1.8h-1.8zM545.6 119.7h1.8v1.8h-1.8zM576.6 92.3h1.8v1.8h-1.8zM575.2 102.3h1.8v1.8h-1.8zM528.4 119.3h1.8v1.8h-1.8zM511.9 118.5h1.8v1.8h-1.8zM513.3 117.1h1.8v1.8h-1.8zM514.6 123.5h1.8v1.8h-1.8zM543.0 119.4h1.8v1.8h-1.8zM540.1 119.7h1.8v1.8h-1.8zM519.3 116.6h1.8v1.8h-1.8zM568.1 101.4h1.8v1.8h-1.8zM511.8 117.7h1.8v1.8h-1.8zM522.8 124.9h1.8v1.8h-1.8zM543.4 125.3h1.8v1.8h-1.8zM562.5 100.9h1.8v1.8h-1.8zM545.6 116.3h1.8v1.8h-1.8zM528.6 119.8h1.8v1.8h-1.8zM571.7 96.4h1.8v1.8h-1.8zM567.9 94.0h1.8v1.8h-1.8zM586.9 93.2h1.8v1.8h-1.8zM573.9 91.6h1.8v1.8h-1.8zM533.1 119.2h1.8v1.8h-1.8zM565.9 99.7h1.8v1.8h-1.8zM528.1 123.8h1.8v1.8h-1.8zM539.6 118.1h1.8v1.8h-1.8zM561.3 99.4h1.8v1.8h-1.8zM586.9 90.7h1.8v1.8h-1.8zM563.7 99.2h1.8v1.8h-1.8zM562.2 94.8h1.8v1.8h-1.8zM565.3 95.5h1.8v1.8h-1.8zM574.2 102.4h1.8v1.8h-1.8zM527.4 120.9h1.8v1.8h-1.8zM543.0 116.2h1.8v1.8h-1.8zM569.7 93.5h1.8v1.8h-1.8zM571.8 93.1h1.8v1.8h-1.8zM537.0 124.2h1.8v1.8h-1.8zM528.0 125.7h1.8v1.8h-1.8zM566.5 95.7h1.8v1.8h-1.8zM561.6 100.2h1.8v1.8h-1.8zM570.2 84.4h1.8v1.8h-1.8zM585.8 90.1h1.8v1.8h-1.8zM568.6 102.0h1.8v1.8h-1.8zM525.9 127.5h1.8v1.8h-1.8zM562.9 102.2h1.8v1.8h-1.8zM575.3 99.2h1.8v1.8h-1.8zM565.6 101.8h1.8v1.8h-1.8zM545.7 121.6h1.8v1.8h-1.8zM519.4 119.0h1.8v1.8h-1.8zM546.6 119.0h1.8v1.8h-1.8zM536.6 117.7h1.8v1.8h-1.8zM502.1 134.8h1.8v1.8h-1.8zM564.8 102.2h1.8v1.8h-1.8zM523.3 122.3h1.8v1.8h-1.8zM519.0 116.3h1.8v1.8h-1.8zM573.1 98.0h1.8v1.8h-1.8zM538.0 119.7h1.8v1.8h-1.8zM564.2 95.7h1.8v1.8h-1.8zM540.1 117.1h1.8v1.8h-1.8zM535.3 121.8h1.8v1.8h-1.8zM540.0 119.5h1.8v1.8h-1.8zM530.4 120.1h1.8v1.8h-1.8zM510.2 122.9h1.8v1.8h-1.8zM590.4 83.3h1.8v1.8h-1.8zM535.1 116.3h1.8v1.8h-1.8zM533.1 118.9h1.8v1.8h-1.8zM590.8 97.4h1.8v1.8h-1.8zM581.5 97.5h1.8v1.8h-1.8zM569.6 99.3h1.8v1.8h-1.8zM521.8 124.5h1.8v1.8h-1.8zM521.5 121.2h1.8v1.8h-1.8zM568.0 98.9h1.8v1.8h-1.8zM583.8 100.6h1.8v1.8h-1.8zM539.6 122.1h1.8v1.8h-1.8zM534.1 121.7h1.8v1.8h-1.8zM513.7 118.4h1.8v1.8h-1.8zM534.2 116.8h1.8v1.8h-1.8zM574.6 101.5h1.8v1.8h-1.8zM564.9 100.2h1.8v1.8h-1.8zM547.4 116.3h1.8v1.8h-1.8zM570.1 97.4h1.8v1.8h-1.8zM565.3 96.6h1.8v1.8h-1.8zM564.2 100.4h1.8v1.8h-1.8zM542.4 117.5h1.8v1.8h-1.8zM566.9 101.1h1.8v1.8h-1.8zM520.2 119.2h1.8v1.8h-1.8zM503.0 129.7h1.8v1.8h-1.8zM577.2 93.0h1.8v1.8h-1.8zM532.2 116.8h1.8v1.8h-1.8zM569.6 101.8h1.8v1.8h-1.8zM576.2 96.8h1.8v1.8h-1.8zM562.6 94.7h1.8v1.8h-1.8zM547.3 120.0h1.8v1.8h-1.8zM543.9 127.9h1.8v1.8h-1.8zM566.5 99.2h1.8v1.8h-1.8zM499.9 132.7h1.8v1.8h-1.8zM547.0 121.8h1.8v1.8h-1.8zM571.1 97.9h1.8v1.8h-1.8zM522.7 128.5h1.8v1.8h-1.8zM568.6 99.8h1.8v1.8h-1.8zM531.7 117.1h1.8v1.8h-1.8zM566.1 79.8h1.8v1.8h-1.8zM541.0 125.0h1.8v1.8h-1.8zM567.7 100.3h1.8v1.8h-1.8zM563.1 102.3h1.8v1.8h-1.8zM531.3 116.4h1.8v1.8h-1.8zM561.4 94.6h1.8v1.8h-1.8zM580.6 100.3h1.8v1.8h-1.8zM569.8 88.5h1.8v1.8h-1.8zM571.0 97.3h1.8v1.8h-1.8zM530.2 121.8h1.8v1.8h-1.8zM565.2 102.1h1.8v1.8h-1.8zM518.3 119.2h1.8v1.8h-1.8zM563.9 102.4h1.8v1.8h-1.8zM538.2 119.2h1.8v1.8h-1.8zM576.0 84.4h1.8v1.8h-1.8zM526.2 118.1h1.8v1.8h-1.8zM498.2 122.2h1.8v1.8h-1.8zM576.8 100.6h1.8v1.8h-1.8zM561.4 102.6h1.8v1.8h-1.8zM536.6 125.5h1.8v1.8h-1.8zM564.7 99.1h1.8v1.8h-1.8zM525.3 122.3h1.8v1.8h-1.8zM570.6 79.6h1.8v1.8h-1.8zM531.8 118.8h1.8v1.8h-1.8zM512.7 127.3h1.8v1.8h-1.8zM570.9 95.8h1.8v1.8h-1.8zM536.4 122.0h1.8v1.8h-1.8zM511.0 127.3h1.8v1.8h-1.8zM562.2 96.3h1.8v1.8h-1.8zM577.8 84.6h1.8v1.8h-1.8zM566.2 94.9h1.8v1.8h-1.8zM572.3 101.6h1.8v1.8h-1.8zM562.9 98.3h1.8v1.8h-1.8zM531.1 118.5h1.8v1.8h-1.8zM569.3 100.2h1.8v1.8h-1.8zM569.1 90.5h1.8v1.8h-1.8zM513.4 116.8h1.8v1.8h-1.8zM538.6 118.6h1.8v1.8h-1.8zM566.8 94.8h1.8v1.8h-1.8zM533.0 118.0h1.8v1.8h-1.8zM534.6 128.7h1.8v1.8h-1.8zM526.2 127.6h1.8v1.8h-1.8zM563.0 96.2h1.8v1.8h-1.8zM545.6 121.2h1.8v1.8h-1.8zM562.3 94.9h1.8v1.8h-1.8zM544.4 117.9h1.8v1.8h-1.8zM544.6 119.1h1.8v1.8h-1.8zM564.9 90.0h1.8v1.8h-1.8zM571.9 99.7h1.8v1.8h-1.8zM530.7 121.4h1.8v1.8h-1.8zM565.0 96.6h1.8v1.8h-1.8zM571.7 84.7h1.8v1.8h-1.8zM524.0 119.2h1.8v1.8h-1.8zM570.8 101.0h1.8v1.8h-1.8zM580.2 99.1h1.8v1.8h-1.8zM584.4 99.0h1.8v1.8h-1.8zM543.9 120.6h1.8v1.8h-1.8zM561.0 102.6h1.8v1.8h-1.8zM568.5 91.2h1.8v1.8h-1.8zM582.0 92.7h1.8v1.8h-1.8zM588.3 96.5h1.8v1.8h-1.8zM507.7 118.4h1.8v1.8h-1.8zM561.1 102.0h1.8v1.8h-1.8zM527.8 122.2h1.8v1.8h-1.8zM574.4 101.1h1.8v1.8h-1.8zM574.9 86.4h1.8v1.8h-1.8zM533.2 116.6h1.8v1.8h-1.8zM545.9 118.3h1.8v1.8h-1.8zM561.6 95.3h1.8v1.8h-1.8zM542.4 119.8h1.8v1.8h-1.8zM562.0 94.6h1.8v1.8h-1.8zM543.0 118.1h1.8v1.8h-1.8zM545.2 120.0h1.8v1.8h-1.8zM540.4 121.1h1.8v1.8h-1.8zM540.0 116.4h1.8v1.8h-1.8zM533.1 117.3h1.8v1.8h-1.8zM568.8 98.4h1.8v1.8h-1.8zM562.4 101.3h1.8v1.8h-1.8zM510.0 128.7h1.8v1.8h-1.8zM536.9 123.9h1.8v1.8h-1.8zM561.4 92.0h1.8v1.8h-1.8zM542.2 118.2h1.8v1.8h-1.8zM568.3 86.7h1.8v1.8h-1.8zM541.4 126.6h1.8v1.8h-1.8zM528.3 118.3h1.8v1.8h-1.8zM568.2 99.3h1.8v1.8h-1.8zM533.9 128.7h1.8v1.8h-1.8zM566.6 101.9h1.8v1.8h-1.8zM524.3 121.3h1.8v1.8h-1.8zM524.1 122.3h1.8v1.8h-1.8zM532.1 125.2h1.8v1.8h-1.8zM530.5 121.6h1.8v1.8h-1.8zM535.3 124.1h1.8v1.8h-1.8zM569.3 100.2h1.8v1.8h-1.8zM533.4 119.5h1.8v1.8h-1.8zM563.5 101.9h1.8v1.8h-1.8zM530.7 116.2h1.8v1.8h-1.8zM536.6 119.5h1.8v1.8h-1.8zM544.1 122.1h1.8v1.8h-1.8zM574.4 98.2h1.8v1.8h-1.8zM521.7 118.8h1.8v1.8h-1.8zM538.0 119.6h1.8v1.8h-1.8zM546.8 119.0h1.8v1.8h-1.8zM519.2 118.5h1.8v1.8h-1.8zM535.8 120.0h1.8v1.8h-1.8zM507.9 124.5h1.8v1.8h-1.8zM541.8 123.9h1.8v1.8h-1.8zM575.4 92.7h1.8v1.8h-1.8zM532.3 122.8h1.8v1.8h-1.8zM562.8 90.7h1.8v1.8h-1.8zM576.5 96.4h1.8v1.8h-1.8zM501.4 121.3h1.8v1.8h-1.8zM523.5 119.5h1.8v1.8h-1.8zM541.5 119.9h1.8v1.8h-1.8zM561.7 97.4h1.8v1.8h-1.8zM563.3 102.6h1.8v1.8h-1.8zM547.4 117.6h1.8v1.8h-1.8zM542.3 124.5h1.8v1.8h-1.8zM530.2 123.7h1.8v1.8h-1.8zM565.8 92.8h1.8v1.8h-1.8zM566.3 85.2h1.8v1.8h-1.8zM564.3 102.4h1.8v1.8h-1.8zM569.3 100.5h1.8v1.8h-1.8zM516.4 125.0h1.8v1.8h-1.8zM576.8 101.1h1.8v1.8h-1.8zM569.3 95.4h1.8v1.8h-1.8zM564.7 96.0h1.8v1.8h-1.8zM569.1 97.7h1.8v1.8h-1.8zM564.2 95.5h1.8v1.8h-1.8zM545.7 116.3h1.8v1.8h-1.8zM578.6 92.1h1.8v1.8h-1.8zM562.6 100.0h1.8v1.8h-1.8zM538.0 116.3h1.8v1.8h-1.8zM561.9 96.8h1.8v1.8h-1.8zM525.2 117.0h1.8v1.8h-1.8zM518.6 126.7h1.8v1.8h-1.8zM544.5 116.4h1.8v1.8h-1.8zM566.5 102.5h1.8v1.8h-1.8zM536.4 119.0h1.8v1.8h-1.8zM573.8 87.7h1.8v1.8h-1.8zM529.0 116.3h1.8v1.8h-1.8zM567.1 102.7h1.8v1.8h-1.8zM530.2 116.9h1.8v1.8h-1.8zM561.9 102.7h1.8v1.8h-1.8zM462.1 139.1h1.8v1.8h-1.8zM562.2 99.2h1.8v1.8h-1.8zM583.9 88.5h1.8v1.8h-1.8zM513.9 122.0h1.8v1.8h-1.8zM564.4 97.2h1.8v1.8h-1.8zM561.7 93.9h1.8v1.8h-1.8zM578.0 102.5h1.8v1.8h-1.8zM539.9 119.2h1.8v1.8h-1.8zM579.1 91.5h1.8v1.8h-1.8zM532.2 117.0h1.8v1.8h-1.8zM565.0 97.0h1.8v1.8h-1.8zM500.8 120.6h1.8v1.8h-1.8zM545.5 120.2h1.8v1.8h-1.8zM580.9 95.2h1.8v1.8h-1.8zM528.3 119.7h1.8v1.8h-1.8zM562.2 101.5h1.8v1.8h-1.8zM581.2 84.4h1.8v1.8h-1.8zM541.7 118.4h1.8v1.8h-1.8zM572.9 99.9h1.8v1.8h-1.8zM521.0 127.5h1.8v1.8h-1.8zM533.1 117.5h1.8v1.8h-1.8zM512.0 120.9h1.8v1.8h-1.8zM564.1 96.3h1.8v1.8h-1.8zM542.0 118.5h1.8v1.8h-1.8zM569.2 101.0h1.8v1.8h-1.8zM576.9 97.6h1.8v1.8h-1.8zM588.4 99.9h1.8v1.8h-1.8zM565.0 102.2h1.8v1.8h-1.8zM534.3 125.8h1.8v1.8h-1.8zM568.2 94.5h1.8v1.8h-1.8zM583.0 99.7h1.8v1.8h-1.8zM562.9 101.5h1.8v1.8h-1.8zM522.2 124.7h1.8v1.8h-1.8zM541.8 116.6h1.8v1.8h-1.8zM571.5 84.0h1.8v1.8h-1.8zM577.0 97.3h1.8v1.8h-1.8zM568.9 84.4h1.8v1.8h-1.8zM561.8 95.9h1.8v1.8h-1.8zM562.4 98.5h1.8v1.8h-1.8zM547.2 117.4h1.8v1.8h-1.8zM578.5 88.5h1.8v1.8h-1.8zM545.5 117.2h1.8v1.8h-1.8zM564.6 99.6h1.8v1.8h-1.8zM527.1 122.8h1.8v1.8h-1.8zM531.2 129.0h1.8v1.8h-1.8zM566.9 84.0h1.8v1.8h-1.8zM561.8 102.0h1.8v1.8h-1.8zM570.0 96.2h1.8v1.8h-1.8zM526.8 125.9h1.8v1.8h-1.8zM506.6 119.3h1.8v1.8h-1.8zM570.7 99.0h1.8v1.8h-1.8zM579.7 90.3h1.8v1.8h-1.8zM571.9 88.9h1.8v1.8h-1.8zM569.0 99.3h1.8v1.8h-1.8zM511.8 128.4h1.8v1.8h-1.8zM493.9 127.0h1.8v1.8h-1.8zM518.7 116.6h1.8v1.8h-1.8zM539.8 118.2h1.8v1.8h-1.8zM534.9 119.5h1.8v1.8h-1.8zM579.0 91.6h1.8v1.8h-1.8zM537.5 118.8h1.8v1.8h-1.8zM536.6 118.3h1.8v1.8h-1.8zM526.5 127.1h1.8v1.8h-1.8zM540.5 118.6h1.8v1.8h-1.8zM565.0 97.6h1.8v1.8h-1.8zM504.9 133.6h1.8v1.8h-1.8zM541.9 118.0h1.8v1.8h-1.8zM571.0 102.6h1.8v1.8h-1.8zM565.8 99.8h1.8v1.8h-1.8zM564.9 101.1h1.8v1.8h-1.8zM500.3 132.8h1.8v1.8h-1.8zM532.7 116.3h1.8v1.8h-1.8zM568.0 100.0h1.8v1.8h-1.8zM517.7 120.7h1.8v1.8h-1.8zM544.4 118.1h1.8v1.8h-1.8zM530.4 122.8h1.8v1.8h-1.8zM569.8 92.6h1.8v1.8h-1.8zM578.4 88.7h1.8v1.8h-1.8zM513.5 123.2h1.8v1.8h-1.8zM528.0 117.0h1.8v1.8h-1.8zM576.8 94.8h1.8v1.8h-1.8zM524.2 122.4h1.8v1.8h-1.8zM524.9 126.7h1.8v1.8h-1.8zM565.4 95.9h1.8v1.8h-1.8zM576.1 98.7h1.8v1.8h-1.8zM516.9 122.6h1.8v1.8h-1.8zM539.5 127.2h1.8v1.8h-1.8zM524.4 119.3h1.8v1.8h-1.8zM574.8 98.1h1.8v1.8h-1.8zM546.6 121.4h1.8v1.8h-1.8zM565.7 99.1h1.8v1.8h-1.8zM564.4 88.4h1.8v1.8h-1.8zM572.3 98.9h1.8v1.8h-1.8zM562.3 99.0h1.8v1.8h-1.8zM562.5 102.4h1.8v1.8h-1.8zM570.8 90.6h1.8v1.8h-1.8zM565.3 97.9h1.8v1.8h-1.8zM537.4 120.5h1.8v1.8h-1.8zM534.2 118.4h1.8v1.8h-1.8zM528.6 116.6h1.8v1.8h-1.8zM570.2 90.4h1.8v1.8h-1.8zM567.0 98.5h1.8v1.8h-1.8zM573.2 98.4h1.8v1.8h-1.8zM574.8 91.7h1.8v1.8h-1.8zM533.4 120.7h1.8v1.8h-1.8zM564.1 99.7h1.8v1.8h-1.8zM561.7 97.5h1.8v1.8h-1.8zM541.3 116.9h1.8v1.8h-1.8zM562.0 97.0h1.8v1.8h-1.8zM576.1 102.1h1.8v1.8h-1.8zM541.1 118.7h1.8v1.8h-1.8zM572.6 93.2h1.8v1.8h-1.8zM539.0 129.9h1.8v1.8h-1.8zM545.7 119.0h1.8v1.8h-1.8zM574.6 94.9h1.8v1.8h-1.8zM521.1 121.3h1.8v1.8h-1.8zM582.7 101.1h1.8v1.8h-1.8zM523.1 117.2h1.8v1.8h-1.8zM563.6 100.0h1.8v1.8h-1.8zM497.4 117.9h1.8v1.8h-1.8zM579.0 92.9h1.8v1.8h-1.8zM539.3 117.9h1.8v1.8h-1.8zM495.0 120.7h1.8v1.8h-1.8zM529.6 120.6h1.8v1.8h-1.8zM568.5 95.9h1.8v1.8h-1.8zM537.1 123.5h1.8v1.8h-1.8zM566.4 94.0h1.8v1.8h-1.8zM505.9 126.5h1.8v1.8h-1.8zM562.0 94.5h1.8v1.8h-1.8zM534.5 120.0h1.8v1.8h-1.8zM583.5 98.5h1.8v1.8h-1.8zM517.1 132.2h1.8v1.8h-1.8zM573.1 82.9h1.8v1.8h-1.8zM543.3 122.7h1.8v1.8h-1.8zM494.4 116.8h1.8v1.8h-1.8zM504.2 121.6h1.8v1.8h-1.8zM563.1 97.9h1.8v1.8h-1.8zM563.9 101.9h1.8v1.8h-1.8zM572.0 100.2h1.8v1.8h-1.8zM567.8 94.7h1.8v1.8h-1.8zM566.4 95.8h1.8v1.8h-1.8zM567.8 96.0h1.8v1.8h-1.8zM537.5 124.2h1.8v1.8h-1.8zM592.4 82.0h1.8v1.8h-1.8zM522.5 133.9h1.8v1.8h-1.8zM578.9 94.1h1.8v1.8h-1.8zM562.5 99.5h1.8v1.8h-1.8zM543.4 118.9h1.8v1.8h-1.8zM522.0 117.4h1.8v1.8h-1.8zM566.5 98.8h1.8v1.8h-1.8zM564.3 88.2h1.8v1.8h-1.8zM585.9 86.4h1.8v1.8h-1.8zM543.4 122.3h1.8v1.8h-1.8zM568.2 96.6h1.8v1.8h-1.8zM567.0 101.3h1.8v1.8h-1.8zM530.2 117.9h1.8v1.8h-1.8zM563.0 102.1h1.8v1.8h-1.8zM514.8 120.4h1.8v1.8h-1.8zM564.7 97.6h1.8v1.8h-1.8zM522.8 125.3h1.8v1.8h-1.8zM539.4 123.7h1.8v1.8h-1.8zM563.2 98.8h1.8v1.8h-1.8zM578.2 92.3h1.8v1.8h-1.8zM564.3 98.1h1.8v1.8h-1.8zM511.7 119.1h1.8v1.8h-1.8zM572.2 95.8h1.8v1.8h-1.8zM607.9 64.1h1.8v1.8h-1.8zM510.8 118.0h1.8v1.8h-1.8zM531.8 117.3h1.8v1.8h-1.8zM505.7 126.7h1.8v1.8h-1.8zM574.8 80.2h1.8v1.8h-1.8zM487.4 118.6h1.8v1.8h-1.8zM524.3 123.4h1.8v1.8h-1.8zM569.4 101.6h1.8v1.8h-1.8zM586.8 77.9h1.8v1.8h-1.8zM562.7 81.7h1.8v1.8h-1.8zM536.0 118.4h1.8v1.8h-1.8zM534.0 116.7h1.8v1.8h-1.8zM516.1 125.0h1.8v1.8h-1.8zM586.7 75.2h1.8v1.8h-1.8zM575.5 100.7h1.8v1.8h-1.8zM569.5 97.0h1.8v1.8h-1.8zM583.2 89.0h1.8v1.8h-1.8zM523.3 126.3h1.8v1.8h-1.8zM504.3 120.7h1.8v1.8h-1.8zM501.7 128.3h1.8v1.8h-1.8zM563.1 99.7h1.8v1.8h-1.8zM564.9 100.1h1.8v1.8h-1.8zM524.0 118.9h1.8v1.8h-1.8zM493.6 140.5h1.8v1.8h-1.8zM519.7 121.2h1.8v1.8h-1.8zM531.9 121.6h1.8v1.8h-1.8zM575.8 96.9h1.8v1.8h-1.8zM563.5 96.0h1.8v1.8h-1.8zM570.5 95.5h1.8v1.8h-1.8zM561.1 92.9h1.8v1.8h-1.8zM566.1 87.7h1.8v1.8h-1.8zM571.6 95.8h1.8v1.8h-1.8zM564.1 59.9h1.8v1.8h-1.8zM510.8 126.1h1.8v1.8h-1.8zM508.1 129.7h1.8v1.8h-1.8zM574.9 102.1h1.8v1.8h-1.8zM596.9 69.6h1.8v1.8h-1.8zM564.5 92.3h1.8v1.8h-1.8zM569.8 93.5h1.8v1.8h-1.8zM529.9 120.4h1.8v1.8h-1.8zM509.5 122.2h1.8v1.8h-1.8zM521.6 123.3h1.8v1.8h-1.8zM592.2 71.0h1.8v1.8h-1.8zM498.5 123.8h1.8v1.8h-1.8zM567.1 99.6h1.8v1.8h-1.8zM576.0 87.7h1.8v1.8h-1.8zM520.5 116.7h1.8v1.8h-1.8zM481.8 132.1h1.8v1.8h-1.8zM527.6 119.7h1.8v1.8h-1.8zM536.4 118.6h1.8v1.8h-1.8zM571.5 57.8h1.8v1.8h-1.8zM576.8 96.5h1.8v1.8h-1.8zM568.3 87.5h1.8v1.8h-1.8zM572.8 79.4h1.8v1.8h-1.8zM534.3 117.2h1.8v1.8h-1.8zM567.9 102.8h1.8v1.8h-1.8zM579.2 78.6h1.8v1.8h-1.8zM565.1 71.3h1.8v1.8h-1.8zM568.3 100.7h1.8v1.8h-1.8zM585.2 91.5h1.8v1.8h-1.8zM580.8 78.0h1.8v1.8h-1.8zM569.4 90.6h1.8v1.8h-1.8zM511.5 130.2h1.8v1.8h-1.8zM574.6 85.9h1.8v1.8h-1.8zM594.2 63.4h1.8v1.8h-1.8zM571.3 82.3h1.8v1.8h-1.8zM576.7 97.3h1.8v1.8h-1.8zM586.9 73.8h1.8v1.8h-1.8zM487.9 130.2h1.8v1.8h-1.8zM571.8 94.8h1.8v1.8h-1.8zM581.7 74.1h1.8v1.8h-1.8zM570.3 88.7h1.8v1.8h-1.8zM512.5 122.3h1.8v1.8h-1.8zM537.2 121.2h1.8v1.8h-1.8zM562.0 99.2h1.8v1.8h-1.8zM592.1 91.1h1.8v1.8h-1.8zM564.4 89.6h1.8v1.8h-1.8zM568.0 97.1h1.8v1.8h-1.8zM470.0 139.6h1.8v1.8h-1.8zM538.0 118.3h1.8v1.8h-1.8zM575.8 93.9h1.8v1.8h-1.8zM544.9 117.2h1.8v1.8h-1.8zM593.0 67.0h1.8v1.8h-1.8zM588.4 90.8h1.8v1.8h-1.8zM591.7 74.1h1.8v1.8h-1.8zM497.3 127.2h1.8v1.8h-1.8zM571.6 91.5h1.8v1.8h-1.8zM582.2 89.4h1.8v1.8h-1.8zM532.6 117.7h1.8v1.8h-1.8zM522.6 120.2h1.8v1.8h-1.8zM582.2 100.3h1.8v1.8h-1.8zM597.5 65.9h1.8v1.8h-1.8zM540.6 117.2h1.8v1.8h-1.8zM517.1 119.2h1.8v1.8h-1.8zM565.5 102.3h1.8v1.8h-1.8zM569.2 93.2h1.8v1.8h-1.8zM520.4 126.3h1.8v1.8h-1.8zM563.8 89.3h1.8v1.8h-1.8zM543.6 123.7h1.8v1.8h-1.8zM563.2 99.9h1.8v1.8h-1.8zM525.2 123.5h1.8v1.8h-1.8zM578.1 49.4h1.8v1.8h-1.8zM561.2 95.7h1.8v1.8h-1.8zM521.1 117.7h1.8v1.8h-1.8zM570.6 92.9h1.8v1.8h-1.8zM571.8 78.6h1.8v1.8h-1.8zM569.2 87.2h1.8v1.8h-1.8zM591.5 70.5h1.8v1.8h-1.8zM573.0 90.9h1.8v1.8h-1.8zM485.4 134.8h1.8v1.8h-1.8zM568.7 100.8h1.8v1.8h-1.8zM515.0 116.5h1.8v1.8h-1.8zM529.1 121.8h1.8v1.8h-1.8zM512.3 135.5h1.8v1.8h-1.8zM589.6 102.6h1.8v1.8h-1.8zM503.3 130.7h1.8v1.8h-1.8zM513.9 116.6h1.8v1.8h-1.8zM571.3 92.7h1.8v1.8h-1.8zM511.5 117.9h1.8v1.8h-1.8zM618.0 36.0h1.8v1.8h-1.8zM522.7 121.1h1.8v1.8h-1.8zM534.4 120.1h1.8v1.8h-1.8zM562.3 102.1h1.8v1.8h-1.8zM603.7 52.0h1.8v1.8h-1.8zM565.7 77.1h1.8v1.8h-1.8zM500.1 132.0h1.8v1.8h-1.8zM573.2 99.7h1.8v1.8h-1.8zM479.3 129.8h1.8v1.8h-1.8zM580.7 86.6h1.8v1.8h-1.8zM563.1 100.2h1.8v1.8h-1.8zM567.1 96.9h1.8v1.8h-1.8zM576.9 81.0h1.8v1.8h-1.8zM565.6 93.2h1.8v1.8h-1.8zM470.3 128.1h1.8v1.8h-1.8zM507.3 125.4h1.8v1.8h-1.8zM563.6 100.4h1.8v1.8h-1.8zM576.7 97.0h1.8v1.8h-1.8zM561.8 83.5h1.8v1.8h-1.8zM528.5 118.6h1.8v1.8h-1.8zM535.0 117.8h1.8v1.8h-1.8zM546.5 119.7h1.8v1.8h-1.8zM565.3 99.2h1.8v1.8h-1.8zM574.4 95.6h1.8v1.8h-1.8zM564.1 78.5h1.8v1.8h-1.8zM569.9 102.7h1.8v1.8h-1.8zM575.6 81.0h1.8v1.8h-1.8zM569.0 96.7h1.8v1.8h-1.8zM575.3 70.9h1.8v1.8h-1.8zM586.1 75.8h1.8v1.8h-1.8zM561.5 98.3h1.8v1.8h-1.8zM541.9 119.2h1.8v1.8h-1.8zM580.1 82.0h1.8v1.8h-1.8zM593.4 74.5h1.8v1.8h-1.8zM522.3 119.4h1.8v1.8h-1.8zM493.0 118.1h1.8v1.8h-1.8zM570.5 101.7h1.8v1.8h-1.8zM563.3 87.2h1.8v1.8h-1.8zM569.9 89.7h1.8v1.8h-1.8zM529.5 117.8h1.8v1.8h-1.8zM569.2 91.1h1.8v1.8h-1.8zM618.4 30.7h1.8v1.8h-1.8zM508.9 121.1h1.8v1.8h-1.8zM595.0 77.0h1.8v1.8h-1.8zM583.9 74.9h1.8v1.8h-1.8zM599.8 70.4h1.8v1.8h-1.8zM522.6 119.0h1.8v1.8h-1.8zM505.8 121.0h1.8v1.8h-1.8zM580.4 85.0h1.8v1.8h-1.8zM583.5 55.7h1.8v1.8h-1.8zM570.3 88.6h1.8v1.8h-1.8zM568.2 83.1h1.8v1.8h-1.8zM505.2 125.6h1.8v1.8h-1.8zM569.6 72.5h1.8v1.8h-1.8zM502.1 119.6h1.8v1.8h-1.8zM569.9 102.5h1.8v1.8h-1.8zM564.1 90.5h1.8v1.8h-1.8zM598.1 42.2h1.8v1.8h-1.8zM582.0 66.9h1.8v1.8h-1.8zM579.8 81.9h1.8v1.8h-1.8zM567.1 89.5h1.8v1.8h-1.8zM531.2 118.8h1.8v1.8h-1.8zM522.4 123.2h1.8v1.8h-1.8zM574.3 86.8h1.8v1.8h-1.8zM575.4 61.0h1.8v1.8h-1.8zM517.0 124.1h1.8v1.8h-1.8zM572.0 98.0h1.8v1.8h-1.8zM580.6 94.0h1.8v1.8h-1.8zM573.5 98.1h1.8v1.8h-1.8zM585.3 81.4h1.8v1.8h-1.8zM570.1 86.2h1.8v1.8h-1.8zM564.5 83.6h1.8v1.8h-1.8zM531.6 116.6h1.8v1.8h-1.8zM506.2 122.2h1.8v1.8h-1.8zM524.2 124.2h1.8v1.8h-1.8zM565.7 95.1h1.8v1.8h-1.8zM562.2 80.9h1.8v1.8h-1.8zM565.9 93.8h1.8v1.8h-1.8zM565.5 99.4h1.8v1.8h-1.8zM540.0 117.8h1.8v1.8h-1.8zM606.7 62.7h1.8v1.8h-1.8zM496.6 119.7h1.8v1.8h-1.8zM592.2 90.4h1.8v1.8h-1.8zM522.9 124.8h1.8v1.8h-1.8zM562.6 100.4h1.8v1.8h-1.8zM563.0 102.8h1.8v1.8h-1.8zM561.5 100.2h1.8v1.8h-1.8zM577.1 102.6h1.8v1.8h-1.8zM561.1 100.3h1.8v1.8h-1.8zM571.2 92.7h1.8v1.8h-1.8zM582.7 77.5h1.8v1.8h-1.8zM595.5 81.3h1.8v1.8h-1.8zM524.2 118.3h1.8v1.8h-1.8zM534.2 117.4h1.8v1.8h-1.8zM468.5 125.0h1.8v1.8h-1.8zM564.1 98.1h1.8v1.8h-1.8zM561.6 102.6h1.8v1.8h-1.8zM506.7 125.7h1.8v1.8h-1.8zM511.2 116.8h1.8v1.8h-1.8zM524.8 120.4h1.8v1.8h-1.8zM525.6 130.0h1.8v1.8h-1.8zM580.4 101.8h1.8v1.8h-1.8zM531.5 117.4h1.8v1.8h-1.8zM514.6 119.8h1.8v1.8h-1.8zM565.7 88.5h1.8v1.8h-1.8zM591.8 55.9h1.8v1.8h-1.8zM576.3 78.6h1.8v1.8h-1.8zM563.7 92.3h1.8v1.8h-1.8zM567.3 102.8h1.8v1.8h-1.8zM572.3 88.1h1.8v1.8h-1.8zM510.5 118.1h1.8v1.8h-1.8zM525.3 118.2h1.8v1.8h-1.8zM532.0 128.5h1.8v1.8h-1.8zM575.6 90.7h1.8v1.8h-1.8zM494.2 120.4h1.8v1.8h-1.8zM494.1 129.3h1.8v1.8h-1.8zM587.6 83.0h1.8v1.8h-1.8zM539.5 129.9h1.8v1.8h-1.8zM583.4 77.9h1.8v1.8h-1.8zM563.1 99.2h1.8v1.8h-1.8zM585.8 52.7h1.8v1.8h-1.8zM510.8 121.4h1.8v1.8h-1.8zM581.6 52.4h1.8v1.8h-1.8zM515.7 122.1h1.8v1.8h-1.8zM563.4 87.9h1.8v1.8h-1.8zM498.8 122.4h1.8v1.8h-1.8zM566.7 86.1h1.8v1.8h-1.8zM578.7 94.4h1.8v1.8h-1.8zM563.3 86.9h1.8v1.8h-1.8zM584.7 84.1h1.8v1.8h-1.8zM580.6 80.3h1.8v1.8h-1.8zM572.5 81.1h1.8v1.8h-1.8zM545.8 116.8h1.8v1.8h-1.8zM496.3 125.4h1.8v1.8h-1.8zM578.4 86.8h1.8v1.8h-1.8zM563.7 96.0h1.8v1.8h-1.8zM585.3 75.1h1.8v1.8h-1.8zM530.3 121.3h1.8v1.8h-1.8zM570.7 94.4h1.8v1.8h-1.8zM503.7 119.3h1.8v1.8h-1.8zM618.8 47.3h1.8v1.8h-1.8zM579.7 52.7h1.8v1.8h-1.8zM572.0 83.6h1.8v1.8h-1.8zM570.7 90.5h1.8v1.8h-1.8zM514.5 122.5h1.8v1.8h-1.8zM596.2 73.5h1.8v1.8h-1.8zM569.3 83.4h1.8v1.8h-1.8zM535.5 117.8h1.8v1.8h-1.8zM603.2 53.4h1.8v1.8h-1.8zM575.9 72.9h1.8v1.8h-1.8zM502.4 119.6h1.8v1.8h-1.8zM561.0 94.1h1.8v1.8h-1.8zM562.0 80.5h1.8v1.8h-1.8zM592.2 65.8h1.8v1.8h-1.8zM541.3 116.5h1.8v1.8h-1.8zM588.7 63.0h1.8v1.8h-1.8zM609.9 68.6h1.8v1.8h-1.8zM573.4 86.6h1.8v1.8h-1.8zM544.1 118.7h1.8v1.8h-1.8zM522.1 119.1h1.8v1.8h-1.8zM570.8 98.4h1.8v1.8h-1.8zM514.2 121.0h1.8v1.8h-1.8zM472.9 125.9h1.8v1.8h-1.8zM501.2 116.8h1.8v1.8h-1.8zM577.2 102.4h1.8v1.8h-1.8zM498.2 129.5h1.8v1.8h-1.8zM567.1 98.3h1.8v1.8h-1.8zM599.8 58.0h1.8v1.8h-1.8zM563.4 97.6h1.8v1.8h-1.8zM571.7 102.6h1.8v1.8h-1.8zM573.9 94.6h1.8v1.8h-1.8zM585.2 97.1h1.8v1.8h-1.8zM561.2 100.7h1.8v1.8h-1.8zM538.1 120.0h1.8v1.8h-1.8zM577.8 66.7h1.8v1.8h-1.8zM526.0 116.7h1.8v1.8h-1.8zM570.1 92.0h1.8v1.8h-1.8zM542.1 118.6h1.8v1.8h-1.8zM524.2 118.1h1.8v1.8h-1.8zM564.1 98.2h1.8v1.8h-1.8zM573.0 85.9h1.8v1.8h-1.8zM568.9 98.9h1.8v1.8h-1.8zM569.2 76.8h1.8v1.8h-1.8zM544.2 119.4h1.8v1.8h-1.8zM562.1 96.3h1.8v1.8h-1.8zM529.5 119.6h1.8v1.8h-1.8zM579.0 99.5h1.8v1.8h-1.8zM565.5 89.8h1.8v1.8h-1.8zM565.9 72.4h1.8v1.8h-1.8zM566.5 99.3h1.8v1.8h-1.8zM573.2 86.1h1.8v1.8h-1.8zM532.4 116.3h1.8v1.8h-1.8zM492.8 140.2h1.8v1.8h-1.8zM640.7 32.1h1.8v1.8h-1.8zM520.8 118.6h1.8v1.8h-1.8zM569.9 102.1h1.8v1.8h-1.8zM571.5 84.3h1.8v1.8h-1.8zM567.7 82.8h1.8v1.8h-1.8zM599.8 50.2h1.8v1.8h-1.8zM566.3 96.5h1.8v1.8h-1.8zM541.2 126.3h1.8v1.8h-1.8zM569.6 101.7h1.8v1.8h-1.8zM563.4 102.6h1.8v1.8h-1.8zM510.9 130.3h1.8v1.8h-1.8zM545.8 124.2h1.8v1.8h-1.8zM562.4 102.3h1.8v1.8h-1.8zM547.2 119.4h1.8v1.8h-1.8zM545.7 121.0h1.8v1.8h-1.8zM563.9 89.5h1.8v1.8h-1.8zM544.8 135.2h1.8v1.8h-1.8zM540.8 116.2h1.8v1.8h-1.8zM566.0 95.1h1.8v1.8h-1.8zM561.5 82.9h1.8v1.8h-1.8zM561.0 99.5h1.8v1.8h-1.8zM589.2 94.7h1.8v1.8h-1.8zM571.5 100.6h1.8v1.8h-1.8zM543.9 144.4h1.8v1.8h-1.8zM545.8 117.5h1.8v1.8h-1.8zM547.5 121.0h1.8v1.8h-1.8zM561.6 98.4h1.8v1.8h-1.8zM547.2 123.2h1.8v1.8h-1.8z"/><path fill="#00ff00" d="M555.5 121.0h1.8v1.8h-1.8zM553.3 101.3h1.8v1.8h-1.8zM553.8 99.4h1.8v1.8h-1.8zM557.9 99.8h1.8v1.8h-1.8zM549.0 117.0h1.8v1.8h-1.8zM553.6 121.1h1.8v1.8h-1.8zM558.6 101.9h1.8v1.8h-1.8zM553.1 99.2h1.8v1.8h-1.8zM556.0 100.7h1.8v1.8h-1.8zM558.4 102.3h1.8v1.8h-1.8zM553.0 100.4h1.8v1.8h-1.8zM555.6 96.8h1.8v1.8h-1.8zM558.6 93.3h1.8v1.8h-1.8zM550.4 116.4h1.8v1.8h-1.8zM558.0 99.2h1.8v1.8h-1.8zM559.0 91.4h1.8v1.8h-1.8zM560.9 100.4h1.8v1.8h-1.8zM559.3 95.8h1.8v1.8h-1.8zM560.1 120.0h1.8v1.8h-1.8zM552.7 117.7h1.8v1.8h-1.8zM554.6 119.8h1.8v1.8h-1.8zM552.5 116.6h1.8v1.8h-1.8zM555.0 121.7h1.8v1.8h-1.8zM547.8 118.3h1.8v1.8h-1.8zM555.0 116.4h1.8v1.8h-1.8zM555.7 117.1h1.8v1.8h-1.8zM558.0 97.4h1.8v1.8h-1.8zM558.0 119.5h1.8v1.8h-1.8zM554.8 99.4h1.8v1.8h-1.8zM550.3 100.5h1.8v1.8h-1.8zM554.6 101.5h1.8v1.8h-1.8zM558.8 102.8h1.8v1.8h-1.8zM556.0 101.7h1.8v1.8h-1.8zM556.6 102.2h1.8v1.8h-1.8zM559.4 99.2h1.8v1.8h-1.8zM559.1 96.5h1.8v1.8h-1.8zM552.7 118.2h1.8v1.8h-1.8zM560.7 94.9h1.8v1.8h-1.8zM548.3 122.5h1.8v1.8h-1.8zM555.4 93.2h1.8v1.8h-1.8zM560.5 116.3h1.8v1.8h-1.8zM557.4 99.2h1.8v1.8h-1.8zM557.7 100.3h1.8v1.8h-1.8zM554.4 96.4h1.8v1.8h-1.8zM554.9 102.2h1.8v1.8h-1.8zM549.7 123.5h1.8v1.8h-1.8zM559.7 100.6h1.8v1.8h-1.8zM550.0 118.6h1.8v1.8h-1.8zM557.0 120.7h1.8v1.8h-1.8zM557.9 123.3h1.8v1.8h-1.8zM559.8 100.6h1.8v1.8h-1.8zM557.1 100.5h1.8v1.8h-1.8zM554.1 97.0h1.8v1.8h-1.8zM548.0 123.4h1.8v1.8h-1.8zM550.8 99.2h1.8v1.8h-1.8zM560.4 100.0h1.8v1.8h-1.8zM548.5 101.4h1.8v1.8h-1.8zM552.3 118.5h1.8v1.8h-1.8zM551.2 118.1h1.8v1.8h-1.8zM555.5 98.6h1.8v1.8h-1.8zM556.2 120.2h1.8v1.8h-1.8zM558.0 117.0h1.8v1.8h-1.8zM553.9 96.5h1.8v1.8h-1.8zM557.8 118.0h1.8v1.8h-1.8zM549.4 118.0h1.8v1.8h-1.8zM558.9 116.5h1.8v1.8h-1.8zM553.1 102.6h1.8v1.8h-1.8zM557.1 100.6h1.8v1.8h-1.8zM552.5 119.3h1.8v1.8h-1.8zM557.0 102.5h1.8v1.8h-1.8zM558.2 97.5h1.8v1.8h-1.8zM549.4 101.3h1.8v1.8h-1.8zM559.9 117.8h1.8v1.8h-1.8zM549.0 101.7h1.8v1.8h-1.8zM557.5 95.1h1.8v1.8h-1.8zM549.2 117.6h1.8v1.8h-1.8zM557.3 101.5h1.8v1.8h-1.8zM550.3 118.4h1.8v1.8h-1.8zM554.4 100.4h1.8v1.8h-1.8zM559.8 119.3h1.8v1.8h-1.8zM559.2 95.2h1.8v1.8h-1.8zM553.6 102.5h1.8v1.8h-1.8zM555.1 118.3h1.8v1.8h-1.8zM554.6 97.7h1.8v1.8h-1.8zM551.9 116.3h1.8v1.8h-1.8zM556.7 101.0h1.8v1.8h-1.8zM554.3 118.4h1.8v1.8h-1.8zM549.7 100.2h1.8v1.8h-1.8zM549.1 102.7h1.8v1.8h-1.8zM559.9 96.3h1.8v1.8h-1.8zM549.7 97.5h1.8v1.8h-1.8zM554.0 101.9h1.8v1.8h-1.8zM557.8 101.8h1.8v1.8h-1.8zM554.4 125.1h1.8v1.8h-1.8zM556.0 91.6h1.8v1.8h-1.8zM558.4 96.0h1.8v1.8h-1.8zM558.0 100.2h1.8v1.8h-1.8zM552.9 120.2h1.8v1.8h-1.8zM556.4 98.5h1.8v1.8h-1.8zM556.9 99.5h1.8v1.8h-1.8zM558.8 88.3h1.8v1.8h-1.8zM555.4 101.3h1.8v1.8h-1.8zM556.6 121.4h1.8v1.8h-1.8zM550.9 101.1h1.8v1.8h-1.8zM552.4 121.8h1.8v1.8h-1.8zM552.3 90.7h1.8v1.8h-1.8zM552.7 100.0h1.8v1.8h-1.8zM553.9 99.4h1.8v1.8h-1.8zM554.7 97.8h1.8v1.8h-1.8zM559.3 101.6h1.8v1.8h-1.8zM554.7 118.9h1.8v1.8h-1.8zM553.9 120.2h1.8v1.8h-1.8zM557.7 99.8h1.8v1.8h-1.8zM552.4 101.2h1.8v1.8h-1.8zM550.7 119.9h1.8v1.8h-1.8zM554.5 102.0h1.8v1.8h-1.8zM558.7 102.8h1.8v1.8h-1.8zM551.7 99.6h1.8v1.8h-1.8zM554.2 95.6h1.8v1.8h-1.8zM552.0 121.1h1.8v1.8h-1.8zM559.3 119.7h1.8v1.8h-1.8zM556.2 100.7h1.8v1.8h-1.8zM560.1 99.0h1.8v1.8h-1.8zM560.2 102.3h1.8v1.8h-1.8zM550.3 98.2h1.8v1.8h-1.8zM551.6 116.3h1.8v1.8h-1.8zM552.0 101.4h1.8v1.8h-1.8zM555.9 99.6h1.8v1.8h-1.8zM560.8 94.4h1.8v1.8h-1.8zM556.6 96.4h1.8v1.8h-1.8zM556.1 100.8h1.8v1.8h-1.8zM550.2 101.7h1.8v1.8h-1.8zM557.8 90.0h1.8v1.8h-1.8zM559.4 95.0h1.8v1.8h-1.8zM558.5 117.9h1.8v1.8h-1.8zM556.1 101.7h1.8v1.8h-1.8zM554.9 102.7h1.8v1.8h-1.8zM553.4 117.9h1.8v1.8h-1.8zM560.3 100.8h1.8v1.8h-1.8zM549.7 101.0h1.8v1.8h-1.8zM555.7 102.2h1.8v1.8h-1.8zM558.8 96.9h1.8v1.8h-1.8zM558.0 98.1h1.8v1.8h-1.8zM559.4 98.4h1.8v1.8h-1.8zM557.4 96.7h1.8v1.8h-1.8zM560.2 117.7h1.8v1.8h-1.8zM551.0 120.0h1.8v1.8h-1.8zM556.3 102.1h1.8v1.8h-1.8zM555.8 101.5h1.8v1.8h-1.8zM557.4 95.7h1.8v1.8h-1.8zM559.8 97.0h1.8v1.8h-1.8zM556.2 95.2h1.8v1.8h-1.8zM559.0 102.4h1.8v1.8h-1.8zM557.1 97.0h1.8v1.8h-1.8zM553.4 101.3h1.8v1.8h-1.8zM556.3 94.1h1.8v1.8h-1.8zM553.7 120.7h1.8v1.8h-1.8zM559.7 100.2h1.8v1.8h-1.8zM549.2 116.7h1.8v1.8h-1.8zM547.9 117.2h1.8v1.8h-1.8zM549.1 99.6h1.8v1.8h-1.8zM560.1 95.4h1.8v1.8h-1.8zM556.0 117.6h1.8v1.8h-1.8zM557.4 101.1h1.8v1.8h-1.8zM552.4 99.2h1.8v1.8h-1.8zM550.5 101.2h1.8v1.8h-1.8zM557.7 96.3h1.8v1.8h-1.8zM560.4 101.6h1.8v1.8h-1.8zM551.6 102.4h1.8v1.8h-1.8zM548.1 102.6h1.8v1.8h-1.8zM559.5 120.3h1.8v1.8h-1.8zM554.4 98.9h1.8v1.8h-1.8zM552.4 120.5h1.8v1.8h-1.8zM553.6 119.8h1.8v1.8h-1.8zM556.9 118.1h1.8v1.8h-1.8zM551.2 124.7h1.8v1.8h-1.8zM557.9 100.7h1.8v1.8h-1.8zM554.3 102.1h1.8v1.8h-1.8zM559.6 96.2h1.8v1.8h-1.8zM554.7 118.4h1.8v1.8h-1.8zM550.3 120.0h1.8v1.8h-1.8zM555.2 100.8h1.8v1.8h-1.8zM560.0 99.2h1.8v1.8h-1.8zM555.4 94.8h1.8v1.8h-1.8zM556.8 99.8h1.8v1.8h-1.8zM557.0 96.4h1.8v1.8h-1.8zM551.9 124.3h1.8v1.8h-1.8zM556.4 120.4h1.8v1.8h-1.8zM555.4 100.6h1.8v1.8h-1.8zM547.7 125.4h1.8v1.8h-1.8zM554.3 102.2h1.8v1.8h-1.8zM555.7 119.5h1.8v1.8h-1.8zM553.8 116.5h1.8v1.8h-1.8zM552.4 123.0h1.8v1.8h-1.8zM555.7 116.6h1.8v1.8h-1.8zM555.7 101.6h1.8v1.8h-1.8zM558.8 101.2h1.8v1.8h-1.8zM555.2 100.0h1.8v1.8h-1.8zM548.9 118.5h1.8v1.8h-1.8zM551.0 98.2h1.8v1.8h-1.8zM554.3 95.9h1.8v1.8h-1.8zM552.9 121.1h1.8v1.8h-1.8zM558.7 102.6h1.8v1.8h-1.8zM560.1 102.1h1.8v1.8h-1.8zM553.3 93.7h1.8v1.8h-1.8zM552.7 99.3h1.8v1.8h-1.8zM548.8 116.7h1.8v1.8h-1.8zM551.4 117.7h1.8v1.8h-1.8zM554.3 101.9h1.8v1.8h-1.8zM556.0 95.6h1.8v1.8h-1.8zM547.5 119.7h1.8v1.8h-1.8zM551.9 121.8h1.8v1.8h-1.8zM553.2 117.0h1.8v1.8h-1.8zM550.9 123.1h1.8v1.8h-1.8zM554.7 99.6h1.8v1.8h-1.8zM554.8 117.4h1.8v1.8h-1.8zM551.7 102.0h1.8v1.8h-1.8zM552.1 117.9h1.8v1.8h-1.8zM560.2 99.7h1.8v1.8h-1.8zM560.7 120.6h1.8v1.8h-1.8zM560.2 99.7h1.8v1.8h-1.8zM560.7 118.7h1.8v1.8h-1.8zM552.7 122.9h1.8v1.8h-1.8zM559.9 101.2h1.8v1.8h-1.8zM555.6 100.3h1.8v1.8h-1.8zM552.8 99.7h1.8v1.8h-1.8zM555.5 99.8h1.8v1.8h-1.8zM549.1 124.6h1.8v1.8h-1.8zM559.8 93.2h1.8v1.8h-1.8zM554.7 99.3h1.8v1.8h-1.8zM552.9 120.7h1.8v1.8h-1.8zM553.6 117.9h1.8v1.8h-1.8zM554.6 96.1h1.8v1.8h-1.8zM549.3 98.4h1.8v1.8h-1.8zM548.8 116.3h1.8v1.8h-1.8zM553.0 98.1h1.8v1.8h-1.8zM552.1 97.2h1.8v1.8h-1.8zM547.7 99.0h1.8v1.8h-1.8zM553.2 119.4h1.8v1.8h-1.8zM556.2 100.5h1.8v1.8h-1.8zM551.8 116.9h1.8v1.8h-1.8zM555.2 97.7h1.8v1.8h-1.8zM558.3 98.1h1.8v1.8h-1.8zM557.8 92.3h1.8v1.8h-1.8zM553.0 102.6h1.8v1.8h-1.8zM559.7 99.3h1.8v1.8h-1.8zM555.3 97.9h1.8v1.8h-1.8zM556.5 117.0h1.8v1.8h-1.8zM552.8 100.6h1.8v1.8h-1.8zM554.7 116.8h1.8v1.8h-1.8zM553.5 102.2h1.8v1.8h-1.8zM549.6 120.4h1.8v1.8h-1.8zM556.7 93.0h1.8v1.8h-1.8zM553.9 91.0h1.8v1.8h-1.8zM557.6 127.1h1.8v1.8h-1.8zM555.7 119.2h1.8v1.8h-1.8zM552.4 33.0h1.8v1.8h-1.8zM557.1 102.0h1.8v1.8h-1.8zM557.0 86.6h1.8v1.8h-1.8zM557.8 132.6h1.8v1.8h-1.8zM553.9 101.6h1.8v1.8h-1.8zM557.5 101.0h1.8v1.8h-1.8zM548.8 100.2h1.8v1.8h-1.8zM559.4 102.2h1.8v1.8h-1.8zM558.4 93.4h1.8v1.8h-1.8zM550.2 78.4h1.8v1.8h-1.8zM556.2 87.1h1.8v1.8h-1.8zM555.3 101.6h1.8v1.8h-1.8zM552.4 101.6h1.8v1.8h-1.8zM551.4 91.9h1.8v1.8h-1.8zM556.4 120.3h1.8v1.8h-1.8zM552.1 86.9h1.8v1.8h-1.8zM557.3 92.5h1.8v1.8h-1.8zM559.6 122.1h1.8v1.8h-1.8zM557.0 80.0h1.8v1.8h-1.8zM551.0 98.7h1.8v1.8h-1.8zM556.7 147.0h1.8v1.8h-1.8zM559.0 98.3h1.8v1.8h-1.8zM549.4 100.8h1.8v1.8h-1.8zM547.8 96.0h1.8v1.8h-1.8zM550.8 117.9h1.8v1.8h-1.8zM556.2 95.8h1.8v1.8h-1.8zM560.6 102.2h1.8v1.8h-1.8zM558.5 98.4h1.8v1.8h-1.8zM556.8 89.5h1.8v1.8h-1.8zM547.8 117.0h1.8v1.8h-1.8zM551.0 99.0h1.8v1.8h-1.8zM558.2 98.6h1.8v1.8h-1.8zM551.3 117.2h1.8v1.8h-1.8zM554.9 122.4h1.8v1.8h-1.8zM560.1 95.4h1.8v1.8h-1.8zM549.2 101.2h1.8v1.8h-1.8zM555.2 94.3h1.8v1.8h-1.8zM556.3 83.7h1.8v1.8h-1.8zM556.8 117.8h1.8v1.8h-1.8zM554.3 101.8h1.8v1.8h-1.8zM554.1 102.7h1.8v1.8h-1.8zM555.4 135.2h1.8v1.8h-1.8zM556.1 93.1h1.8v1.8h-1.8zM554.2 122.9h1.8v1.8h-1.8zM559.4 89.0h1.8v1.8h-1.8zM553.4 93.2h1.8v1.8h-1.8zM556.0 97.3h1.8v1.8h-1.8zM558.6 117.8h1.8v1.8h-1.8zM560.5 102.5h1.8v1.8h-1.8zM557.9 116.5h1.8v1.8h-1.8zM560.8 95.6h1.8v1.8h-1.8zM557.7 116.9h1.8v1.8h-1.8zM553.1 101.6h1.8v1.8h-1.8zM557.8 100.6h1.8v1.8h-1.8zM556.6 89.3h1.8v1.8h-1.8zM560.6 101.2h1.8v1.8h-1.8zM560.8 94.0h1.8v1.8h-1.8zM555.1 96.0h1.8v1.8h-1.8zM558.9 130.9h1.8v1.8h-1.8zM560.5 97.7h1.8v1.8h-1.8zM555.4 96.7h1.8v1.8h-1.8zM548.9 117.1h1.8v1.8h-1.8zM549.1 100.1h1.8v1.8h-1.8zM560.3 101.2h1.8v1.8h-1.8zM554.8 94.3h1.8v1.8h-1.8zM558.4 83.6h1.8v1.8h-1.8zM559.8 121.0h1.8v1.8h-1.8zM554.7 122.7h1.8v1.8h-1.8zM557.1 99.3h1.8v1.8h-1.8zM547.6 100.6h1.8v1.8h-1.8zM557.9 102.6h1.8v1.8h-1.8zM557.9 98.3h1.8v1.8h-1.8zM555.3 97.3h1.8v1.8h-1.8zM556.6 102.7h1.8v1.8h-1.8zM551.8 96.8h1.8v1.8h-1.8zM553.5 95.5h1.8v1.8h-1.8zM554.4 118.3h1.8v1.8h-1.8zM557.7 99.7h1.8v1.8h-1.8zM558.5 82.6h1.8v1.8h-1.8zM554.0 95.9h1.8v1.8h-1.8zM559.2 82.8h1.8v1.8h-1.8zM560.6 97.5h1.8v1.8h-1.8zM557.0 97.9h1.8v1.8h-1.8zM558.7 117.9h1.8v1.8h-1.8zM553.5 93.3h1.8v1.8h-1.8zM548.4 146.6h1.8v1.8h-1.8zM552.7 79.7h1.8v1.8h-1.8zM553.3 72.2h1.8v1.8h-1.8zM558.6 87.2h1.8v1.8h-1.8zM551.5 125.2h1.8v1.8h-1.8zM560.3 116.4h1.8v1.8h-1.8zM555.2 89.6h1.8v1.8h-1.8zM558.1 91.2h1.8v1.8h-1.8zM555.2 119.2h1.8v1.8h-1.8zM558.4 138.4h1.8v1.8h-1.8zM554.9 96.0h1.8v1.8h-1.8zM554.2 73.1h1.8v1.8h-1.8zM554.9 39.5h1.8v1.8h-1.8zM557.7 100.7h1.8v1.8h-1.8zM558.6 97.3h1.8v1.8h-1.8zM555.7 116.8h1.8v1.8h-1.8zM552.1 116.5h1.8v1.8h-1.8zM551.4 117.6h1.8v1.8h-1.8zM558.4 98.2h1.8v1.8h-1.8zM547.6 120.7h1.8v1.8h-1.8zM547.9 130.6h1.8v1.8h-1.8zM557.8 86.3h1.8v1.8h-1.8zM549.5 93.0h1.8v1.8h-1.8zM554.1 100.5h1.8v1.8h-1.8zM555.0 120.3h1.8v1.8h-1.8zM552.5 91.1h1.8v1.8h-1.8zM554.6 101.7h1.8v1.8h-1.8zM552.7 117.6h1.8v1.8h-1.8zM552.2 133.8h1.8v1.8h-1.8zM549.5 122.5h1.8v1.8h-1.8zM559.5 63.0h1.8v1.8h-1.8zM560.8 101.5h1.8v1.8h-1.8zM560.6 101.7h1.8v1.8h-1.8zM558.9 116.6h1.8v1.8h-1.8zM556.0 77.3h1.8v1.8h-1.8zM553.2 97.9h1.8v1.8h-1.8zM552.9 116.2h1.8v1.8h-1.8zM553.0 127.3h1.8v1.8h-1.8zM555.0 66.5h1.8v1.8h-1.8zM552.4 117.5h1.8v1.8h-1.8zM550.1 92.8h1.8v1.8h-1.8zM556.2 120.2h1.8v1.8h-1.8zM551.6 117.6h1.8v1.8h-1.8zM550.4 93.1h1.8v1.8h-1.8zM560.6 125.5h1.8v1.8h-1.8zM555.9 125.6h1.8v1.8h-1.8zM548.4 102.5h1.8v1.8h-1.8zM554.0 89.2h1.8v1.8h-1.8zM554.7 88.6h1.8v1.8h-1.8zM551.5 101.7h1.8v1.8h-1.8zM551.9 121.9h1.8v1.8h-1.8zM552.7 102.0h1.8v1.8h-1.8zM560.9 118.4h1.8v1.8h-1.8zM548.0 102.1h1.8v1.8h-1.8zM557.7 64.5h1.8v1.8h-1.8zM551.5 123.6h1.8v1.8h-1.8zM555.3 94.5h1.8v1.8h-1.8zM551.2 118.1h1.8v1.8h-1.8zM551.6 90.2h1.8v1.8h-1.8zM553.2 138.8h1.8v1.8h-1.8zM557.0 95.4h1.8v1.8h-1.8zM552.4 74.2h1.8v1.8h-1.8zM551.0 91.3h1.8v1.8h-1.8zM558.4 90.5h1.8v1.8h-1.8zM554.3 130.9h1.8v1.8h-1.8zM559.1 116.2h1.8v1.8h-1.8zM555.7 90.2h1.8v1.8h-1.8zM557.6 95.0h1.8v1.8h-1.8zM552.5 91.0h1.8v1.8h-1.8zM550.5 98.7h1.8v1.8h-1.8zM548.6 82.9h1.8v1.8h-1.8zM559.1 119.6h1.8v1.8h-1.8zM550.6 133.5h1.8v1.8h-1.8zM556.1 119.6h1.8v1.8h-1.8zM560.7 87.5h1.8v1.8h-1.8zM550.2 100.8h1.8v1.8h-1.8zM553.3 102.5h1.8v1.8h-1.8zM548.7 88.6h1.8v1.8h-1.8zM554.8 92.2h1.8v1.8h-1.8zM558.5 69.6h1.8v1.8h-1.8zM560.9 84.5h1.8v1.8h-1.8zM550.0 124.6h1.8v1.8h-1.8zM555.3 124.1h1.8v1.8h-1.8zM552.5 90.8h1.8v1.8h-1.8zM551.4 91.7h1.8v1.8h-1.8zM548.6 39.5h1.8v1.8h-1.8zM556.6 66.6h1.8v1.8h-1.8zM552.6 74.4h1.8v1.8h-1.8zM547.8 48.2h1.8v1.8h-1.8zM548.3 92.1h1.8v1.8h-1.8zM552.2 92.1h1.8v1.8h-1.8zM549.6 146.6h1.8v1.8h-1.8zM555.1 89.6h1.8v1.8h-1.8zM554.0 87.2h1.8v1.8h-1.8zM560.0 102.3h1.8v1.8h-1.8zM558.8 102.7h1.8v1.8h-1.8zM550.9 116.3h1.8v1.8h-1.8zM551.6 101.5h1.8v1.8h-1.8zM557.0 101.4h1.8v1.8h-1.8zM549.3 122.5h1.8v1.8h-1.8zM558.2 100.8h1.8v1.8h-1.8zM553.3 57.0h1.8v1.8h-1.8zM549.9 126.7h1.8v1.8h-1.8zM552.3 39.5h1.8v1.8h-1.8zM558.3 102.2h1.8v1.8h-1.8zM554.9 122.8h1.8v1.8h-1.8zM549.4 90.7h1.8v1.8h-1.8zM556.4 116.2h1.8v1.8h-1.8zM549.4 119.9h1.8v1.8h-1.8zM560.2 94.9h1.8v1.8h-1.8zM547.9 127.4h1.8v1.8h-1.8zM552.5 133.9h1.8v1.8h-1.8zM558.4 146.6h1.8v1.8h-1.8zM557.1 79.2h1.8v1.8h-1.8zM555.4 120.1h1.8v1.8h-1.8zM553.1 92.2h1.8v1.8h-1.8zM550.3 120.8h1.8v1.8h-1.8zM549.9 99.0h1.8v1.8h-1.8zM552.4 101.5h1.8v1.8h-1.8zM552.2 39.5h1.8v1.8h-1.8zM552.5 89.5h1.8v1.8h-1.8zM549.0 102.2h1.8v1.8h-1.8zM559.5 87.1h1.8v1.8h-1.8zM559.3 66.9h1.8v1.8h-1.8zM550.7 126.9h1.8v1.8h-1.8zM550.0 96.6h1.8v1.8h-1.8zM554.6 93.3h1.8v1.8h-1.8zM550.7 116.8h1.8v1.8h-1.8zM559.6 101.5h1.8v1.8h-1.8zM554.8 88.4h1.8v1.8h-1.8zM549.1 116.5h1.8v1.8h-1.8zM550.2 59.3h1.8v1.8h-1.8zM549.1 116.5h1.8v1.8h-1.8zM548.8 88.6h1.8v1.8h-1.8zM552.3 120.0h1.8v1.8h-1.8zM555.5 83.8h1.8v1.8h-1.8zM553.1 116.6h1.8v1.8h-1.8zM558.0 99.2h1.8v1.8h-1.8zM560.9 39.5h1.8v1.8h-1.8zM549.7 102.4h1.8v1.8h-1.8zM554.4 118.8h1.8v1.8h-1.8zM549.8 120.9h1.8v1.8h-1.8zM557.0 96.5h1.8v1.8h-1.8zM559.0 77.9h1.8v1.8h-1.8zM550.8 120.4h1.8v1.8h-1.8zM554.3 117.2h1.8v1.8h-1.8zM553.9 137.1h1.8v1.8h-1.8zM557.5 99.7h1.8v1.8h-1.8zM549.8 100.2h1.8v1.8h-1.8zM553.1 116.9h1.8v1.8h-1.8zM551.9 99.6h1.8v1.8h-1.8zM550.2 56.5h1.8v1.8h-1.8zM551.7 93.9h1.8v1.8h-1.8zM556.0 149.7h1.8v1.8h-1.8zM553.7 116.9h1.8v1.8h-1.8zM557.5 121.9h1.8v1.8h-1.8zM547.8 133.5h1.8v1.8h-1.8zM556.5 120.5h1.8v1.8h-1.8zM560.3 102.0h1.8v1.8h-1.8zM549.9 91.8h1.8v1.8h-1.8zM554.6 119.2h1.8v1.8h-1.8zM552.5 122.2h1.8v1.8h-1.8zM560.1 96.5h1.8v1.8h-1.8zM547.6 101.3h1.8v1.8h-1.8zM560.4 117.6h1.8v1.8h-1.8zM558.2 123.1h1.8v1.8h-1.8zM548.7 101.5h1.8v1.8h-1.8zM553.1 117.1h1.8v1.8h-1.8zM548.4 116.2h1.8v1.8h-1.8zM551.8 128.2h1.8v1.8h-1.8zM554.2 78.8h1.8v1.8h-1.8zM560.9 101.0h1.8v1.8h-1.8zM556.6 121.2h1.8v1.8h-1.8zM549.8 119.5h1.8v1.8h-1.8zM557.6 116.3h1.8v1.8h-1.8zM548.1 99.2h1.8v1.8h-1.8zM549.1 100.7h1.8v1.8h-1.8zM550.2 133.3h1.8v1.8h-1.8zM555.7 121.8h1.8v1.8h-1.8zM556.2 117.1h1.8v1.8h-1.8zM556.5 125.4h1.8v1.8h-1.8zM560.2 98.7h1.8v1.8h-1.8zM555.3 118.9h1.8v1.8h-1.8zM555.1 117.4h1.8v1.8h-1.8zM547.5 98.9h1.8v1.8h-1.8zM558.8 143.8h1.8v1.8h-1.8zM552.8 130.5h1.8v1.8h-1.8zM560.6 117.7h1.8v1.8h-1.8zM549.2 121.7h1.8v1.8h-1.8zM558.0 98.9h1.8v1.8h-1.8zM560.0 121.0h1.8v1.8h-1.8zM554.0 116.6h1.8v1.8h-1.8zM553.8 97.8h1.8v1.8h-1.8zM559.6 133.9h1.8v1.8h-1.8zM555.6 101.4h1.8v1.8h-1.8zM551.6 98.7h1.8v1.8h-1.8zM557.5 118.2h1.8v1.8h-1.8zM547.9 130.9h1.8v1.8h-1.8zM552.3 101.4h1.8v1.8h-1.8zM548.9 94.4h1.8v1.8h-1.8zM557.3 126.0h1.8v1.8h-1.8zM548.0 123.9h1.8v1.8h-1.8zM549.4 120.5h1.8v1.8h-1.8zM560.1 123.4h1.8v1.8h-1.8zM551.1 91.3h1.8v1.8h-1.8zM550.6 132.7h1.8v1.8h-1.8zM559.1 123.8h1.8v1.8h-1.8zM547.7 79.2h1.8v1.8h-1.8zM553.3 58.7h1.8v1.8h-1.8zM552.0 117.4h1.8v1.8h-1.8zM554.6 116.3h1.8v1.8h-1.8zM557.4 102.3h1.8v1.8h-1.8zM552.0 119.9h1.8v1.8h-1.8zM552.0 119.2h1.8v1.8h-1.8zM553.5 92.1h1.8v1.8h-1.8zM548.2 120.1h1.8v1.8h-1.8zM557.2 129.6h1.8v1.8h-1.8zM549.4 138.6h1.8v1.8h-1.8z"/><path fill="#0000ff" d="M542.0 112.1h1.8v1.8h-1.8zM532.9 112.5h1.8v1.8h-1.8zM533.4 110.9h1.8v1.8h-1.8zM561.5 106.3h1.8v1.8h-1.8zM564.0 106.9h1.8v1.8h-1.8zM561.0 104.2h1.8v1.8h-1.8zM570.3 110.7h1.8v1.8h-1.8zM542.8 113.2h1.8v1.8h-1.8zM566.6 114.4h1.8v1.8h-1.8zM510.8 116.0h1.8v1.8h-1.8zM576.2 104.2h1.8v1.8h-1.8zM525.6 112.5h1.8v1.8h-1.8zM565.0 112.3h1.8v1.8h-1.8zM562.0 107.0h1.8v1.8h-1.8zM536.2 113.0h1.8v1.8h-1.8zM562.2 111.0h1.8v1.8h-1.8zM567.2 111.2h1.8v1.8h-1.8zM567.6 111.7h1.8v1.8h-1.8zM575.5 107.8h1.8v1.8h-1.8zM542.9 110.2h1.8v1.8h-1.8zM560.9 105.1h1.8v1.8h-1.8zM512.4 115.4h1.8v1.8h-1.8zM562.7 107.4h1.8v1.8h-1.8zM542.6 106.6h1.8v1.8h-1.8zM536.3 113.8h1.8v1.8h-1.8zM529.1 115.1h1.8v1.8h-1.8zM546.2 111.8h1.8v1.8h-1.8zM540.3 108.6h1.8v1.8h-1.8zM534.0 114.3h1.8v1.8h-1.8zM540.0 108.3h1.8v1.8h-1.8zM543.7 116.0h1.8v1.8h-1.8zM569.9 110.2h1.8v1.8h-1.8zM570.0 112.4h1.8v1.8h-1.8zM524.6 112.7h1.8v1.8h-1.8zM536.0 109.8h1.8v1.8h-1.8zM533.6 111.5h1.8v1.8h-1.8zM561.0 109.2h1.8v1.8h-1.8zM568.2 103.4h1.8v1.8h-1.8zM564.1 109.9h1.8v1.8h-1.8zM546.9 104.7h1.8v1.8h-1.8zM532.1 115.0h1.8v1.8h-1.8zM564.5 103.9h1.8v1.8h-1.8zM546.8 106.1h1.8v1.8h-1.8zM537.5 115.5h1.8v1.8h-1.8zM544.4 109.3h1.8v1.8h-1.8zM572.1 108.5h1.8v1.8h-1.8zM518.5 114.5h1.8v1.8h-1.8zM561.2 104.1h1.8v1.8h-1.8zM521.3 114.7h1.8v1.8h-1.8zM572.6 106.5h1.8v1.8h-1.8zM536.5 113.9h1.8v1.8h-1.8zM522.3 114.6h1.8v1.8h-1.8zM539.5 111.2h1.8v1.8h-1.8zM528.8 109.8h1.8v1.8h-1.8zM540.5 114.5h1.8v1.8h-1.8zM562.8 110.9h1.8v1.8h-1.8zM563.4 102.9h1.8v1.8h-1.8zM547.4 109.6h1.8v1.8h-1.8zM561.4 109.8h1.8v1.8h-1.8zM562.0 105.1h1.8v1.8h-1.8zM542.0 109.4h1.8v1.8h-1.8zM541.5 105.1h1.8v1.8h-1.8zM561.9 114.0h1.8v1.8h-1.8zM533.7 115.9h1.8v1.8h-1.8zM567.1 111.7h1.8v1.8h-1.8zM544.0 107.8h1.8v1.8h-1.8zM542.8 107.6h1.8v1.8h-1.8zM562.4 109.7h1.8v1.8h-1.8zM537.9 113.0h1.8v1.8h-1.8zM546.9 108.7h1.8v1.8h-1.8zM524.0 112.2h1.8v1.8h-1.8zM507.9 112.5h1.8v1.8h-1.8zM541.0 107.2h1.8v1.8h-1.8zM577.9 106.4h1.8v1.8h-1.8zM562.5 106.1h1.8v1.8h-1.8zM539.7 110.4h1.8v1.8h-1.8zM563.9 115.6h1.8v1.8h-1.8zM544.3 116.2h1.8v1.8h-1.8zM542.6 111.0h1.8v1.8h-1.8zM543.8 108.1h1.8v1.8h-1.8zM534.5 115.0h1.8v1.8h-1.8zM564.4 110.7h1.8v1.8h-1.8zM562.1 106.4h1.8v1.8h-1.8zM534.8 116.1h1.8v1.8h-1.8zM540.1 108.3h1.8v1.8h-1.8zM531.6 114.3h1.8v1.8h-1.8zM562.7 108.4h1.8v1.8h-1.8zM539.0 112.9h1.8v1.8h-1.8zM538.7 107.7h1.8v1.8h-1.8zM537.0 115.5h1.8v1.8h-1.8zM515.0 113.1h1.8v1.8h-1.8zM539.0 109.9h1.8v1.8h-1.8zM561.7 103.4h1.8v1.8h-1.8zM545.7 114.2h1.8v1.8h-1.8zM540.9 115.0h1.8v1.8h-1.8zM529.5 112.8h1.8v1.8h-1.8zM567.6 108.7h1.8v1.8h-1.8zM538.0 110.0h1.8v1.8h-1.8zM563.3 109.1h1.8v1.8h-1.8zM570.3 111.1h1.8v1.8h-1.8zM521.3 113.9h1.8v1.8h-1.8zM546.0 114.3h1.8v1.8h-1.8zM569.6 104.1h1.8v1.8h-1.8zM566.3 105.5h1.8v1.8h-1.8zM525.9 110.1h1.8v1.8h-1.8zM566.5 104.4h1.8v1.8h-1.8zM565.2 106.5h1.8v1.8h-1.8zM563.9 104.7h1.8v1.8h-1.8zM544.1 110.9h1.8v1.8h-1.8zM527.7 110.7h1.8v1.8h-1.8zM566.6 105.7h1.8v1.8h-1.8zM540.5 109.5h1.8v1.8h-1.8zM565.3 112.9h1.8v1.8h-1.8zM534.8 110.1h1.8v1.8h-1.8zM561.0 113.9h1.8v1.8h-1.8zM523.5 113.0h1.8v1.8h-1.8zM541.1 107.0h1.8v1.8h-1.8zM526.6 113.9h1.8v1.8h-1.8zM571.6 109.0h1.8v1.8h-1.8zM539.3 111.1h1.8v1.8h-1.8zM539.0 109.3h1.8v1.8h-1.8zM547.1 108.0h1.8v1.8h-1.8zM539.4 110.0h1.8v1.8h-1.8zM570.4 104.1h1.8v1.8h-1.8zM547.0 103.2h1.8v1.8h-1.8zM537.6 115.1h1.8v1.8h-1.8zM541.6 110.4h1.8v1.8h-1.8zM562.6 104.9h1.8v1.8h-1.8zM547.1 112.3h1.8v1.8h-1.8zM564.6 106.0h1.8v1.8h-1.8zM540.4 110.7h1.8v1.8h-1.8zM540.0 107.6h1.8v1.8h-1.8zM544.3 112.8h1.8v1.8h-1.8zM573.0 111.8h1.8v1.8h-1.8zM570.3 104.4h1.8v1.8h-1.8zM574.5 112.0h1.8v1.8h-1.8zM540.4 114.5h1.8v1.8h-1.8zM561.0 109.4h1.8v1.8h-1.8zM527.0 113.3h1.8v1.8h-1.8zM542.5 113.9h1.8v1.8h-1.8zM566.1 107.5h1.8v1.8h-1.8zM546.3 111.6h1.8v1.8h-1.8zM542.7 112.1h1.8v1.8h-1.8zM575.1 106.7h1.8v1.8h-1.8zM544.6 110.5h1.8v1.8h-1.8zM565.5 108.6h1.8v1.8h-1.8zM572.7 103.6h1.8v1.8h-1.8zM547.0 104.5h1.8v1.8h-1.8zM561.3 108.4h1.8v1.8h-1.8zM563.8 104.2h1.8v1.8h-1.8zM543.9 112.5h1.8v1.8h-1.8zM535.5 110.6h1.8v1.8h-1.8zM535.6 114.5h1.8v1.8h-1.8zM531.6 113.4h1.8v1.8h-1.8zM573.3 106.5h1.8v1.8h-1.8zM528.9 109.0h1.8v1.8h-1.8zM566.5 110.6h1.8v1.8h-1.8zM567.3 113.2h1.8v1.8h-1.8zM523.8 114.7h1.8v1.8h-1.8zM566.0 111.8h1.8v1.8h-1.8zM544.9 111.3h1.8v1.8h-1.8zM563.2 103.6h1.8v1.8h-1.8zM568.5 103.0h1.8v1.8h-1.8zM546.2 107.5h1.8v1.8h-1.8zM530.1 113.2h1.8v1.8h-1.8zM571.2 107.1h1.8v1.8h-1.8zM540.8 112.9h1.8v1.8h-1.8zM538.9 110.0h1.8v1.8h-1.8zM566.5 112.6h1.8v1.8h-1.8zM533.6 112.8h1.8v1.8h-1.8zM562.5 113.2h1.8v1.8h-1.8zM568.1 107.0h1.8v1.8h-1.8zM520.7 113.2h1.8v1.8h-1.8zM540.3 114.5h1.8v1.8h-1.8zM538.7 114.3h1.8v1.8h-1.8zM574.1 108.3h1.8v1.8h-1.8zM517.1 114.2h1.8v1.8h-1.8zM546.7 113.1h1.8v1.8h-1.8zM562.3 104.5h1.8v1.8h-1.8zM515.9 112.8h1.8v1.8h-1.8zM528.3 113.5h1.8v1.8h-1.8zM538.5 106.8h1.8v1.8h-1.8zM546.1 110.8h1.8v1.8h-1.8zM513.5 115.2h1.8v1.8h-1.8zM571.2 107.8h1.8v1.8h-1.8zM544.1 108.6h1.8v1.8h-1.8zM540.4 114.5h1.8v1.8h-1.8zM546.7 103.6h1.8v1.8h-1.8zM534.3 114.1h1.8v1.8h-1.8zM543.8 111.4h1.8v1.8h-1.8zM536.9 108.7h1.8v1.8h-1.8zM535.8 109.9h1.8v1.8h-1.8zM562.7 115.6h1.8v1.8h-1.8zM562.6 102.9h1.8v1.8h-1.8zM580.8 103.5h1.8v1.8h-1.8zM567.7 112.8h1.8v1.8h-1.8zM568.0 114.7h1.8v1.8h-1.8zM563.4 114.9h1.8v1.8h-1.8zM544.9 110.8h1.8v1.8h-1.8zM538.7 109.5h1.8v1.8h-1.8zM543.0 112.7h1.8v1.8h-1.8zM541.9 108.7h1.8v1.8h-1.8zM561.4 109.8h1.8v1.8h-1.8zM543.5 113.4h1.8v1.8h-1.8zM541.7 108.6h1.8v1.8h-1.8zM562.1 109.5h1.8v1.8h-1.8zM543.4 107.7h1.8v1.8h-1.8zM562.6 113.7h1.8v1.8h-1.8zM566.8 111.1h1.8v1.8h-1.8zM561.1 114.0h1.8v1.8h-1.8zM547.0 104.5h1.8v1.8h-1.8zM538.4 111.4h1.8v1.8h-1.8zM541.0 104.1h1.8v1.8h-1.8zM563.6 107.7h1.8v1.8h-1.8zM563.5 109.3h1.8v1.8h-1.8zM562.1 108.5h1.8v1.8h-1.8zM543.5 104.9h1.8v1.8h-1.8zM566.3 105.3h1.8v1.8h-1.8zM519.0 114.6h1.8v1.8h-1.8zM537.0 114.0h1.8v1.8h-1.8zM534.7 111.6h1.8v1.8h-1.8zM564.9 105.0h1.8v1.8h-1.8zM582.8 110.0h1.8v1.8h-1.8zM566.9 104.6h1.8v1.8h-1.8zM569.8 108.2h1.8v1.8h-1.8zM538.8 115.1h1.8v1.8h-1.8zM537.0 105.4h1.8v1.8h-1.8zM532.8 113.2h1.8v1.8h-1.8zM545.8 115.0h1.8v1.8h-1.8zM566.2 104.4h1.8v1.8h-1.8zM534.4 115.8h1.8v1.8h-1.8zM561.2 110.4h1.8v1.8h-1.8zM531.2 116.0h1.8v1.8h-1.8zM546.9 107.5h1.8v1.8h-1.8zM543.5 107.4h1.8v1.8h-1.8zM574.9 104.6h1.8v1.8h-1.8zM545.2 113.7h1.8v1.8h-1.8zM519.8 112.3h1.8v1.8h-1.8zM546.5 114.4h1.8v1.8h-1.8zM562.1 105.3h1.8v1.8h-1.8zM567.2 106.5h1.8v1.8h-1.8zM544.4 110.9h1.8v1.8h-1.8zM564.9 105.5h1.8v1.8h-1.8zM535.7 113.8h1.8v1.8h-1.8zM537.7 115.7h1.8v1.8h-1.8zM539.3 107.4h1.8v1.8h-1.8zM529.4 110.4h1.8v1.8h-1.8zM542.5 110.2h1.8v1.8h-1.8zM515.6 112.7h1.8v1.8h-1.8zM544.2 106.6h1.8v1.8h-1.8zM562.0 106.2h1.8v1.8h-1.8zM561.1 108.0h1.8v1.8h-1.8zM544.9 106.1h1.8v1.8h-1.8zM547.4 115.3h1.8v1.8h-1.8zM561.4 107.0h1.8v1.8h-1.8zM533.7 114.0h1.8v1.8h-1.8zM562.6 105.0h1.8v1.8h-1.8zM547.3 110.0h1.8v1.8h-1.8zM537.0 111.4h1.8v1.8h-1.8zM539.7 115.1h1.8v1.8h-1.8zM563.6 110.6h1.8v1.8h-1.8zM521.2 113.4h1.8v1.8h-1.8zM545.7 108.4h1.8v1.8h-1.8zM561.9 112.6h1.8v1.8h-1.8zM539.5 114.7h1.8v1.8h-1.8zM544.5 109.4h1.8v1.8h-1.8zM543.4 114.1h1.8v1.8h-1.8zM544.5 111.3h1.8v1.8h-1.8zM540.3 115.9h1.8v1.8h-1.8zM562.0 110.6h1.8v1.8h-1.8zM541.2 105.9h1.8v1.8h-1.8zM536.2 109.2h1.8v1.8h-1.8zM544.7 113.0h1.8v1.8h-1.8zM538.7 110.0h1.8v1.8h-1.8zM562.8 104.3h1.8v1.8h-1.8zM541.5 111.5h1.8v1.8h-1.8zM544.9 115.1h1.8v1.8h-1.8zM565.1 113.7h1.8v1.8h-1.8zM536.2 115.5h1.8v1.8h-1.8zM524.2 114.4h1.8v1.8h-1.8zM567.0 105.2h1.8v1.8h-1.8zM570.3 109.5h1.8v1.8h-1.8zM564.8 105.7h1.8v1.8h-1.8zM534.7 110.3h1.8v1.8h-1.8zM574.4 105.6h1.8v1.8h-1.8zM539.2 112.4h1.8v1.8h-1.8zM537.5 113.2h1.8v1.8h-1.8zM544.5 110.4h1.8v1.8h-1.8zM562.9 105.9h1.8v1.8h-1.8zM530.7 112.7h1.8v1.8h-1.8zM568.0 109.6h1.8v1.8h-1.8zM538.9 115.8h1.8v1.8h-1.8zM574.3 106.0h1.8v1.8h-1.8zM545.5 108.6h1.8v1.8h-1.8zM545.1 111.2h1.8v1.8h-1.8zM571.7 104.9h1.8v1.8h-1.8zM516.9 113.1h1.8v1.8h-1.8zM547.1 104.2h1.8v1.8h-1.8zM563.0 110.1h1.8v1.8h-1.8zM542.9 104.0h1.8v1.8h-1.8zM564.5 104.7h1.8v1.8h-1.8zM561.5 111.2h1.8v1.8h-1.8zM513.9 113.6h1.8v1.8h-1.8zM514.6 111.6h1.8v1.8h-1.8zM536.6 112.2h1.8v1.8h-1.8zM535.8 110.5h1.8v1.8h-1.8zM544.6 108.2h1.8v1.8h-1.8zM526.8 116.0h1.8v1.8h-1.8zM545.1 112.6h1.8v1.8h-1.8zM567.1 104.0h1.8v1.8h-1.8zM544.0 104.7h1.8v1.8h-1.8zM539.3 112.5h1.8v1.8h-1.8zM565.4 108.8h1.8v1.8h-1.8zM564.0 107.9h1.8v1.8h-1.8zM566.7 108.2h1.8v1.8h-1.8zM565.0 108.2h1.8v1.8h-1.8zM565.0 105.8h1.8v1.8h-1.8zM516.7 112.2h1.8v1.8h-1.8zM523.4 116.1h1.8v1.8h-1.8zM561.1 109.7h1.8v1.8h-1.8zM563.1 108.0h1.8v1.8h-1.8zM566.4 102.8h1.8v1.8h-1.8zM541.9 114.3h1.8v1.8h-1.8zM567.4 106.5h1.8v1.8h-1.8zM542.6 112.1h1.8v1.8h-1.8zM545.8 109.5h1.8v1.8h-1.8zM563.9 104.4h1.8v1.8h-1.8zM540.4 108.6h1.8v1.8h-1.8zM546.1 103.0h1.8v1.8h-1.8zM536.3 114.0h1.8v1.8h-1.8zM571.1 113.8h1.8v1.8h-1.8zM565.8 104.9h1.8v1.8h-1.8zM574.7 112.5h1.8v1.8h-1.8zM527.8 114.1h1.8v1.8h-1.8zM541.9 105.9h1.8v1.8h-1.8zM537.4 110.9h1.8v1.8h-1.8zM565.5 105.2h1.8v1.8h-1.8zM565.7 104.7h1.8v1.8h-1.8zM503.5 113.6h1.8v1.8h-1.8zM570.1 103.2h1.8v1.8h-1.8zM532.2 115.9h1.8v1.8h-1.8zM570.1 105.9h1.8v1.8h-1.8zM541.8 113.3h1.8v1.8h-1.8zM533.5 115.5h1.8v1.8h-1.8zM545.0 112.5h1.8v1.8h-1.8zM545.1 109.1h1.8v1.8h-1.8zM562.8 108.6h1.8v1.8h-1.8zM570.9 105.5h1.8v1.8h-1.8zM564.9 111.7h1.8v1.8h-1.8zM563.5 103.5h1.8v1.8h-1.8zM571.1 104.0h1.8v1.8h-1.8zM540.2 110.0h1.8v1.8h-1.8zM538.8 110.1h1.8v1.8h-1.8zM534.8 115.5h1.8v1.8h-1.8zM536.2 115.1h1.8v1.8h-1.8zM564.3 104.4h1.8v1.8h-1.8zM545.8 115.8h1.8v1.8h-1.8zM523.1 115.9h1.8v1.8h-1.8zM539.9 108.6h1.8v1.8h-1.8zM535.8 112.6h1.8v1.8h-1.8zM564.5 109.2h1.8v1.8h-1.8zM526.0 114.5h1.8v1.8h-1.8zM539.8 113.8h1.8v1.8h-1.8zM580.6 106.0h1.8v1.8h-1.8zM566.1 109.0h1.8v1.8h-1.8zM561.3 112.7h1.8v1.8h-1.8zM565.2 106.6h1.8v1.8h-1.8zM574.1 103.5h1.8v1.8h-1.8zM564.7 112.5h1.8v1.8h-1.8zM530.2 112.0h1.8v1.8h-1.8zM525.0 114.2h1.8v1.8h-1.8zM536.7 114.1h1.8v1.8h-1.8zM570.0 110.4h1.8v1.8h-1.8zM562.0 111.0h1.8v1.8h-1.8zM562.0 108.6h1.8v1.8h-1.8zM531.0 113.0h1.8v1.8h-1.8zM529.6 112.8h1.8v1.8h-1.8zM544.6 112.5h1.8v1.8h-1.8zM532.5 112.8h1.8v1.8h-1.8zM547.2 104.3h1.8v1.8h-1.8zM546.9 110.3h1.8v1.8h-1.8zM545.8 108.3h1.8v1.8h-1.8zM562.6 107.4h1.8v1.8h-1.8zM539.7 113.8h1.8v1.8h-1.8zM544.4 110.1h1.8v1.8h-1.8zM545.3 110.8h1.8v1.8h-1.8zM562.8 113.5h1.8v1.8h-1.8zM570.0 113.5h1.8v1.8h-1.8zM545.7 108.4h1.8v1.8h-1.8zM528.6 109.9h1.8v1.8h-1.8zM537.2 113.9h1.8v1.8h-1.8zM538.7 111.0h1.8v1.8h-1.8zM544.0 103.5h1.8v1.8h-1.8zM542.9 109.3h1.8v1.8h-1.8zM561.7 114.8h1.8v1.8h-1.8zM544.2 107.0h1.8v1.8h-1.8zM562.3 104.7h1.8v1.8h-1.8zM537.3 110.3h1.8v1.8h-1.8zM574.3 104.1h1.8v1.8h-1.8zM538.1 114.8h1.8v1.8h-1.8zM562.2 111.9h1.8v1.8h-1.8zM547.3 108.1h1.8v1.8h-1.8zM564.7 106.4h1.8v1.8h-1.8zM516.8 110.9h1.8v1.8h-1.8zM578.9 109.9h1.8v1.8h-1.8zM538.1 105.9h1.8v1.8h-1.8zM536.7 107.8h1.8v1.8h-1.8zM565.4 110.2h1.8v1.8h-1.8zM544.2 109.8h1.8v1.8h-1.8zM562.6 115.1h1.8v1.8h-1.8zM563.0 106.1h1.8v1.8h-1.8zM542.2 109.6h1.8v1.8h-1.8zM544.7 108.2h1.8v1.8h-1.8zM540.2 111.9h1.8v1.8h-1.8zM563.9 104.0h1.8v1.8h-1.8zM518.6 110.3h1.8v1.8h-1.8zM571.5 114.6h1.8v1.8h-1.8zM532.9 109.6h1.8v1.8h-1.8zM565.1 116.2h1.8v1.8h-1.8zM573.1 110.0h1.8v1.8h-1.8zM534.3 115.7h1.8v1.8h-1.8zM527.8 115.1h1.8v1.8h-1.8zM547.3 113.0h1.8v1.8h-1.8zM563.0 111.2h1.8v1.8h-1.8zM546.6 108.9h1.8v1.8h-1.8zM565.0 107.4h1.8v1.8h-1.8zM565.8 105.5h1.8v1.8h-1.8zM544.4 108.7h1.8v1.8h-1.8zM547.4 107.8h1.8v1.8h-1.8zM561.7 108.4h1.8v1.8h-1.8zM533.9 113.1h1.8v1.8h-1.8zM540.6 113.0h1.8v1.8h-1.8zM542.3 109.6h1.8v1.8h-1.8zM562.5 102.9h1.8v1.8h-1.8zM542.0 108.4h1.8v1.8h-1.8zM546.2 108.2h1.8v1.8h-1.8zM574.3 103.5h1.8v1.8h-1.8zM546.0 106.8h1.8v1.8h-1.8zM529.5 110.7h1.8v1.8h-1.8zM569.0 103.0h1.8v1.8h-1.8zM546.2 105.3h1.8v1.8h-1.8zM546.5 109.2h1.8v1.8h-1.8zM563.4 107.5h1.8v1.8h-1.8zM546.8 115.7h1.8v1.8h-1.8zM537.9 111.1h1.8v1.8h-1.8zM542.8 108.1h1.8v1.8h-1.8zM563.2 116.0h1.8v1.8h-1.8zM562.2 104.3h1.8v1.8h-1.8zM547.0 111.8h1.8v1.8h-1.8zM561.9 111.1h1.8v1.8h-1.8zM564.6 107.2h1.8v1.8h-1.8zM565.5 107.2h1.8v1.8h-1.8zM546.7 106.8h1.8v1.8h-1.8zM544.0 112.0h1.8v1.8h-1.8zM573.6 106.6h1.8v1.8h-1.8zM528.5 110.7h1.8v1.8h-1.8zM544.3 111.4h1.8v1.8h-1.8zM563.0 110.9h1.8v1.8h-1.8zM572.0 111.9h1.8v1.8h-1.8zM562.8 110.6h1.8v1.8h-1.8zM542.2 107.7h1.8v1.8h-1.8zM545.8 109.0h1.8v1.8h-1.8zM570.1 108.7h1.8v1.8h-1.8zM573.8 109.7h1.8v1.8h-1.8zM563.2 111.3h1.8v1.8h-1.8zM528.6 113.2h1.8v1.8h-1.8zM579.6 108.1h1.8v1.8h-1.8zM531.1 115.6h1.8v1.8h-1.8zM583.6 106.1h1.8v1.8h-1.8zM530.2 112.0h1.8v1.8h-1.8zM564.0 103.8h1.8v1.8h-1.8zM508.5 111.9h1.8v1.8h-1.8zM547.1 105.6h1.8v1.8h-1.8zM540.0 111.7h1.8v1.8h-1.8zM561.6 105.6h1.8v1.8h-1.8zM534.1 111.7h1.8v1.8h-1.8zM538.6 103.8h1.8v1.8h-1.8zM532.8 110.8h1.8v1.8h-1.8zM531.9 109.2h1.8v1.8h-1.8zM541.7 110.2h1.8v1.8h-1.8zM533.4 111.1h1.8v1.8h-1.8zM506.7 113.8h1.8v1.8h-1.8zM569.9 103.4h1.8v1.8h-1.8zM546.0 108.3h1.8v1.8h-1.8zM541.2 105.6h1.8v1.8h-1.8zM545.3 104.2h1.8v1.8h-1.8zM537.4 113.7h1.8v1.8h-1.8zM536.6 110.6h1.8v1.8h-1.8zM543.0 113.0h1.8v1.8h-1.8zM538.5 115.1h1.8v1.8h-1.8zM532.9 116.1h1.8v1.8h-1.8zM516.5 114.7h1.8v1.8h-1.8zM546.7 108.5h1.8v1.8h-1.8zM535.4 109.7h1.8v1.8h-1.8zM540.4 115.3h1.8v1.8h-1.8zM568.6 107.7h1.8v1.8h-1.8zM542.8 113.3h1.8v1.8h-1.8zM562.5 106.0h1.8v1.8h-1.8zM567.6 104.1h1.8v1.8h-1.8zM546.2 104.6h1.8v1.8h-1.8zM566.2 112.0h1.8v1.8h-1.8zM562.6 109.0h1.8v1.8h-1.8zM546.9 105.2h1.8v1.8h-1.8zM541.8 110.6h1.8v1.8h-1.8zM538.2 113.2h1.8v1.8h-1.8zM538.5 109.8h1.8v1.8h-1.8zM562.0 109.2h1.8v1.8h-1.8zM568.7 107.4h1.8v1.8h-1.8zM573.1 105.0h1.8v1.8h-1.8zM565.0 111.9h1.8v1.8h-1.8zM535.3 114.8h1.8v1.8h-1.8zM528.0 115.0h1.8v1.8h-1.8zM543.2 110.0h1.8v1.8h-1.8zM577.1 106.0h1.8v1.8h-1.8zM528.2 110.3h1.8v1.8h-1.8zM538.6 107.1h1.8v1.8h-1.8zM563.3 104.1h1.8v1.8h-1.8zM540.1 112.6h1.8v1.8h-1.8zM518.4 110.6h1.8v1.8h-1.8zM541.4 106.9h1.8v1.8h-1.8zM574.0 102.9h1.8v1.8h-1.8zM540.6 111.5h1.8v1.8h-1.8zM565.6 104.3h1.8v1.8h-1.8zM541.0 109.1h1.8v1.8h-1.8zM532.4 113.8h1.8v1.8h-1.8zM569.5 104.6h1.8v1.8h-1.8zM571.8 105.4h1.8v1.8h-1.8zM565.9 104.1h1.8v1.8h-1.8zM561.1 110.1h1.8v1.8h-1.8zM515.5 114.1h1.8v1.8h-1.8zM563.1 110.0h1.8v1.8h-1.8zM569.9 108.5h1.8v1.8h-1.8zM542.8 112.6h1.8v1.8h-1.8zM537.2 112.8h1.8v1.8h-1.8zM539.1 114.9h1.8v1.8h-1.8zM547.3 114.1h1.8v1.8h-1.8zM542.7 113.7h1.8v1.8h-1.8zM546.1 111.0h1.8v1.8h-1.8zM547.2 107.7h1.8v1.8h-1.8zM567.9 109.1h1.8v1.8h-1.8zM532.5 112.7h1.8v1.8h-1.8zM522.4 110.2h1.8v1.8h-1.8zM562.2 105.3h1.8v1.8h-1.8zM562.6 105.1h1.8v1.8h-1.8zM541.1 103.9h1.8v1.8h-1.8zM572.4 107.2h1.8v1.8h-1.8zM529.3 115.6h1.8v1.8h-1.8zM529.6 115.1h1.8v1.8h-1.8zM566.6 103.6h1.8v1.8h-1.8zM538.4 111.5h1.8v1.8h-1.8zM544.6 105.5h1.8v1.8h-1.8zM563.3 107.4h1.8v1.8h-1.8zM546.4 114.4h1.8v1.8h-1.8zM563.0 105.3h1.8v1.8h-1.8zM537.8 114.9h1.8v1.8h-1.8zM545.9 108.6h1.8v1.8h-1.8zM531.8 112.7h1.8v1.8h-1.8zM561.0 107.4h1.8v1.8h-1.8zM570.1 106.6h1.8v1.8h-1.8zM543.0 109.5h1.8v1.8h-1.8zM541.5 105.3h1.8v1.8h-1.8zM567.0 103.6h1.8v1.8h-1.8zM539.2 112.1h1.8v1.8h-1.8zM526.7 115.1h1.8v1.8h-1.8zM545.7 106.3h1.8v1.8h-1.8zM566.8 109.6h1.8v1.8h-1.8zM546.6 105.7h1.8v1.8h-1.8zM534.5 112.8h1.8v1.8h-1.8zM534.6 112.6h1.8v1.8h-1.8zM537.7 113.9h1.8v1.8h-1.8zM540.6 109.1h1.8v1.8h-1.8zM561.6 102.9h1.8v1.8h-1.8zM546.0 113.1h1.8v1.8h-1.8zM541.4 114.9h1.8v1.8h-1.8zM538.5 113.2h1.8v1.8h-1.8zM543.4 109.2h1.8v1.8h-1.8zM528.4 110.3h1.8v1.8h-1.8zM544.2 108.1h1.8v1.8h-1.8zM542.6 113.0h1.8v1.8h-1.8zM567.3 114.9h1.8v1.8h-1.8zM563.0 104.0h1.8v1.8h-1.8zM572.1 103.8h1.8v1.8h-1.8zM547.4 113.4h1.8v1.8h-1.8zM537.1 112.5h1.8v1.8h-1.8zM561.8 105.0h1.8v1.8h-1.8zM529.3 113.7h1.8v1.8h-1.8zM535.4 115.6h1.8v1.8h-1.8zM561.6 103.2h1.8v1.8h-1.8zM565.5 105.3h1.8v1.8h-1.8zM564.9 114.5h1.8v1.8h-1.8zM531.6 114.6h1.8v1.8h-1.8zM570.3 103.8h1.8v1.8h-1.8zM540.6 110.0h1.8v1.8h-1.8zM507.5 110.8h1.8v1.8h-1.8zM545.5 107.5h1.8v1.8h-1.8zM567.6 112.2h1.8v1.8h-1.8zM546.6 112.0h1.8v1.8h-1.8zM537.5 111.9h1.8v1.8h-1.8zM541.4 106.0h1.8v1.8h-1.8zM546.1 114.3h1.8v1.8h-1.8zM531.1 114.5h1.8v1.8h-1.8zM530.4 115.6h1.8v1.8h-1.8zM540.6 110.8h1.8v1.8h-1.8zM567.2 108.8h1.8v1.8h-1.8zM565.3 103.4h1.8v1.8h-1.8zM571.9 106.1h1.8v1.8h-1.8zM535.5 115.1h1.8v1.8h-1.8zM547.0 111.0h1.8v1.8h-1.8zM544.9 109.4h1.8v1.8h-1.8zM533.1 113.5h1.8v1.8h-1.8zM543.1 115.4h1.8v1.8h-1.8zM562.0 108.4h1.8v1.8h-1.8zM539.8 113.0h1.8v1.8h-1.8zM544.5 114.3h1.8v1.8h-1.8zM564.1 107.8h1.8v1.8h-1.8zM542.2 109.0h1.8v1.8h-1.8zM538.3 105.9h1.8v1.8h-1.8zM545.7 114.9h1.8v1.8h-1.8zM532.3 115.6h1.8v1.8h-1.8zM527.0 115.9h1.8v1.8h-1.8zM517.5 111.7h1.8v1.8h-1.8zM566.0 105.1h1.8v1.8h-1.8zM561.6 106.4h1.8v1.8h-1.8zM541.5 114.3h1.8v1.8h-1.8zM546.0 109.5h1.8v1.8h-1.8zM533.4 113.2h1.8v1.8h-1.8zM546.9 109.5h1.8v1.8h-1.8zM532.8 109.1h1.8v1.8h-1.8zM543.4 109.2h1.8v1.8h-1.8zM531.3 110.3h1.8v1.8h-1.8zM536.2 110.9h1.8v1.8h-1.8zM562.1 104.0h1.8v1.8h-1.8zM529.4 113.4h1.8v1.8h-1.8zM543.5 107.3h1.8v1.8h-1.8zM526.3 111.0h1.8v1.8h-1.8zM540.3 109.8h1.8v1.8h-1.8zM545.3 110.2h1.8v1.8h-1.8zM547.1 105.4h1.8v1.8h-1.8zM538.7 112.1h1.8v1.8h-1.8zM570.2 109.6h1.8v1.8h-1.8zM516.4 114.8h1.8v1.8h-1.8zM538.4 111.1h1.8v1.8h-1.8zM561.5 106.9h1.8v1.8h-1.8zM537.1 115.1h1.8v1.8h-1.8zM538.4 115.7h1.8v1.8h-1.8zM542.3 110.8h1.8v1.8h-1.8zM530.3 109.6h1.8v1.8h-1.8zM542.6 105.4h1.8v1.8h-1.8zM544.6 108.9h1.8v1.8h-1.8zM530.3 111.3h1.8v1.8h-1.8zM524.9 110.9h1.8v1.8h-1.8zM543.4 113.2h1.8v1.8h-1.8zM542.9 108.4h1.8v1.8h-1.8zM541.9 110.7h1.8v1.8h-1.8zM536.3 115.6h1.8v1.8h-1.8zM528.8 115.9h1.8v1.8h-1.8zM538.3 109.4h1.8v1.8h-1.8zM571.4 108.2h1.8v1.8h-1.8zM534.3 112.9h1.8v1.8h-1.8zM566.0 106.3h1.8v1.8h-1.8zM571.6 108.6h1.8v1.8h-1.8zM562.2 110.6h1.8v1.8h-1.8zM542.1 110.9h1.8v1.8h-1.8zM541.4 115.4h1.8v1.8h-1.8zM567.7 110.9h1.8v1.8h-1.8zM547.3 105.6h1.8v1.8h-1.8zM530.9 114.6h1.8v1.8h-1.8zM547.0 109.4h1.8v1.8h-1.8zM576.5 105.8h1.8v1.8h-1.8zM539.1 113.6h1.8v1.8h-1.8zM541.6 115.2h1.8v1.8h-1.8zM565.0 107.7h1.8v1.8h-1.8zM566.0 105.3h1.8v1.8h-1.8zM538.6 115.5h1.8v1.8h-1.8zM536.8 111.9h1.8v1.8h-1.8zM546.7 108.9h1.8v1.8h-1.8zM563.5 110.6h1.8v1.8h-1.8zM516.3 111.2h1.8v1.8h-1.8zM537.2 110.7h1.8v1.8h-1.8zM541.0 113.3h1.8v1.8h-1.8zM564.4 106.2h1.8v1.8h-1.8zM567.0 104.6h1.8v1.8h-1.8zM547.4 111.8h1.8v1.8h-1.8zM573.7 103.7h1.8v1.8h-1.8zM539.3 111.9h1.8v1.8h-1.8zM568.8 113.6h1.8v1.8h-1.8zM567.0 105.5h1.8v1.8h-1.8zM561.8 110.4h1.8v1.8h-1.8zM539.1 112.7h1.8v1.8h-1.8zM543.9 111.0h1.8v1.8h-1.8zM538.1 111.7h1.8v1.8h-1.8zM579.0 105.5h1.8v1.8h-1.8zM546.3 113.8h1.8v1.8h-1.8zM572.2 103.7h1.8v1.8h-1.8zM534.6 107.6h1.8v1.8h-1.8zM575.2 110.8h1.8v1.8h-1.8zM540.5 111.1h1.8v1.8h-1.8zM525.0 110.7h1.8v1.8h-1.8zM543.9 114.1h1.8v1.8h-1.8zM569.1 103.0h1.8v1.8h-1.8zM513.3 114.0h1.8v1.8h-1.8zM566.7 104.4h1.8v1.8h-1.8zM521.4 113.1h1.8v1.8h-1.8zM539.3 114.1h1.8v1.8h-1.8zM530.9 109.6h1.8v1.8h-1.8zM562.1 115.3h1.8v1.8h-1.8zM563.3 106.2h1.8v1.8h-1.8zM541.3 114.6h1.8v1.8h-1.8zM519.1 113.7h1.8v1.8h-1.8zM520.9 114.4h1.8v1.8h-1.8zM546.4 110.5h1.8v1.8h-1.8zM562.6 104.8h1.8v1.8h-1.8zM565.7 107.5h1.8v1.8h-1.8zM568.4 105.7h1.8v1.8h-1.8zM568.7 114.4h1.8v1.8h-1.8zM565.0 108.2h1.8v1.8h-1.8zM543.1 111.9h1.8v1.8h-1.8zM532.9 110.8h1.8v1.8h-1.8zM546.3 103.2h1.8v1.8h-1.8zM577.2 107.3h1.8v1.8h-1.8zM513.3 114.0h1.8v1.8h-1.8zM546.6 103.2h1.8v1.8h-1.8zM564.4 107.9h1.8v1.8h-1.8zM561.0 113.6h1.8v1.8h-1.8zM533.3 115.8h1.8v1.8h-1.8zM562.9 112.3h1.8v1.8h-1.8zM573.7 103.7h1.8v1.8h-1.8zM528.9 110.3h1.8v1.8h-1.8zM563.0 105.2h1.8v1.8h-1.8zM569.7 109.7h1.8v1.8h-1.8zM540.3 113.0h1.8v1.8h-1.8zM561.6 110.9h1.8v1.8h-1.8zM536.9 108.7h1.8v1.8h-1.8zM563.7 104.0h1.8v1.8h-1.8zM571.3 107.1h1.8v1.8h-1.8zM565.9 106.0h1.8v1.8h-1.8zM537.1 112.0h1.8v1.8h-1.8zM569.5 108.1h1.8v1.8h-1.8zM537.5 106.1h1.8v1.8h-1.8zM562.6 104.9h1.8v1.8h-1.8zM565.8 109.0h1.8v1.8h-1.8zM573.0 104.7h1.8v1.8h-1.8zM567.0 109.2h1.8v1.8h-1.8zM564.4 108.8h1.8v1.8h-1.8zM539.9 115.1h1.8v1.8h-1.8zM527.6 113.8h1.8v1.8h-1.8zM539.8 103.9h1.8v1.8h-1.8zM545.8 109.9h1.8v1.8h-1.8zM518.6 112.8h1.8v1.8h-1.8zM543.3 107.4h1.8v1.8h-1.8zM561.9 110.1h1.8v1.8h-1.8zM544.4 115.9h1.8v1.8h-1.8zM539.3 111.1h1.8v1.8h-1.8zM540.3 107.4h1.8v1.8h-1.8zM538.2 113.9h1.8v1.8h-1.8zM564.2 111.2h1.8v1.8h-1.8zM539.8 110.7h1.8v1.8h-1.8zM546.2 106.0h1.8v1.8h-1.8zM578.0 104.5h1.8v1.8h-1.8zM541.6 114.8h1.8v1.8h-1.8zM569.9 107.0h1.8v1.8h-1.8zM561.1 109.7h1.8v1.8h-1.8zM572.6 105.8h1.8v1.8h-1.8zM566.6 110.5h1.8v1.8h-1.8zM536.2 116.0h1.8v1.8h-1.8zM570.1 108.2h1.8v1.8h-1.8zM539.8 110.4h1.8v1.8h-1.8zM545.4 106.3h1.8v1.8h-1.8zM519.0 114.3h1.8v1.8h-1.8zM539.2 114.6h1.8v1.8h-1.8zM547.0 113.5h1.8v1.8h-1.8zM543.4 107.3h1.8v1.8h-1.8zM542.3 111.6h1.8v1.8h-1.8zM516.6 113.3h1.8v1.8h-1.8zM529.3 114.3h1.8v1.8h-1.8zM529.2 115.6h1.8v1.8h-1.8zM566.4 110.1h1.8v1.8h-1.8zM546.7 110.3h1.8v1.8h-1.8zM485.5 109.7h1.8v1.8h-1.8zM541.8 113.9h1.8v1.8h-1.8zM545.9 115.8h1.8v1.8h-1.8zM588.1 107.5h1.8v1.8h-1.8zM567.0 108.5h1.8v1.8h-1.8zM536.7 116.1h1.8v1.8h-1.8zM545.2 107.7h1.8v1.8h-1.8zM519.8 111.6h1.8v1.8h-1.8zM525.9 113.8h1.8v1.8h-1.8zM544.1 115.3h1.8v1.8h-1.8zM527.2 116.0h1.8v1.8h-1.8zM536.9 110.0h1.8v1.8h-1.8zM526.0 111.7h1.8v1.8h-1.8zM539.8 113.0h1.8v1.8h-1.8zM566.8 105.6h1.8v1.8h-1.8zM542.8 111.2h1.8v1.8h-1.8zM527.3 115.6h1.8v1.8h-1.8zM543.8 110.0h1.8v1.8h-1.8zM571.0 108.9h1.8v1.8h-1.8zM527.0 112.8h1.8v1.8h-1.8zM565.6 104.4h1.8v1.8h-1.8zM542.9 111.1h1.8v1.8h-1.8zM537.4 108.2h1.8v1.8h-1.8zM539.8 106.6h1.8v1.8h-1.8zM543.9 111.5h1.8v1.8h-1.8zM546.5 109.7h1.8v1.8h-1.8zM543.8 110.4h1.8v1.8h-1.8zM570.8 106.8h1.8v1.8h-1.8zM544.9 113.6h1.8v1.8h-1.8zM545.9 110.0h1.8v1.8h-1.8zM541.0 113.7h1.8v1.8h-1.8zM537.1 109.7h1.8v1.8h-1.8zM544.7 114.4h1.8v1.8h-1.8zM541.1 105.5h1.8v1.8h-1.8zM521.0 111.6h1.8v1.8h-1.8zM562.5 106.2h1.8v1.8h-1.8zM537.8 114.1h1.8v1.8h-1.8zM538.6 111.7h1.8v1.8h-1.8zM538.0 113.8h1.8v1.8h-1.8zM546.4 110.3h1.8v1.8h-1.8zM539.4 114.8h1.8v1.8h-1.8zM546.7 114.3h1.8v1.8h-1.8zM525.8 113.7h1.8v1.8h-1.8zM546.1 111.0h1.8v1.8h-1.8zM504.3 112.0h1.8v1.8h-1.8zM564.0 109.6h1.8v1.8h-1.8zM538.4 111.2h1.8v1.8h-1.8zM537.8 112.9h1.8v1.8h-1.8zM565.0 111.2h1.8v1.8h-1.8zM565.9 104.3h1.8v1.8h-1.8zM490.3 109.6h1.8v1.8h-1.8zM564.9 111.9h1.8v1.8h-1.8zM536.4 110.3h1.8v1.8h-1.8zM563.4 107.2h1.8v1.8h-1.8zM544.9 106.5h1.8v1.8h-1.8zM527.0 111.7h1.8v1.8h-1.8zM527.9 113.2h1.8v1.8h-1.8zM565.8 106.9h1.8v1.8h-1.8zM545.9 108.6h1.8v1.8h-1.8zM578.4 113.9h1.8v1.8h-1.8zM542.2 111.1h1.8v1.8h-1.8zM540.6 114.3h1.8v1.8h-1.8zM521.6 114.9h1.8v1.8h-1.8zM563.0 104.5h1.8v1.8h-1.8zM582.0 104.2h1.8v1.8h-1.8zM541.6 111.3h1.8v1.8h-1.8zM545.8 114.3h1.8v1.8h-1.8zM537.2 115.5h1.8v1.8h-1.8zM535.5 114.1h1.8v1.8h-1.8zM547.0 111.3h1.8v1.8h-1.8zM546.5 103.6h1.8v1.8h-1.8zM542.3 110.4h1.8v1.8h-1.8zM506.6 114.4h1.8v1.8h-1.8zM543.7 112.7h1.8v1.8h-1.8zM544.5 110.4h1.8v1.8h-1.8zM547.2 112.3h1.8v1.8h-1.8zM575.1 106.2h1.8v1.8h-1.8zM537.4 110.5h1.8v1.8h-1.8zM565.3 113.3h1.8v1.8h-1.8zM528.3 115.3h1.8v1.8h-1.8zM534.3 110.6h1.8v1.8h-1.8zM541.7 113.1h1.8v1.8h-1.8zM565.9 109.1h1.8v1.8h-1.8zM525.2 105.2h1.8v1.8h-1.8zM563.3 114.8h1.8v1.8h-1.8zM544.5 114.3h1.8v1.8h-1.8zM538.3 106.8h1.8v1.8h-1.8zM540.9 107.5h1.8v1.8h-1.8zM530.0 109.7h1.8v1.8h-1.8zM520.1 115.3h1.8v1.8h-1.8zM543.2 111.6h1.8v1.8h-1.8zM545.1 111.5h1.8v1.8h-1.8zM567.8 106.1h1.8v1.8h-1.8zM535.3 115.8h1.8v1.8h-1.8zM561.3 109.1h1.8v1.8h-1.8zM570.8 108.5h1.8v1.8h-1.8zM539.0 111.1h1.8v1.8h-1.8zM563.3 109.4h1.8v1.8h-1.8zM538.0 110.8h1.8v1.8h-1.8zM564.9 113.8h1.8v1.8h-1.8zM566.6 109.9h1.8v1.8h-1.8zM533.5 111.4h1.8v1.8h-1.8zM533.6 114.6h1.8v1.8h-1.8zM543.9 115.0h1.8v1.8h-1.8zM571.2 109.4h1.8v1.8h-1.8zM531.3 112.5h1.8v1.8h-1.8zM533.1 109.9h1.8v1.8h-1.8zM561.3 112.6h1.8v1.8h-1.8zM534.7 112.4h1.8v1.8h-1.8zM566.0 115.3h1.8v1.8h-1.8zM543.9 109.4h1.8v1.8h-1.8zM539.5 113.2h1.8v1.8h-1.8zM532.4 114.4h1.8v1.8h-1.8zM562.6 111.0h1.8v1.8h-1.8zM562.5 114.5h1.8v1.8h-1.8zM540.2 112.1h1.8v1.8h-1.8zM534.0 113.6h1.8v1.8h-1.8zM536.2 112.2h1.8v1.8h-1.8zM528.0 114.9h1.8v1.8h-1.8zM542.3 110.4h1.8v1.8h-1.8zM571.1 112.2h1.8v1.8h-1.8zM546.3 112.0h1.8v1.8h-1.8zM541.5 110.6h1.8v1.8h-1.8zM566.0 108.4h1.8v1.8h-1.8zM546.6 111.8h1.8v1.8h-1.8zM562.4 108.0h1.8v1.8h-1.8zM562.9 105.3h1.8v1.8h-1.8zM528.3 110.4h1.8v1.8h-1.8zM541.8 114.8h1.8v1.8h-1.8zM542.2 114.4h1.8v1.8h-1.8zM544.7 111.6h1.8v1.8h-1.8zM545.6 111.1h1.8v1.8h-1.8zM547.0 111.9h1.8v1.8h-1.8zM578.6 112.0h1.8v1.8h-1.8zM542.8 114.1h1.8v1.8h-1.8zM546.8 112.1h1.8v1.8h-1.8zM565.1 103.9h1.8v1.8h-1.8zM538.1 111.4h1.8v1.8h-1.8zM543.6 116.0h1.8v1.8h-1.8zM561.7 110.9h1.8v1.8h-1.8zM562.6 108.7h1.8v1.8h-1.8zM534.3 113.3h1.8v1.8h-1.8zM543.7 110.1h1.8v1.8h-1.8zM534.5 114.6h1.8v1.8h-1.8zM526.6 111.2h1.8v1.8h-1.8zM538.7 112.2h1.8v1.8h-1.8zM546.9 107.0h1.8v1.8h-1.8zM532.0 113.4h1.8v1.8h-1.8zM538.1 115.9h1.8v1.8h-1.8zM542.8 115.0h1.8v1.8h-1.8zM529.3 113.9h1.8v1.8h-1.8zM538.9 113.5h1.8v1.8h-1.8zM542.5 108.8h1.8v1.8h-1.8zM545.6 103.6h1.8v1.8h-1.8zM520.5 112.6h1.8v1.8h-1.8zM537.8 114.8h1.8v1.8h-1.8zM538.5 115.4h1.8v1.8h-1.8zM526.6 115.5h1.8v1.8h-1.8zM542.4 113.1h1.8v1.8h-1.8zM527.3 114.8h1.8v1.8h-1.8zM545.0 110.6h1.8v1.8h-1.8zM527.1 113.0h1.8v1.8h-1.8zM538.3 111.1h1.8v1.8h-1.8zM562.0 115.1h1.8v1.8h-1.8zM574.9 107.7h1.8v1.8h-1.8zM535.9 114.2h1.8v1.8h-1.8zM536.7 115.9h1.8v1.8h-1.8zM567.4 110.0h1.8v1.8h-1.8zM543.2 108.0h1.8v1.8h-1.8zM523.3 116.1h1.8v1.8h-1.8zM544.4 106.1h1.8v1.8h-1.8zM575.2 104.4h1.8v1.8h-1.8zM567.1 113.4h1.8v1.8h-1.8zM543.0 105.8h1.8v1.8h-1.8zM547.2 108.5h1.8v1.8h-1.8zM538.8 104.7h1.8v1.8h-1.8zM532.8 109.7h1.8v1.8h-1.8zM542.0 109.0h1.8v1.8h-1.8zM546.6 107.4h1.8v1.8h-1.8zM535.5 104.0h1.8v1.8h-1.8zM565.5 104.1h1.8v1.8h-1.8zM561.9 104.6h1.8v1.8h-1.8zM508.2 108.7h1.8v1.8h-1.8zM544.4 110.7h1.8v1.8h-1.8zM546.7 115.0h1.8v1.8h-1.8zM564.0 103.9h1.8v1.8h-1.8zM574.0 112.0h1.8v1.8h-1.8zM563.7 104.6h1.8v1.8h-1.8zM568.6 103.8h1.8v1.8h-1.8zM539.7 106.1h1.8v1.8h-1.8zM582.1 116.2h1.8v1.8h-1.8zM579.1 112.3h1.8v1.8h-1.8zM564.0 105.4h1.8v1.8h-1.8zM567.8 112.0h1.8v1.8h-1.8zM564.0 107.9h1.8v1.8h-1.8zM571.5 106.8h1.8v1.8h-1.8zM562.5 107.1h1.8v1.8h-1.8zM565.8 104.5h1.8v1.8h-1.8zM577.5 103.6h1.8v1.8h-1.8zM542.9 108.2h1.8v1.8h-1.8zM538.7 113.9h1.8v1.8h-1.8zM544.2 105.5h1.8v1.8h-1.8zM569.7 111.6h1.8v1.8h-1.8zM567.4 108.5h1.8v1.8h-1.8zM580.2 115.6h1.8v1.8h-1.8zM542.3 116.1h1.8v1.8h-1.8zM542.1 106.1h1.8v1.8h-1.8zM515.8 104.8h1.8v1.8h-1.8zM540.5 112.6h1.8v1.8h-1.8zM568.8 110.6h1.8v1.8h-1.8zM523.8 107.3h1.8v1.8h-1.8zM531.6 111.6h1.8v1.8h-1.8zM566.9 112.9h1.8v1.8h-1.8zM539.7 113.1h1.8v1.8h-1.8zM543.5 105.2h1.8v1.8h-1.8zM566.9 105.4h1.8v1.8h-1.8zM547.3 107.0h1.8v1.8h-1.8zM573.1 104.4h1.8v1.8h-1.8zM566.0 106.1h1.8v1.8h-1.8zM539.2 114.7h1.8v1.8h-1.8zM542.4 110.8h1.8v1.8h-1.8zM571.8 106.1h1.8v1.8h-1.8zM573.8 113.1h1.8v1.8h-1.8zM564.8 107.6h1.8v1.8h-1.8zM511.3 109.5h1.8v1.8h-1.8zM563.9 107.5h1.8v1.8h-1.8zM566.1 111.6h1.8v1.8h-1.8zM509.7 108.7h1.8v1.8h-1.8zM564.0 103.1h1.8v1.8h-1.8zM544.5 107.8h1.8v1.8h-1.8zM524.4 110.0h1.8v1.8h-1.8zM545.2 114.8h1.8v1.8h-1.8zM521.1 111.4h1.8v1.8h-1.8zM540.5 105.9h1.8v1.8h-1.8zM567.2 114.9h1.8v1.8h-1.8zM547.5 109.5h1.8v1.8h-1.8zM562.4 107.3h1.8v1.8h-1.8zM561.5 111.2h1.8v1.8h-1.8zM562.5 105.4h1.8v1.8h-1.8zM539.2 109.8h1.8v1.8h-1.8zM547.0 110.9h1.8v1.8h-1.8zM565.8 105.3h1.8v1.8h-1.8zM567.5 106.5h1.8v1.8h-1.8zM562.1 114.0h1.8v1.8h-1.8zM532.0 103.9h1.8v1.8h-1.8zM563.5 106.7h1.8v1.8h-1.8zM566.3 109.8h1.8v1.8h-1.8zM567.7 104.2h1.8v1.8h-1.8zM538.8 103.6h1.8v1.8h-1.8zM570.9 108.3h1.8v1.8h-1.8zM570.8 111.1h1.8v1.8h-1.8zM539.2 112.3h1.8v1.8h-1.8zM542.5 108.4h1.8v1.8h-1.8zM565.4 109.9h1.8v1.8h-1.8zM564.7 105.6h1.8v1.8h-1.8zM538.2 103.0h1.8v1.8h-1.8zM576.4 105.9h1.8v1.8h-1.8zM561.0 109.5h1.8v1.8h-1.8zM545.0 104.0h1.8v1.8h-1.8zM544.4 115.4h1.8v1.8h-1.8zM542.0 103.2h1.8v1.8h-1.8zM573.3 105.6h1.8v1.8h-1.8zM547.5 103.7h1.8v1.8h-1.8zM563.6 107.0h1.8v1.8h-1.8zM527.9 114.0h1.8v1.8h-1.8zM544.1 104.0h1.8v1.8h-1.8zM542.5 115.4h1.8v1.8h-1.8zM581.6 114.2h1.8v1.8h-1.8zM537.4 103.0h1.8v1.8h-1.8zM563.9 102.9h1.8v1.8h-1.8zM543.0 115.5h1.8v1.8h-1.8zM541.9 107.7h1.8v1.8h-1.8zM580.0 106.3h1.8v1.8h-1.8zM545.4 107.9h1.8v1.8h-1.8zM496.1 107.5h1.8v1.8h-1.8zM563.6 108.7h1.8v1.8h-1.8zM544.3 103.9h1.8v1.8h-1.8zM543.9 112.4h1.8v1.8h-1.8zM561.2 115.6h1.8v1.8h-1.8zM540.6 105.0h1.8v1.8h-1.8zM565.3 107.2h1.8v1.8h-1.8zM541.1 115.0h1.8v1.8h-1.8zM539.1 113.4h1.8v1.8h-1.8zM542.9 115.3h1.8v1.8h-1.8zM544.1 109.5h1.8v1.8h-1.8zM610.1 112.3h1.8v1.8h-1.8zM571.6 112.0h1.8v1.8h-1.8zM562.1 114.4h1.8v1.8h-1.8zM565.2 112.4h1.8v1.8h-1.8zM562.8 110.4h1.8v1.8h-1.8zM543.4 114.5h1.8v1.8h-1.8zM564.4 107.5h1.8v1.8h-1.8zM562.6 105.9h1.8v1.8h-1.8zM545.0 109.7h1.8v1.8h-1.8zM544.2 111.3h1.8v1.8h-1.8zM509.9 105.9h1.8v1.8h-1.8zM567.9 106.2h1.8v1.8h-1.8zM563.1 109.9h1.8v1.8h-1.8zM570.6 112.5h1.8v1.8h-1.8zM534.3 115.2h1.8v1.8h-1.8zM545.5 110.1h1.8v1.8h-1.8zM561.2 113.2h1.8v1.8h-1.8zM546.5 109.7h1.8v1.8h-1.8zM562.1 108.5h1.8v1.8h-1.8zM539.5 102.9h1.8v1.8h-1.8zM535.2 113.9h1.8v1.8h-1.8zM566.8 113.5h1.8v1.8h-1.8zM537.6 112.8h1.8v1.8h-1.8zM591.4 106.1h1.8v1.8h-1.8zM561.9 106.2h1.8v1.8h-1.8zM536.9 111.3h1.8v1.8h-1.8zM540.0 106.0h1.8v1.8h-1.8zM564.2 108.0h1.8v1.8h-1.8zM567.6 112.1h1.8v1.8h-1.8zM562.8 113.8h1.8v1.8h-1.8zM584.0 111.2h1.8v1.8h-1.8zM545.0 103.1h1.8v1.8h-1.8zM539.0 104.7h1.8v1.8h-1.8zM565.6 110.1h1.8v1.8h-1.8zM572.5 104.8h1.8v1.8h-1.8zM540.0 112.3h1.8v1.8h-1.8zM570.2 115.2h1.8v1.8h-1.8zM545.6 109.1h1.8v1.8h-1.8zM565.7 115.8h1.8v1.8h-1.8zM545.4 111.5h1.8v1.8h-1.8zM592.1 106.1h1.8v1.8h-1.8zM545.8 108.7h1.8v1.8h-1.8zM566.8 108.8h1.8v1.8h-1.8zM561.4 111.9h1.8v1.8h-1.8zM563.4 109.0h1.8v1.8h-1.8zM547.1 115.4h1.8v1.8h-1.8zM543.8 103.5h1.8v1.8h-1.8zM576.4 106.4h1.8v1.8h-1.8zM598.3 109.4h1.8v1.8h-1.8zM544.9 105.8h1.8v1.8h-1.8zM543.6 114.3h1.8v1.8h-1.8zM520.5 114.6h1.8v1.8h-1.8zM544.4 110.0h1.8v1.8h-1.8zM541.9 106.4h1.8v1.8h-1.8zM563.1 111.3h1.8v1.8h-1.8zM543.5 103.8h1.8v1.8h-1.8zM561.0 106.3h1.8v1.8h-1.8zM538.7 106.5h1.8v1.8h-1.8zM562.9 113.4h1.8v1.8h-1.8zM536.1 105.6h1.8v1.8h-1.8zM561.7 111.8h1.8v1.8h-1.8zM542.6 104.7h1.8v1.8h-1.8zM566.4 113.1h1.8v1.8h-1.8zM545.2 106.4h1.8v1.8h-1.8zM546.5 111.6h1.8v1.8h-1.8zM561.8 107.1h1.8v1.8h-1.8zM562.7 105.8h1.8v1.8h-1.8zM582.2 110.1h1.8v1.8h-1.8zM547.4 107.6h1.8v1.8h-1.8zM564.1 106.4h1.8v1.8h-1.8zM531.1 107.8h1.8v1.8h-1.8zM546.9 109.3h1.8v1.8h-1.8zM534.8 105.6h1.8v1.8h-1.8zM528.3 103.0h1.8v1.8h-1.8zM565.8 103.6h1.8v1.8h-1.8zM562.5 106.0h1.8v1.8h-1.8zM569.0 114.7h1.8v1.8h-1.8zM544.9 104.5h1.8v1.8h-1.8zM567.2 113.6h1.8v1.8h-1.8zM565.8 112.6h1.8v1.8h-1.8zM563.0 103.1h1.8v1.8h-1.8zM567.0 106.6h1.8v1.8h-1.8zM562.4 111.1h1.8v1.8h-1.8zM538.0 103.7h1.8v1.8h-1.8zM538.5 105.2h1.8v1.8h-1.8zM517.2 104.9h1.8v1.8h-1.8zM546.1 115.3h1.8v1.8h-1.8zM545.0 109.1h1.8v1.8h-1.8zM569.4 114.9h1.8v1.8h-1.8zM575.5 115.5h1.8v1.8h-1.8zM545.9 113.8h1.8v1.8h-1.8zM566.5 112.9h1.8v1.8h-1.8zM561.1 108.0h1.8v1.8h-1.8zM547.4 104.6h1.8v1.8h-1.8zM542.8 104.7h1.8v1.8h-1.8zM570.1 108.0h1.8v1.8h-1.8zM545.5 103.2h1.8v1.8h-1.8zM572.0 103.8h1.8v1.8h-1.8zM541.0 107.3h1.8v1.8h-1.8zM577.7 104.0h1.8v1.8h-1.8zM543.8 102.9h1.8v1.8h-1.8zM569.4 110.0h1.8v1.8h-1.8zM542.7 105.1h1.8v1.8h-1.8zM597.1 113.1h1.8v1.8h-1.8zM561.2 114.7h1.8v1.8h-1.8zM562.2 110.3h1.8v1.8h-1.8zM544.9 103.6h1.8v1.8h-1.8zM565.8 103.7h1.8v1.8h-1.8zM537.0 113.2h1.8v1.8h-1.8zM564.6 112.0h1.8v1.8h-1.8zM573.7 113.8h1.8v1.8h-1.8zM574.7 105.8h1.8v1.8h-1.8zM532.0 110.5h1.8v1.8h-1.8zM522.8 103.5h1.8v1.8h-1.8zM567.6 115.0h1.8v1.8h-1.8zM578.5 109.1h1.8v1.8h-1.8zM561.4 110.9h1.8v1.8h-1.8zM537.3 106.1h1.8v1.8h-1.8zM561.8 107.8h1.8v1.8h-1.8zM566.6 114.5h1.8v1.8h-1.8zM562.8 107.0h1.8v1.8h-1.8zM564.6 103.7h1.8v1.8h-1.8zM598.4 106.0h1.8v1.8h-1.8zM576.4 110.0h1.8v1.8h-1.8zM531.0 103.9h1.8v1.8h-1.8zM529.8 110.0h1.8v1.8h-1.8zM565.3 108.7h1.8v1.8h-1.8zM573.4 110.8h1.8v1.8h-1.8zM537.0 112.6h1.8v1.8h-1.8zM539.5 110.1h1.8v1.8h-1.8zM562.8 109.9h1.8v1.8h-1.8zM539.2 114.8h1.8v1.8h-1.8zM564.0 115.9h1.8v1.8h-1.8zM539.1 114.0h1.8v1.8h-1.8zM577.4 109.5h1.8v1.8h-1.8zM545.9 110.8h1.8v1.8h-1.8zM561.3 113.5h1.8v1.8h-1.8zM543.0 108.5h1.8v1.8h-1.8zM569.2 105.1h1.8v1.8h-1.8zM569.9 104.1h1.8v1.8h-1.8zM541.1 109.6h1.8v1.8h-1.8zM560.9 112.8h1.8v1.8h-1.8zM536.7 115.2h1.8v1.8h-1.8zM542.6 108.0h1.8v1.8h-1.8zM568.5 110.9h1.8v1.8h-1.8zM534.1 115.0h1.8v1.8h-1.8zM573.1 114.0h1.8v1.8h-1.8zM571.7 113.4h1.8v1.8h-1.8zM541.9 113.8h1.8v1.8h-1.8zM527.0 111.9h1.8v1.8h-1.8zM543.1 103.1h1.8v1.8h-1.8zM562.3 105.9h1.8v1.8h-1.8zM540.9 115.8h1.8v1.8h-1.8zM537.7 112.9h1.8v1.8h-1.8zM541.8 115.0h1.8v1.8h-1.8zM547.0 106.4h1.8v1.8h-1.8zM573.1 109.3h1.8v1.8h-1.8zM563.1 112.2h1.8v1.8h-1.8zM584.9 113.2h1.8v1.8h-1.8zM589.5 106.9h1.8v1.8h-1.8zM542.3 103.5h1.8v1.8h-1.8zM589.0 111.7h1.8v1.8h-1.8zM545.2 111.9h1.8v1.8h-1.8zM541.2 115.6h1.8v1.8h-1.8zM540.9 114.3h1.8v1.8h-1.8zM566.6 112.7h1.8v1.8h-1.8zM527.3 108.3h1.8v1.8h-1.8zM568.8 104.8h1.8v1.8h-1.8zM500.1 111.1h1.8v1.8h-1.8zM564.0 110.0h1.8v1.8h-1.8zM533.7 111.5h1.8v1.8h-1.8zM543.6 115.4h1.8v1.8h-1.8zM523.5 106.0h1.8v1.8h-1.8zM563.9 112.3h1.8v1.8h-1.8zM583.6 106.7h1.8v1.8h-1.8zM565.2 112.8h1.8v1.8h-1.8zM563.7 104.2h1.8v1.8h-1.8zM574.3 110.2h1.8v1.8h-1.8zM576.8 114.6h1.8v1.8h-1.8zM565.4 113.6h1.8v1.8h-1.8zM543.6 110.1h1.8v1.8h-1.8zM566.7 110.2h1.8v1.8h-1.8zM566.4 105.1h1.8v1.8h-1.8zM564.8 109.3h1.8v1.8h-1.8zM562.4 103.5h1.8v1.8h-1.8zM589.3 104.8h1.8v1.8h-1.8zM562.2 112.0h1.8v1.8h-1.8zM535.6 103.6h1.8v1.8h-1.8zM533.8 103.6h1.8v1.8h-1.8zM546.2 105.9h1.8v1.8h-1.8zM561.5 110.1h1.8v1.8h-1.8zM545.5 109.5h1.8v1.8h-1.8zM545.5 106.3h1.8v1.8h-1.8zM521.7 104.1h1.8v1.8h-1.8zM561.2 115.4h1.8v1.8h-1.8zM567.4 107.8h1.8v1.8h-1.8zM546.9 105.7h1.8v1.8h-1.8zM545.3 114.9h1.8v1.8h-1.8zM547.2 110.7h1.8v1.8h-1.8zM562.6 108.2h1.8v1.8h-1.8zM546.9 110.5h1.8v1.8h-1.8zM532.2 111.0h1.8v1.8h-1.8zM566.0 115.0h1.8v1.8h-1.8zM562.1 111.4h1.8v1.8h-1.8zM547.0 110.4h1.8v1.8h-1.8zM543.4 114.8h1.8v1.8h-1.8zM563.9 103.6h1.8v1.8h-1.8zM570.2 110.2h1.8v1.8h-1.8zM564.8 110.1h1.8v1.8h-1.8zM545.3 103.5h1.8v1.8h-1.8zM573.0 104.1h1.8v1.8h-1.8zM545.1 107.2h1.8v1.8h-1.8zM562.7 112.9h1.8v1.8h-1.8z"/><path fill="#000000" d="M561.6 119.0h1.8v1.8h-1.8zM546.5 97.3h1.8v1.8h-1.8zM546.5 102.3h1.8v1.8h-1.8zM547.0 101.8h1.8v1.8h-1.8zM545.4 99.3h1.8v1.8h-1.8zM565.5 119.4h1.8v1.8h-1.8zM566.0 116.6h1.8v1.8h-1.8zM537.7 96.7h1.8v1.8h-1.8zM561.0 119.5h1.8v1.8h-1.8zM547.1 102.7h1.8v1.8h-1.8zM564.1 122.5h1.8v1.8h-1.8zM545.8 100.7h1.8v1.8h-1.8zM562.4 120.2h1.8v1.8h-1.8zM561.8 119.6h1.8v1.8h-1.8zM565.7 116.4h1.8v1.8h-1.8zM545.9 102.7h1.8v1.8h-1.8zM538.9 102.7h1.8v1.8h-1.8zM547.0 100.2h1.8v1.8h-1.8zM563.2 120.0h1.8v1.8h-1.8zM544.3 101.2h1.8v1.8h-1.8zM542.1 98.9h1.8v1.8h-1.8zM561.7 116.4h1.8v1.8h-1.8zM545.3 99.9h1.8v1.8h-1.8zM562.0 116.4h1.8v1.8h-1.8zM541.6 101.9h1.8v1.8h-1.8zM574.4 116.9h1.8v1.8h-1.8zM541.9 102.1h1.8v1.8h-1.8zM539.5 100.9h1.8v1.8h-1.8zM564.8 117.3h1.8v1.8h-1.8zM533.0 99.8h1.8v1.8h-1.8zM568.8 118.7h1.8v1.8h-1.8zM533.4 94.5h1.8v1.8h-1.8zM574.1 116.2h1.8v1.8h-1.8zM579.7 118.2h1.8v1.8h-1.8zM562.8 118.0h1.8v1.8h-1.8zM564.4 124.8h1.8v1.8h-1.8zM564.6 116.8h1.8v1.8h-1.8zM531.2 43.5h1.8v1.8h-1.8zM540.6 98.0h1.8v1.8h-1.8zM564.5 120.0h1.8v1.8h-1.8zM538.5 99.5h1.8v1.8h-1.8zM537.9 100.5h1.8v1.8h-1.8zM604.9 135.2h1.8v1.8h-1.8zM562.8 126.8h1.8v1.8h-1.8zM546.9 99.6h1.8v1.8h-1.8zM531.8 101.2h1.8v1.8h-1.8zM573.6 118.6h1.8v1.8h-1.8zM543.2 88.4h1.8v1.8h-1.8zM561.9 130.5h1.8v1.8h-1.8zM534.0 100.1h1.8v1.8h-1.8zM572.8 122.4h1.8v1.8h-1.8zM562.0 117.1h1.8v1.8h-1.8zM538.3 97.0h1.8v1.8h-1.8zM568.0 119.0h1.8v1.8h-1.8zM568.8 118.0h1.8v1.8h-1.8zM573.1 118.1h1.8v1.8h-1.8zM582.1 122.1h1.8v1.8h-1.8zM565.1 116.6h1.8v1.8h-1.8zM537.2 101.4h1.8v1.8h-1.8zM561.4 133.5h1.8v1.8h-1.8zM544.6 97.2h1.8v1.8h-1.8zM567.7 119.1h1.8v1.8h-1.8zM575.4 136.2h1.8v1.8h-1.8zM543.2 101.0h1.8v1.8h-1.8zM533.1 58.0h1.8v1.8h-1.8zM534.9 95.1h1.8v1.8h-1.8zM540.2 64.1h1.8v1.8h-1.8zM562.0 118.3h1.8v1.8h-1.8zM563.2 141.9h1.8v1.8h-1.8zM567.8 138.5h1.8v1.8h-1.8zM541.8 83.5h1.8v1.8h-1.8zM545.6 98.2h1.8v1.8h-1.8zM542.6 92.6h1.8v1.8h-1.8zM543.4 95.0h1.8v1.8h-1.8zM537.4 96.4h1.8v1.8h-1.8zM523.6 72.9h1.8v1.8h-1.8zM573.8 132.9h1.8v1.8h-1.8zM567.7 131.9h1.8v1.8h-1.8zM542.2 98.6h1.8v1.8h-1.8zM529.6 97.1h1.8v1.8h-1.8zM575.7 137.0h1.8v1.8h-1.8zM575.5 137.5h1.8v1.8h-1.8zM524.8 91.1h1.8v1.8h-1.8zM571.1 126.8h1.8v1.8h-1.8zM545.6 79.4h1.8v1.8h-1.8zM545.0 100.6h1.8v1.8h-1.8zM539.1 53.5h1.8v1.8h-1.8zM561.4 124.7h1.8v1.8h-1.8zM544.8 101.7h1.8v1.8h-1.8zM482.9 43.5h1.8v1.8h-1.8zM537.8 66.8h1.8v1.8h-1.8zM546.0 84.4h1.8v1.8h-1.8zM582.4 148.0h1.8v1.8h-1.8zM536.6 76.3h1.8v1.8h-1.8zM535.8 98.2h1.8v1.8h-1.8zM534.1 96.8h1.8v1.8h-1.8zM539.9 100.6h1.8v1.8h-1.8zM520.1 51.2h1.8v1.8h-1.8zM566.5 127.9h1.8v1.8h-1.8zM545.4 102.0h1.8v1.8h-1.8zM590.2 133.1h1.8v1.8h-1.8zM524.1 58.1h1.8v1.8h-1.8zM563.2 117.8h1.8v1.8h-1.8zM542.8 83.9h1.8v1.8h-1.8zM561.2 131.2h1.8v1.8h-1.8zM577.0 134.3h1.8v1.8h-1.8zM544.3 84.0h1.8v1.8h-1.8zM546.6 74.5h1.8v1.8h-1.8zM570.0 119.3h1.8v1.8h-1.8zM531.0 96.4h1.8v1.8h-1.8zM614.6 155.6h1.8v1.8h-1.8zM541.1 99.3h1.8v1.8h-1.8zM525.9 93.8h1.8v1.8h-1.8zM545.0 95.7h1.8v1.8h-1.8zM563.9 119.1h1.8v1.8h-1.8zM562.1 126.1h1.8v1.8h-1.8zM540.6 91.2h1.8v1.8h-1.8zM541.3 99.6h1.8v1.8h-1.8zM563.1 120.2h1.8v1.8h-1.8zM540.7 97.9h1.8v1.8h-1.8zM518.9 40.7h1.8v1.8h-1.8zM545.9 99.0h1.8v1.8h-1.8zM567.5 118.9h1.8v1.8h-1.8zM530.6 62.9h1.8v1.8h-1.8zM579.4 127.3h1.8v1.8h-1.8zM571.8 118.8h1.8v1.8h-1.8zM544.8 80.8h1.8v1.8h-1.8zM525.9 88.4h1.8v1.8h-1.8zM531.1 95.7h1.8v1.8h-1.8zM534.9 94.8h1.8v1.8h-1.8zM532.2 95.5h1.8v1.8h-1.8zM540.9 101.1h1.8v1.8h-1.8zM566.7 140.0h1.8v1.8h-1.8zM578.5 128.3h1.8v1.8h-1.8zM516.8 93.7h1.8v1.8h-1.8zM567.1 121.7h1.8v1.8h-1.8zM538.9 88.2h1.8v1.8h-1.8zM547.2 99.1h1.8v1.8h-1.8zM569.0 136.8h1.8v1.8h-1.8zM564.6 130.2h1.8v1.8h-1.8zM564.3 148.7h1.8v1.8h-1.8zM525.1 87.4h1.8v1.8h-1.8zM572.9 130.2h1.8v1.8h-1.8zM485.4 84.8h1.8v1.8h-1.8zM543.8 93.7h1.8v1.8h-1.8zM582.5 149.7h1.8v1.8h-1.8zM532.8 95.6h1.8v1.8h-1.8zM537.0 92.0h1.8v1.8h-1.8zM540.5 90.1h1.8v1.8h-1.8zM584.7 125.0h1.8v1.8h-1.8zM561.2 123.8h1.8v1.8h-1.8zM524.8 101.1h1.8v1.8h-1.8zM583.6 145.7h1.8v1.8h-1.8zM500.3 97.0h1.8v1.8h-1.8zM575.6 128.3h1.8v1.8h-1.8zM541.3 101.6h1.8v1.8h-1.8zM570.0 134.1h1.8v1.8h-1.8zM570.2 118.8h1.8v1.8h-1.8zM571.2 116.7h1.8v1.8h-1.8zM533.2 85.7h1.8v1.8h-1.8zM562.2 146.7h1.8v1.8h-1.8z"/>
<line x1="453.5" y1="24.4" x2="657.0" y2="24.4" stroke="#bdbdbd" stroke-width="1.0"/>
<line x1="657.0" y1="24.4" x2="657.0" y2="168.8" stroke="#b0b0b0" stroke-width="1.0"/>
<line x1="453.5" y1="24.4" x2="453.5" y2="168.8" stroke="#666666" stroke-width="1.1"/>
<line x1="453.5" y1="168.8" x2="657.0" y2="168.8" stroke="#595959" stroke-width="1.1"/>
<text x="450.2" y="36.9" font-size="14.8" text-anchor="end">7.5</text>
<line x1="451.0" y1="30.9" x2="453.6" y2="30.9" stroke="#9a9a9a" stroke-width="0.8"/>
<text x="450.2" y="63.4" font-size="14.8" text-anchor="end">5</text>
<line x1="451.0" y1="57.4" x2="453.6" y2="57.4" stroke="#9a9a9a" stroke-width="0.8"/>
<text x="450.2" y="89.9" font-size="14.8" text-anchor="end">2.5</text>
<line x1="451.0" y1="83.9" x2="453.6" y2="83.9" stroke="#9a9a9a" stroke-width="0.8"/>
<text x="450.2" y="116.4" font-size="14.8" text-anchor="end">0</text>
<line x1="451.0" y1="110.4" x2="453.6" y2="110.4" stroke="#9a9a9a" stroke-width="0.8"/>
<text x="450.2" y="142.9" font-size="14.8" text-anchor="end">-2.5</text>
<line x1="451.0" y1="136.9" x2="453.6" y2="136.9" stroke="#9a9a9a" stroke-width="0.8"/>
<text x="450.2" y="169.4" font-size="14.8" text-anchor="end">-5</text>
<line x1="451.0" y1="163.4" x2="453.6" y2="163.4" stroke="#9a9a9a" stroke-width="0.8"/>
<text x="455.7" y="181.6" font-size="14.8" text-anchor="middle">-8</text>
<line x1="455.7" y1="168.5" x2="455.7" y2="170.5" stroke="#9a9a9a" stroke-width="0.8"/>
<text x="505.4" y="181.6" font-size="14.8" text-anchor="middle">-4</text>
<line x1="505.4" y1="168.5" x2="505.4" y2="170.5" stroke="#9a9a9a" stroke-width="0.8"/>
<text x="555.1" y="181.6" font-size="14.8" text-anchor="middle">0</text>
<line x1="555.1" y1="168.5" x2="555.1" y2="170.5" stroke="#9a9a9a" stroke-width="0.8"/>
<text x="604.8" y="181.6" font-size="14.8" text-anchor="middle">4</text>
<line x1="604.8" y1="168.5" x2="604.8" y2="170.5" stroke="#9a9a9a" stroke-width="0.8"/>
<text x="654.5" y="181.6" font-size="14.8" text-anchor="middle">8</text>
<line x1="654.5" y1="168.5" x2="654.5" y2="170.5" stroke="#9a9a9a" stroke-width="0.8"/>
<text x="507.2" y="195.8" font-size="13.8" textLength="80.5" lengthAdjust="spacingAndGlyphs">Log2 AR/Veh</text>
<text x="425.4" y="152.8" font-size="14.2" textLength="102.5" lengthAdjust="spacingAndGlyphs" transform="rotate(-90 425.4 152.8)">Log2 AR-V7/Veh</text>
<text x="394.7" y="21.0" font-size="21" font-weight="bold" textLength="26.8" lengthAdjust="spacingAndGlyphs">(b)</text>
<text x="462.3" y="11.3" font-size="16" textLength="86.7" lengthAdjust="spacingAndGlyphs">VCaP AR-V7</text>
<ellipse cx="142.8" cy="279.8" rx="39.6" ry="39.6" fill="none" stroke="#92d050" stroke-width="2.5"/>
<ellipse cx="111.0" cy="279.5" rx="39.3" ry="39.3" fill="none" stroke="#c00000" stroke-width="2.5"/>
<ellipse cx="287.9" cy="275.6" rx="35.4" ry="35.4" fill="none" stroke="#92d050" stroke-width="2.5"/>
<ellipse cx="252.4" cy="276.0" rx="39.4" ry="39.4" fill="none" stroke="#c00000" stroke-width="2.5"/>
<ellipse cx="142.2" cy="365.5" rx="31.3" ry="31.3" fill="none" stroke="#92d050" stroke-width="2.5"/>
<ellipse cx="111.1" cy="364.4" rx="39.4" ry="39.4" fill="none" stroke="#c00000" stroke-width="2.5"/>
<ellipse cx="279.9" cy="363.2" rx="26.1" ry="26.1" fill="none" stroke="#92d050" stroke-width="2.5"/>
<ellipse cx="252.2" cy="362.7" rx="39.1" ry="39.1" fill="none" stroke="#c00000" stroke-width="2.5"/>
<text x="12.3" y="218.1" font-size="21" font-weight="bold" textLength="23.2" lengthAdjust="spacingAndGlyphs">(c)</text>
<text x="116.9" y="231.3" font-size="12" textLength="14.5" lengthAdjust="spacingAndGlyphs">Up</text>
<text x="253.8" y="230.7" font-size="12" textLength="30.4" lengthAdjust="spacingAndGlyphs">Down</text>
<text x="42.8" y="252.8" font-size="12" textLength="33.4" lengthAdjust="spacingAndGlyphs">R1881</text>
<text x="176.4" y="252.7" font-size="12" textLength="32.4" lengthAdjust="spacingAndGlyphs">AR-V7</text>
<text x="78.8" y="284.3" font-size="12" textLength="19.7" lengthAdjust="spacingAndGlyphs">720</text>
<text x="116.1" y="284.3" font-size="12" textLength="20.0" lengthAdjust="spacingAndGlyphs">702</text>
<text x="156.9" y="284.3" font-size="12" textLength="19.7" lengthAdjust="spacingAndGlyphs">899</text>
<text x="58.4" y="309.8" font-size="12" textLength="33.5" lengthAdjust="spacingAndGlyphs" transform="rotate(-90 58.4 309.8)">LNCaP</text>
<text x="222.4" y="283.9" font-size="12" textLength="19.6" lengthAdjust="spacingAndGlyphs">855</text>
<text x="259.9" y="283.9" font-size="12" textLength="20.0" lengthAdjust="spacingAndGlyphs">644</text>
<text x="300.3" y="283.9" font-size="12" textLength="19.9" lengthAdjust="spacingAndGlyphs">600</text>
<text x="184.8" y="306.4" font-size="12" textLength="33.0" lengthAdjust="spacingAndGlyphs">R1881</text>
<text x="315.1" y="306.6" font-size="12" textLength="32.1" lengthAdjust="spacingAndGlyphs">AR-V7</text>
<text x="43.3" y="341.5" font-size="12" textLength="32.7" lengthAdjust="spacingAndGlyphs">R1881</text>
<text x="169.0" y="341.5" font-size="12" textLength="32.0" lengthAdjust="spacingAndGlyphs">AR-V7</text>
<text x="76.7" y="367.9" font-size="12" textLength="26.9" lengthAdjust="spacingAndGlyphs">1220</text>
<text x="120.7" y="368.6" font-size="12" textLength="20.3" lengthAdjust="spacingAndGlyphs">834</text>
<text x="152.7" y="368.6" font-size="12" textLength="19.8" lengthAdjust="spacingAndGlyphs">414</text>
<text x="58.4" y="399.7" font-size="12" textLength="27.4" lengthAdjust="spacingAndGlyphs" transform="rotate(-90 58.4 399.7)">VCaP</text>
<text x="224.1" y="368.4" font-size="12" textLength="26.6" lengthAdjust="spacingAndGlyphs">1548</text>
<text x="261.4" y="368.4" font-size="12" textLength="20.8" lengthAdjust="spacingAndGlyphs">649</text>
<text x="318.5" y="368.4" font-size="12" textLength="19.1" lengthAdjust="spacingAndGlyphs">194</text>
<line x1="299.1" y1="367.6" x2="315.2" y2="365.9" stroke="#000" stroke-width="1.3"/>
<text x="184.4" y="393.2" font-size="12" textLength="33.3" lengthAdjust="spacingAndGlyphs">R1881</text>
<text x="307.0" y="393.2" font-size="12" textLength="32.3" lengthAdjust="spacingAndGlyphs">AR-V7</text>
<rect x="365.0" y="218.0" width="320.0" height="169.6" fill="#fefefc"/>
<text x="399.1" y="219.3" font-size="21" font-weight="bold" textLength="26.4" lengthAdjust="spacingAndGlyphs">(d)</text>
<text x="446.4" y="225.7" font-size="8.2" fill="#292929" textLength="58.4" lengthAdjust="spacingAndGlyphs">LNCaP HALLMARK</text>
<rect x="471.2" y="235.5" width="36.4" height="10.5" fill="#c0504d"/>
<text x="508.8" y="243.2" font-size="8.4" fill="#222" textLength="10.8" lengthAdjust="spacingAndGlyphs">8.36</text>
<rect x="471.2" y="246.0" width="26.6" height="10.5" fill="#9bbb59"/>
<text x="499.0" y="253.8" font-size="8.4" fill="#222" textLength="10.8" lengthAdjust="spacingAndGlyphs">6.11</text>
<text x="408.2" y="246.7" font-size="7.2" fill="#292929" textLength="57.3" lengthAdjust="spacingAndGlyphs">ANDROGEN RESPONSE</text>
<rect x="471.2" y="259.1" width="15.2" height="10.5" fill="#c0504d"/>
<text x="487.6" y="266.9" font-size="8.4" fill="#222" textLength="8.1" lengthAdjust="spacingAndGlyphs">3.5</text>
<rect x="471.2" y="269.6" width="23.0" height="10.5" fill="#9bbb59"/>
<text x="495.4" y="277.4" font-size="8.4" fill="#222" textLength="10.8" lengthAdjust="spacingAndGlyphs">5.28</text>
<text x="401.2" y="270.3" font-size="7.2" fill="#292929" textLength="64.3" lengthAdjust="spacingAndGlyphs">TNFA SIGNALING VIA NFKB</text>
<rect x="471.2" y="282.7" width="14.8" height="10.5" fill="#c0504d"/>
<text x="487.2" y="290.4" font-size="8.4" fill="#222" textLength="10.8" lengthAdjust="spacingAndGlyphs">3.41</text>
<rect x="471.2" y="293.2" width="14.3" height="10.5" fill="#9bbb59"/>
<text x="486.7" y="300.9" font-size="8.4" fill="#222" textLength="10.8" lengthAdjust="spacingAndGlyphs">3.28</text>
<text x="391.9" y="293.9" font-size="7.2" fill="#292929" textLength="73.6" lengthAdjust="spacingAndGlyphs">CHOLESTEROL HOMEOSTASIS</text>
<rect x="471.2" y="306.3" width="12.7" height="10.5" fill="#c0504d"/>
<text x="485.1" y="314.1" font-size="8.4" fill="#222" textLength="10.8" lengthAdjust="spacingAndGlyphs">2.92</text>
<rect x="471.2" y="316.8" width="15.0" height="10.5" fill="#9bbb59"/>
<text x="487.4" y="324.6" font-size="8.4" fill="#222" textLength="10.8" lengthAdjust="spacingAndGlyphs">3.45</text>
<text x="444.0" y="317.5" font-size="7.2" fill="#292929" textLength="21.5" lengthAdjust="spacingAndGlyphs">HYPOXIA</text>
<rect x="471.2" y="340.4" width="19.0" height="10.5" fill="#9bbb59"/>
<text x="491.4" y="348.1" font-size="8.4" fill="#222" textLength="10.8" lengthAdjust="spacingAndGlyphs">4.37</text>
<text x="366.9" y="341.1" font-size="7.2" fill="#292929" textLength="98.6" lengthAdjust="spacingAndGlyphs">EPITHELIAL MESENCHYMAL TRANSITION</text>
<rect x="471.2" y="353.5" width="17.6" height="10.5" fill="#c0504d"/>
<text x="490.0" y="361.2" font-size="8.4" fill="#222" textLength="10.8" lengthAdjust="spacingAndGlyphs">4.04</text>
<text x="413.6" y="364.7" font-size="7.2" fill="#292929" textLength="51.9" lengthAdjust="spacingAndGlyphs">PROTEIN SECRETION</text>
<line x1="469.7" y1="232.0" x2="469.7" y2="377.3" stroke="#555" stroke-width="1"/>
<line x1="469.7" y1="377.3" x2="516.5" y2="377.3" stroke="#555" stroke-width="1"/>
<text x="474.4" y="386.2" font-size="6.8" text-anchor="middle" fill="#444" textLength="9.0" lengthAdjust="spacingAndGlyphs">0.0</text>
<text x="496.5" y="386.2" font-size="6.8" text-anchor="middle" fill="#444" textLength="9.0" lengthAdjust="spacingAndGlyphs">5.0</text>
<text x="519.5" y="386.2" font-size="6.8" text-anchor="middle" fill="#444" textLength="12.0" lengthAdjust="spacingAndGlyphs">10.0</text>
<text x="600.7" y="226.6" font-size="8.6" fill="#292929" textLength="63.1" lengthAdjust="spacingAndGlyphs">VCaP HALLMARK</text>
<rect x="618.5" y="233.1" width="29.0" height="9.2" fill="#c0504d"/>
<text x="648.7" y="240.7" font-size="8.2" fill="#222" textLength="12.0" lengthAdjust="spacingAndGlyphs">5.53</text>
<rect x="618.5" y="242.3" width="21.3" height="9.2" fill="#9bbb59"/>
<text x="641.0" y="249.9" font-size="8.2" fill="#222" textLength="12.0" lengthAdjust="spacingAndGlyphs">4.06</text>
<text x="548.9" y="243.7" font-size="7.4" fill="#292929" textLength="65.8" lengthAdjust="spacingAndGlyphs">ANDROGEN RESPONSE</text>
<rect x="618.5" y="253.5" width="25.5" height="9.2" fill="#c0504d"/>
<text x="645.2" y="261.1" font-size="8.2" fill="#222" textLength="12.0" lengthAdjust="spacingAndGlyphs">4.85</text>
<rect x="618.5" y="262.7" width="23.1" height="9.2" fill="#9bbb59"/>
<text x="642.8" y="270.3" font-size="8.2" fill="#222" textLength="9.0" lengthAdjust="spacingAndGlyphs">4.4</text>
<text x="559.7" y="264.1" font-size="7.4" fill="#292929" textLength="56.6" lengthAdjust="spacingAndGlyphs">MTORC1 SIGNALING</text>
<rect x="618.5" y="273.9" width="23.6" height="9.2" fill="#c0504d"/>
<text x="643.3" y="281.5" font-size="8.2" fill="#222" textLength="12.0" lengthAdjust="spacingAndGlyphs">4.49</text>
<rect x="618.5" y="283.1" width="20.8" height="9.2" fill="#9bbb59"/>
<text x="640.5" y="290.7" font-size="8.2" fill="#222" textLength="12.0" lengthAdjust="spacingAndGlyphs">3.96</text>
<text x="526.0" y="284.5" font-size="7.4" fill="#292929" textLength="86.7" lengthAdjust="spacingAndGlyphs">OXIDATIVE PHOSPHORYLATION</text>
<rect x="618.5" y="303.5" width="25.5" height="9.2" fill="#9bbb59"/>
<text x="645.2" y="311.1" font-size="8.2" fill="#222" textLength="12.0" lengthAdjust="spacingAndGlyphs">4.85</text>
<text x="576.6" y="304.9" font-size="7.4" fill="#292929" textLength="37.3" lengthAdjust="spacingAndGlyphs">E2F TARGETS</text>
<rect x="618.5" y="314.7" width="20.8" height="9.2" fill="#c0504d"/>
<text x="640.5" y="322.3" font-size="8.2" fill="#222" textLength="12.0" lengthAdjust="spacingAndGlyphs">3.97</text>
<text x="527.7" y="325.3" font-size="7.4" fill="#292929" textLength="85.0" lengthAdjust="spacingAndGlyphs">CHOLESTEROL HOMEOSTASIS</text>
<rect x="618.5" y="344.3" width="20.7" height="9.2" fill="#9bbb59"/>
<text x="640.4" y="351.9" font-size="8.2" fill="#222" textLength="12.0" lengthAdjust="spacingAndGlyphs">3.94</text>
<text x="565.8" y="345.7" font-size="7.4" fill="#292929" textLength="50.5" lengthAdjust="spacingAndGlyphs">G2M CHECKPOINT</text>
<rect x="618.5" y="355.5" width="18.3" height="9.2" fill="#c0504d"/>
<text x="638.0" y="363.1" font-size="8.2" fill="#222" textLength="12.0" lengthAdjust="spacingAndGlyphs">3.48</text>
<text x="538.1" y="366.1" font-size="7.4" fill="#292929" textLength="76.3" lengthAdjust="spacingAndGlyphs">PI3K AKT MTOR SIGNALING</text>
<line x1="616.8" y1="230.7" x2="616.8" y2="376.7" stroke="#555" stroke-width="1"/>
<line x1="616.8" y1="376.7" x2="672.9" y2="376.7" stroke="#555" stroke-width="1"/>
<text x="623.1" y="385.1" font-size="7" text-anchor="middle" fill="#444" textLength="9.5" lengthAdjust="spacingAndGlyphs">0.0</text>
<text x="648.9" y="385.1" font-size="7" text-anchor="middle" fill="#444" textLength="9.5" lengthAdjust="spacingAndGlyphs">5.0</text>
<text x="676.0" y="385.1" font-size="7" text-anchor="middle" fill="#444" textLength="13.0" lengthAdjust="spacingAndGlyphs">10.0</text>
<rect x="60.2" y="501.2" width="17.0" height="35.2" fill="#4f81bd"/>
<rect x="77.2" y="458.0" width="17.0" height="78.4" fill="#9bbb59"/>
<rect x="94.2" y="530.9" width="17.0" height="5.5" fill="#c0504d"/>
<line x1="68.7" y1="501.2" x2="68.7" y2="499.3" stroke="#000" stroke-width="1"/>
<line x1="65.7" y1="499.3" x2="71.7" y2="499.3" stroke="#000" stroke-width="1.1"/>
<line x1="85.7" y1="458.0" x2="85.7" y2="453.7" stroke="#000" stroke-width="1"/>
<line x1="82.7" y1="453.7" x2="88.7" y2="453.7" stroke="#000" stroke-width="1.1"/>
<line x1="102.7" y1="530.9" x2="102.7" y2="530.4" stroke="#000" stroke-width="1"/>
<line x1="99.7" y1="530.4" x2="105.7" y2="530.4" stroke="#000" stroke-width="1.1"/>
<rect x="136.4" y="511.3" width="17.0" height="25.1" fill="#4f81bd"/>
<rect x="153.4" y="458.6" width="17.0" height="77.8" fill="#9bbb59"/>
<rect x="170.4" y="517.7" width="17.0" height="18.7" fill="#c0504d"/>
<line x1="144.9" y1="511.3" x2="144.9" y2="510.2" stroke="#000" stroke-width="1"/>
<line x1="141.9" y1="510.2" x2="147.9" y2="510.2" stroke="#000" stroke-width="1.1"/>
<line x1="161.9" y1="458.6" x2="161.9" y2="457.6" stroke="#000" stroke-width="1"/>
<line x1="158.9" y1="457.6" x2="164.9" y2="457.6" stroke="#000" stroke-width="1.1"/>
<line x1="178.9" y1="517.7" x2="178.9" y2="516.7" stroke="#000" stroke-width="1"/>
<line x1="175.9" y1="516.7" x2="181.9" y2="516.7" stroke="#000" stroke-width="1.1"/>
<rect x="212.6" y="512.0" width="17.0" height="24.4" fill="#4f81bd"/>
<rect x="229.6" y="471.7" width="17.0" height="64.7" fill="#9bbb59"/>
<rect x="246.6" y="520.9" width="17.0" height="15.5" fill="#c0504d"/>
<line x1="221.1" y1="512.0" x2="221.1" y2="511.0" stroke="#000" stroke-width="1"/>
<line x1="218.1" y1="511.0" x2="224.1" y2="511.0" stroke="#000" stroke-width="1.1"/>
<line x1="238.1" y1="471.7" x2="238.1" y2="467.4" stroke="#000" stroke-width="1"/>
<line x1="235.1" y1="467.4" x2="241.1" y2="467.4" stroke="#000" stroke-width="1.1"/>
<line x1="255.1" y1="520.9" x2="255.1" y2="520.4" stroke="#000" stroke-width="1"/>
<line x1="252.1" y1="520.4" x2="258.1" y2="520.4" stroke="#000" stroke-width="1.1"/>
<line x1="47.7" y1="440.0" x2="47.7" y2="536.4" stroke="#000" stroke-width="1"/>
<line x1="47.7" y1="536.4" x2="276.3" y2="536.4" stroke="#000" stroke-width="1.1"/>
<line x1="43.2" y1="536.4" x2="47.7" y2="536.4" stroke="#000" stroke-width="1"/>
<text x="32.2" y="541.3" font-size="13.8" text-anchor="end">0</text>
<line x1="43.2" y1="488.2" x2="47.7" y2="488.2" stroke="#000" stroke-width="1"/>
<text x="32.2" y="493.1" font-size="13.8" text-anchor="end">0.5</text>
<line x1="43.2" y1="440.0" x2="47.7" y2="440.0" stroke="#000" stroke-width="1"/>
<text x="32.2" y="444.9" font-size="13.8" text-anchor="end">1</text>
<line x1="47.7" y1="536.4" x2="47.7" y2="540.4" stroke="#000" stroke-width="1"/>
<line x1="123.9" y1="536.4" x2="123.9" y2="540.4" stroke="#000" stroke-width="1"/>
<line x1="200.1" y1="536.4" x2="200.1" y2="540.4" stroke="#000" stroke-width="1"/>
<line x1="276.3" y1="536.4" x2="276.3" y2="540.4" stroke="#000" stroke-width="1"/>
<text x="68.5" y="561.0" font-size="14" textLength="34.3" lengthAdjust="spacingAndGlyphs">EDN2</text>
<text x="144.0" y="561.0" font-size="14" textLength="36.5" lengthAdjust="spacingAndGlyphs">BIRC3</text>
<text x="221.8" y="561.0" font-size="14" textLength="33.5" lengthAdjust="spacingAndGlyphs">SDC1</text>
<text x="77.8" y="435.8" font-size="13.8" textLength="132.0" lengthAdjust="spacingAndGlyphs">AR-V7 specific genes</text>
<text x="9.9" y="529.8" font-size="12.3" textLength="79.9" lengthAdjust="spacingAndGlyphs" transform="rotate(-90 9.9 529.8)">Relative mRNA</text>
<rect x="58.0" y="685.8" width="10.7" height="1.5" fill="#4f81bd"/>
<rect x="68.7" y="650.0" width="10.7" height="37.3" fill="#9bbb59"/>
<rect x="79.4" y="629.3" width="10.7" height="58.0" fill="#c0504d"/>
<line x1="63.4" y1="685.8" x2="63.4" y2="685.5" stroke="#000" stroke-width="1"/>
<line x1="60.4" y1="685.5" x2="66.3" y2="685.5" stroke="#000" stroke-width="1.1"/>
<line x1="74.0" y1="650.0" x2="74.0" y2="646.8" stroke="#000" stroke-width="1"/>
<line x1="71.0" y1="646.8" x2="77.0" y2="646.8" stroke="#000" stroke-width="1.1"/>
<line x1="84.8" y1="629.3" x2="84.8" y2="624.2" stroke="#000" stroke-width="1"/>
<line x1="81.8" y1="624.2" x2="87.8" y2="624.2" stroke="#000" stroke-width="1.1"/>
<rect x="106.4" y="683.5" width="10.7" height="3.8" fill="#4f81bd"/>
<rect x="117.1" y="669.8" width="10.7" height="17.5" fill="#9bbb59"/>
<rect x="127.8" y="636.4" width="10.7" height="50.9" fill="#c0504d"/>
<line x1="111.7" y1="683.5" x2="111.7" y2="683.2" stroke="#000" stroke-width="1"/>
<line x1="108.7" y1="683.2" x2="114.7" y2="683.2" stroke="#000" stroke-width="1.1"/>
<line x1="122.4" y1="669.8" x2="122.4" y2="669.2" stroke="#000" stroke-width="1"/>
<line x1="119.4" y1="669.2" x2="125.4" y2="669.2" stroke="#000" stroke-width="1.1"/>
<line x1="133.1" y1="636.4" x2="133.1" y2="634.5" stroke="#000" stroke-width="1"/>
<line x1="130.1" y1="634.5" x2="136.1" y2="634.5" stroke="#000" stroke-width="1.1"/>
<rect x="165.5" y="624.3" width="10.7" height="63.0" fill="#9bbb59"/>
<rect x="176.2" y="678.8" width="10.7" height="8.5" fill="#c0504d"/>
<line x1="170.8" y1="624.3" x2="170.8" y2="622.4" stroke="#000" stroke-width="1"/>
<line x1="167.8" y1="622.4" x2="173.8" y2="622.4" stroke="#000" stroke-width="1.1"/>
<line x1="181.5" y1="678.8" x2="181.5" y2="678.1" stroke="#000" stroke-width="1"/>
<line x1="178.5" y1="678.1" x2="184.5" y2="678.1" stroke="#000" stroke-width="1.1"/>
<rect x="203.2" y="684.1" width="10.7" height="3.2" fill="#4f81bd"/>
<rect x="213.9" y="648.2" width="10.7" height="39.1" fill="#9bbb59"/>
<rect x="224.6" y="669.1" width="10.7" height="18.2" fill="#c0504d"/>
<line x1="208.5" y1="684.1" x2="208.5" y2="683.8" stroke="#000" stroke-width="1"/>
<line x1="205.5" y1="683.8" x2="211.5" y2="683.8" stroke="#000" stroke-width="1.1"/>
<line x1="219.2" y1="648.2" x2="219.2" y2="645.3" stroke="#000" stroke-width="1"/>
<line x1="216.2" y1="645.3" x2="222.2" y2="645.3" stroke="#000" stroke-width="1.1"/>
<line x1="229.9" y1="669.1" x2="229.9" y2="668.5" stroke="#000" stroke-width="1"/>
<line x1="226.9" y1="668.5" x2="232.9" y2="668.5" stroke="#000" stroke-width="1.1"/>
<rect x="251.6" y="682.8" width="10.7" height="4.5" fill="#4f81bd"/>
<rect x="262.3" y="645.0" width="10.7" height="42.3" fill="#9bbb59"/>
<rect x="273.0" y="656.8" width="10.7" height="30.5" fill="#c0504d"/>
<line x1="256.9" y1="682.8" x2="256.9" y2="682.5" stroke="#000" stroke-width="1"/>
<line x1="253.9" y1="682.5" x2="259.9" y2="682.5" stroke="#000" stroke-width="1.1"/>
<line x1="267.7" y1="645.0" x2="267.7" y2="642.8" stroke="#000" stroke-width="1"/>
<line x1="264.7" y1="642.8" x2="270.7" y2="642.8" stroke="#000" stroke-width="1.1"/>
<line x1="278.4" y1="656.8" x2="278.4" y2="654.5" stroke="#000" stroke-width="1"/>
<line x1="275.4" y1="654.5" x2="281.4" y2="654.5" stroke="#000" stroke-width="1.1"/>
<line x1="49.9" y1="591.9" x2="49.9" y2="687.3" stroke="#000" stroke-width="1"/>
<line x1="49.9" y1="687.3" x2="291.9" y2="687.3" stroke="#000" stroke-width="1.1"/>
<line x1="45.4" y1="687.3" x2="49.9" y2="687.3" stroke="#000" stroke-width="1"/>
<text x="34.4" y="692.2" font-size="13.8" text-anchor="end">0</text>
<line x1="45.4" y1="655.5" x2="49.9" y2="655.5" stroke="#000" stroke-width="1"/>
<text x="34.4" y="660.4" font-size="13.8" text-anchor="end">0.5</text>
<line x1="45.4" y1="623.7" x2="49.9" y2="623.7" stroke="#000" stroke-width="1"/>
<text x="34.4" y="628.6" font-size="13.8" text-anchor="end">1</text>
<line x1="45.4" y1="591.9" x2="49.9" y2="591.9" stroke="#000" stroke-width="1"/>
<text x="34.4" y="596.8" font-size="13.8" text-anchor="end">1.5</text>
<line x1="49.9" y1="687.3" x2="49.9" y2="691.3" stroke="#000" stroke-width="1"/>
<line x1="98.3" y1="687.3" x2="98.3" y2="691.3" stroke="#000" stroke-width="1"/>
<line x1="146.7" y1="687.3" x2="146.7" y2="691.3" stroke="#000" stroke-width="1"/>
<line x1="195.1" y1="687.3" x2="195.1" y2="691.3" stroke="#000" stroke-width="1"/>
<line x1="243.5" y1="687.3" x2="243.5" y2="691.3" stroke="#000" stroke-width="1"/>
<line x1="291.9" y1="687.3" x2="291.9" y2="691.3" stroke="#000" stroke-width="1"/>
<text x="54.4" y="712.0" font-size="14" textLength="39.5" lengthAdjust="spacingAndGlyphs">FKBP5</text>
<text x="110.6" y="711.5" font-size="14" textLength="24.7" lengthAdjust="spacingAndGlyphs">PSA</text>
<text x="148.2" y="711.5" font-size="14" textLength="45.5" lengthAdjust="spacingAndGlyphs">NKX3-1</text>
<text x="203.1" y="711.5" font-size="14" textLength="31.5" lengthAdjust="spacingAndGlyphs">HES1</text>
<text x="253.8" y="711.5" font-size="14" textLength="27.6" lengthAdjust="spacingAndGlyphs">ELL2</text>
<text x="94.2" y="599.8" font-size="13.8" textLength="99.5" lengthAdjust="spacingAndGlyphs">Common genes</text>
<text x="10.5" y="661.0" font-size="12.3" textLength="79.9" lengthAdjust="spacingAndGlyphs" transform="rotate(-90 10.5 661.0)">Relative mRNA</text>
<rect x="57.3" y="827.7" width="12.6" height="10.5" fill="#4f81bd"/>
<rect x="69.9" y="829.9" width="12.6" height="8.3" fill="#9bbb59"/>
<rect x="82.5" y="755.0" width="12.6" height="83.2" fill="#c0504d"/>
<line x1="63.6" y1="827.7" x2="63.6" y2="826.7" stroke="#000" stroke-width="1"/>
<line x1="60.6" y1="826.7" x2="66.6" y2="826.7" stroke="#000" stroke-width="1.1"/>
<line x1="76.2" y1="829.9" x2="76.2" y2="829.4" stroke="#000" stroke-width="1"/>
<line x1="73.2" y1="829.4" x2="79.2" y2="829.4" stroke="#000" stroke-width="1.1"/>
<line x1="88.8" y1="755.0" x2="88.8" y2="752.1" stroke="#000" stroke-width="1"/>
<line x1="85.8" y1="752.1" x2="91.8" y2="752.1" stroke="#000" stroke-width="1.1"/>
<rect x="114.5" y="821.2" width="12.6" height="17.0" fill="#4f81bd"/>
<rect x="127.1" y="821.2" width="12.6" height="17.0" fill="#9bbb59"/>
<rect x="139.7" y="758.8" width="12.6" height="79.4" fill="#c0504d"/>
<line x1="120.8" y1="821.2" x2="120.8" y2="818.3" stroke="#000" stroke-width="1"/>
<line x1="117.8" y1="818.3" x2="123.8" y2="818.3" stroke="#000" stroke-width="1.1"/>
<line x1="133.4" y1="821.2" x2="133.4" y2="820.4" stroke="#000" stroke-width="1"/>
<line x1="130.4" y1="820.4" x2="136.4" y2="820.4" stroke="#000" stroke-width="1.1"/>
<line x1="146.0" y1="758.8" x2="146.0" y2="754.0" stroke="#000" stroke-width="1"/>
<line x1="143.0" y1="754.0" x2="149.0" y2="754.0" stroke="#000" stroke-width="1.1"/>
<rect x="171.7" y="829.5" width="12.6" height="8.7" fill="#4f81bd"/>
<rect x="184.3" y="823.0" width="12.6" height="15.2" fill="#9bbb59"/>
<rect x="196.9" y="752.0" width="12.6" height="86.2" fill="#c0504d"/>
<line x1="178.0" y1="829.5" x2="178.0" y2="828.8" stroke="#000" stroke-width="1"/>
<line x1="175.0" y1="828.8" x2="181.0" y2="828.8" stroke="#000" stroke-width="1.1"/>
<line x1="190.6" y1="823.0" x2="190.6" y2="822.5" stroke="#000" stroke-width="1"/>
<line x1="187.6" y1="822.5" x2="193.6" y2="822.5" stroke="#000" stroke-width="1.1"/>
<line x1="203.2" y1="752.0" x2="203.2" y2="750.1" stroke="#000" stroke-width="1"/>
<line x1="200.2" y1="750.1" x2="206.2" y2="750.1" stroke="#000" stroke-width="1.1"/>
<rect x="228.9" y="834.0" width="12.6" height="4.2" fill="#4f81bd"/>
<rect x="241.5" y="833.0" width="12.6" height="5.2" fill="#9bbb59"/>
<rect x="254.1" y="757.4" width="12.6" height="80.8" fill="#c0504d"/>
<line x1="235.2" y1="834.0" x2="235.2" y2="833.5" stroke="#000" stroke-width="1"/>
<line x1="232.2" y1="833.5" x2="238.2" y2="833.5" stroke="#000" stroke-width="1.1"/>
<line x1="247.8" y1="833.0" x2="247.8" y2="832.5" stroke="#000" stroke-width="1"/>
<line x1="244.8" y1="832.5" x2="250.8" y2="832.5" stroke="#000" stroke-width="1.1"/>
<line x1="260.4" y1="757.4" x2="260.4" y2="752.6" stroke="#000" stroke-width="1"/>
<line x1="257.4" y1="752.6" x2="263.4" y2="752.6" stroke="#000" stroke-width="1.1"/>
<line x1="47.7" y1="741.9" x2="47.7" y2="838.2" stroke="#000" stroke-width="1"/>
<line x1="47.7" y1="838.2" x2="276.7" y2="838.2" stroke="#000" stroke-width="1.1"/>
<line x1="43.2" y1="838.2" x2="47.7" y2="838.2" stroke="#000" stroke-width="1"/>
<text x="32.2" y="843.1" font-size="13.8" text-anchor="end">0</text>
<line x1="43.2" y1="790.1" x2="47.7" y2="790.1" stroke="#000" stroke-width="1"/>
<text x="32.2" y="795.0" font-size="13.8" text-anchor="end">0.5</text>
<line x1="43.2" y1="741.9" x2="47.7" y2="741.9" stroke="#000" stroke-width="1"/>
<text x="32.2" y="746.8" font-size="13.8" text-anchor="end">1</text>
<line x1="47.7" y1="838.2" x2="47.7" y2="842.2" stroke="#000" stroke-width="1"/>
<line x1="104.9" y1="838.2" x2="104.9" y2="842.2" stroke="#000" stroke-width="1"/>
<line x1="162.1" y1="838.2" x2="162.1" y2="842.2" stroke="#000" stroke-width="1"/>
<line x1="219.3" y1="838.2" x2="219.3" y2="842.2" stroke="#000" stroke-width="1"/>
<line x1="276.5" y1="838.2" x2="276.5" y2="842.2" stroke="#000" stroke-width="1"/>
<text x="52.6" y="862.5" font-size="14" textLength="47.0" lengthAdjust="spacingAndGlyphs">ELOVL7</text>
<text x="111.7" y="862.5" font-size="14" textLength="44.3" lengthAdjust="spacingAndGlyphs">TRPM8</text>
<text x="164.7" y="862.5" font-size="14" textLength="52.7" lengthAdjust="spacingAndGlyphs">PAK1IP1</text>
<text x="231.8" y="862.5" font-size="14" textLength="32.7" lengthAdjust="spacingAndGlyphs">SGK1</text>
<text x="95.7" y="737.5" font-size="13.8" textLength="110.4" lengthAdjust="spacingAndGlyphs">AR specific genes</text>
<text x="11.0" y="822.9" font-size="12.3" textLength="79.9" lengthAdjust="spacingAndGlyphs" transform="rotate(-90 11.0 822.9)">Relative mRNA</text>
<text x="9.9" y="425.4" font-size="21" font-weight="bold" textLength="25.1" lengthAdjust="spacingAndGlyphs">(e)</text>
<rect x="20.9" y="887.0" width="19.0" height="7.0" fill="#0070c0" rx="1.2"/>
<text x="46.6" y="894.0" font-size="14.2" textLength="45.4" lengthAdjust="spacingAndGlyphs">Vehicle</text>
<rect x="135.0" y="887.2" width="19.1" height="6.9" fill="#9bbb59" rx="1.2"/>
<text x="161.0" y="894.4" font-size="14.2" textLength="38.0" lengthAdjust="spacingAndGlyphs">AR-V7</text>
<rect x="240.4" y="887.2" width="18.7" height="6.9" fill="#c0504d" rx="1.2"/>
<text x="265.8" y="894.4" font-size="14.2" textLength="16.1" lengthAdjust="spacingAndGlyphs">AR</text>
<ellipse cx="402.3" cy="456.5" rx="42.8" ry="42.8" fill="none" stroke="#92d050" stroke-width="2.4"/>
<ellipse cx="442.5" cy="456.2" rx="42.0" ry="42.0" fill="none" stroke="#4bacc6" stroke-width="2.4"/>
<ellipse cx="422.4" cy="493.8" rx="44.0" ry="42.2" fill="none" stroke="#7030a0" stroke-width="2.4"/>
<ellipse cx="532.0" cy="456.9" rx="42.5" ry="42.5" fill="none" stroke="#c0504d" stroke-width="2.4"/>
<ellipse cx="572.4" cy="456.9" rx="42.1" ry="42.1" fill="none" stroke="#4bacc6" stroke-width="2.4"/>
<ellipse cx="551.8" cy="494.2" rx="43.3" ry="42.1" fill="none" stroke="#7030a0" stroke-width="2.4"/>
<ellipse cx="402.3" cy="581.8" rx="42.8" ry="42.8" fill="none" stroke="#92d050" stroke-width="2.4"/>
<ellipse cx="442.5" cy="581.5" rx="42.0" ry="42.0" fill="none" stroke="#4bacc6" stroke-width="2.4"/>
<ellipse cx="422.4" cy="619.1" rx="44.0" ry="42.2" fill="none" stroke="#7030a0" stroke-width="2.4"/>
<ellipse cx="532.0" cy="582.2" rx="42.5" ry="42.5" fill="none" stroke="#c0504d" stroke-width="2.4"/>
<ellipse cx="572.4" cy="582.2" rx="42.1" ry="42.1" fill="none" stroke="#4bacc6" stroke-width="2.4"/>
<ellipse cx="551.8" cy="619.5" rx="43.3" ry="42.1" fill="none" stroke="#7030a0" stroke-width="2.4"/>
<text x="317.9" y="444.4" font-size="21" font-weight="bold" textLength="21.0" lengthAdjust="spacingAndGlyphs">(f)</text>
<text x="328.2" y="479.5" font-size="14.6" textLength="17.0" lengthAdjust="spacingAndGlyphs">Up</text>
<text x="317.9" y="577.5" font-size="21" font-weight="bold" textLength="24.7" lengthAdjust="spacingAndGlyphs">(g)</text>
<text x="328.4" y="624.8" font-size="14.6" textLength="36.5" lengthAdjust="spacingAndGlyphs">Down</text>
<text x="372.3" y="441.8" font-size="12.4" textLength="20.2" lengthAdjust="spacingAndGlyphs">705</text>
<text x="416.1" y="441.8" font-size="12.4" textLength="14.5" lengthAdjust="spacingAndGlyphs">67</text>
<text x="452.4" y="441.8" font-size="12.4" textLength="20.2" lengthAdjust="spacingAndGlyphs">639</text>
<text x="416.1" y="475.9" font-size="12.4" textLength="13.2" lengthAdjust="spacingAndGlyphs">18</text>
<text x="384.6" y="487.8" font-size="12.4" textLength="19.7" lengthAdjust="spacingAndGlyphs">109</text>
<text x="443.2" y="487.8" font-size="12.4" textLength="13.7" lengthAdjust="spacingAndGlyphs">95</text>
<text x="409.0" y="516.7" font-size="12.4" textLength="27.6" lengthAdjust="spacingAndGlyphs">1279</text>
<text x="502.3" y="443.1" font-size="12.4" textLength="19.7" lengthAdjust="spacingAndGlyphs">605</text>
<text x="546.1" y="443.1" font-size="12.4" textLength="13.2" lengthAdjust="spacingAndGlyphs">38</text>
<text x="581.9" y="443.1" font-size="12.4" textLength="20.2" lengthAdjust="spacingAndGlyphs">668</text>
<text x="545.6" y="476.5" font-size="12.4" textLength="6.6" lengthAdjust="spacingAndGlyphs">6</text>
<text x="519.9" y="488.6" font-size="12.4" textLength="12.6" lengthAdjust="spacingAndGlyphs">71</text>
<text x="568.5" y="488.6" font-size="12.4" textLength="19.9" lengthAdjust="spacingAndGlyphs">107</text>
<text x="539.0" y="517.5" font-size="12.4" textLength="26.8" lengthAdjust="spacingAndGlyphs">1317</text>
<text x="372.3" y="567.0" font-size="12.4" textLength="20.2" lengthAdjust="spacingAndGlyphs">503</text>
<text x="416.9" y="567.0" font-size="12.4" textLength="12.6" lengthAdjust="spacingAndGlyphs">21</text>
<text x="452.4" y="567.0" font-size="12.4" textLength="20.2" lengthAdjust="spacingAndGlyphs">521</text>
<text x="416.4" y="600.7" font-size="12.4" textLength="6.3" lengthAdjust="spacingAndGlyphs">2</text>
<text x="384.6" y="613.0" font-size="12.4" textLength="13.1" lengthAdjust="spacingAndGlyphs">74</text>
<text x="443.2" y="613.0" font-size="12.4" textLength="13.7" lengthAdjust="spacingAndGlyphs">52</text>
<text x="409.0" y="641.9" font-size="12.4" textLength="27.6" lengthAdjust="spacingAndGlyphs">1153</text>
<text x="502.3" y="567.8" font-size="12.4" textLength="19.7" lengthAdjust="spacingAndGlyphs">745</text>
<text x="546.1" y="567.8" font-size="12.4" textLength="13.2" lengthAdjust="spacingAndGlyphs">61</text>
<text x="581.9" y="567.8" font-size="12.4" textLength="20.2" lengthAdjust="spacingAndGlyphs">481</text>
<text x="545.6" y="601.2" font-size="12.4" textLength="6.6" lengthAdjust="spacingAndGlyphs">5</text>
<text x="514.1" y="613.5" font-size="12.4" textLength="13.1" lengthAdjust="spacingAndGlyphs">44</text>
<text x="572.7" y="613.5" font-size="12.4" textLength="13.6" lengthAdjust="spacingAndGlyphs">49</text>
<text x="539.0" y="642.4" font-size="12.4" textLength="26.8" lengthAdjust="spacingAndGlyphs">1183</text>
<rect x="631.2" y="452.9" width="19.3" height="7.2" fill="#c0504d" rx="1.5"/>
<rect x="631.2" y="507.1" width="19.3" height="7.2" fill="#7030a0" rx="1.5"/>
<rect x="631.2" y="557.3" width="19.3" height="7.2" fill="#9bbb59" rx="1.5"/>
<rect x="631.2" y="609.3" width="19.3" height="7.2" fill="#4bacc6" rx="1.5"/>
<text x="633.0" y="480.5" font-size="13.5" textLength="17.0" lengthAdjust="spacingAndGlyphs">AR</text>
<text x="609.1" y="533.8" font-size="13.5" textLength="68.3" lengthAdjust="spacingAndGlyphs">LNCaP ABL</text>
<text x="624.2" y="584.5" font-size="13.5" textLength="38.9" lengthAdjust="spacingAndGlyphs">AR-V7</text>
<text x="624.2" y="635.6" font-size="13.5" textLength="37.4" lengthAdjust="spacingAndGlyphs">C4-2B</text>
<ellipse cx="358.0" cy="791.0" rx="55.0" ry="53.0" fill="none" stroke="#9bbb59" stroke-width="2.1"/>
<ellipse cx="408.3" cy="791.8" rx="54.4" ry="54.3" fill="none" stroke="#00b050" stroke-width="2.2"/>
<ellipse cx="382.3" cy="838.6" rx="54.5" ry="53.2" fill="none" stroke="#4f6228" stroke-width="2.1"/>
<ellipse cx="551.4" cy="793.8" rx="55.0" ry="53.3" fill="none" stroke="#9bbb59" stroke-width="2.1"/>
<ellipse cx="601.7" cy="794.2" rx="53.9" ry="54.2" fill="none" stroke="#00b050" stroke-width="2.2"/>
<ellipse cx="576.5" cy="841.7" rx="55.0" ry="53.3" fill="none" stroke="#4f6228" stroke-width="2.1"/>
<text x="318.9" y="702.5" font-size="21" font-weight="bold" textLength="28.1" lengthAdjust="spacingAndGlyphs">(h)</text>
<text x="364.7" y="703.0" font-size="14" textLength="77.8" lengthAdjust="spacingAndGlyphs">Upregulated</text>
<text x="319.5" y="730.5" font-size="14.2" textLength="38.7" lengthAdjust="spacingAndGlyphs">AR-V7</text>
<text x="427.3" y="730.7" font-size="14.2" textLength="61.9" lengthAdjust="spacingAndGlyphs">Cai AR-V7</text>
<text x="512.7" y="701.0" font-size="21" font-weight="bold" textLength="19.0" lengthAdjust="spacingAndGlyphs">(i)</text>
<text x="545.4" y="701.0" font-size="14" textLength="97.3" lengthAdjust="spacingAndGlyphs">Downregulated</text>
<text x="518.6" y="729.6" font-size="14.2" textLength="37.9" lengthAdjust="spacingAndGlyphs">AR-V7</text>
<text x="622.2" y="730.9" font-size="14.2" textLength="62.0" lengthAdjust="spacingAndGlyphs">Cai AR-V7</text>
<text x="317.8" y="787.4" font-size="14.7" textLength="23.3" lengthAdjust="spacingAndGlyphs">940</text>
<text x="372.4" y="774.9" font-size="14.7" textLength="24.8" lengthAdjust="spacingAndGlyphs">519</text>
<text x="426.4" y="787.4" font-size="14.7" textLength="32.1" lengthAdjust="spacingAndGlyphs">2982</text>
<text x="374.4" y="816.6" font-size="14.7" textLength="16.4" lengthAdjust="spacingAndGlyphs">99</text>
<text x="340.3" y="831.2" font-size="14.7" textLength="16.6" lengthAdjust="spacingAndGlyphs">43</text>
<text x="407.4" y="831.2" font-size="14.7" textLength="23.4" lengthAdjust="spacingAndGlyphs">235</text>
<text x="372.4" y="868.3" font-size="14.7" textLength="24.2" lengthAdjust="spacingAndGlyphs">613</text>
<text x="439.5" y="866.9" font-size="14.7" textLength="16.1" lengthAdjust="spacingAndGlyphs">He</text>
<text x="439.5" y="883.8" font-size="14.7" textLength="39.5" lengthAdjust="spacingAndGlyphs">AR-V7</text>
<text x="510.7" y="787.4" font-size="14.7" textLength="23.3" lengthAdjust="spacingAndGlyphs">962</text>
<text x="566.2" y="775.8" font-size="14.7" textLength="23.3" lengthAdjust="spacingAndGlyphs">120</text>
<text x="620.8" y="787.4" font-size="14.7" textLength="23.3" lengthAdjust="spacingAndGlyphs">928</text>
<text x="573.2" y="819.6" font-size="14.7" textLength="15.4" lengthAdjust="spacingAndGlyphs">24</text>
<text x="527.3" y="832.4" font-size="14.7" textLength="23.4" lengthAdjust="spacingAndGlyphs">138</text>
<text x="601.8" y="832.4" font-size="14.7" textLength="22.8" lengthAdjust="spacingAndGlyphs">121</text>
<text x="566.2" y="869.2" font-size="14.7" textLength="23.3" lengthAdjust="spacingAndGlyphs">869</text>
<text x="639.7" y="851.7" font-size="14.7" textLength="17.6" lengthAdjust="spacingAndGlyphs">He</text>
<text x="639.7" y="869.8" font-size="14.7" textLength="38.6" lengthAdjust="spacingAndGlyphs">AR-V7</text>
</svg></body></html>
